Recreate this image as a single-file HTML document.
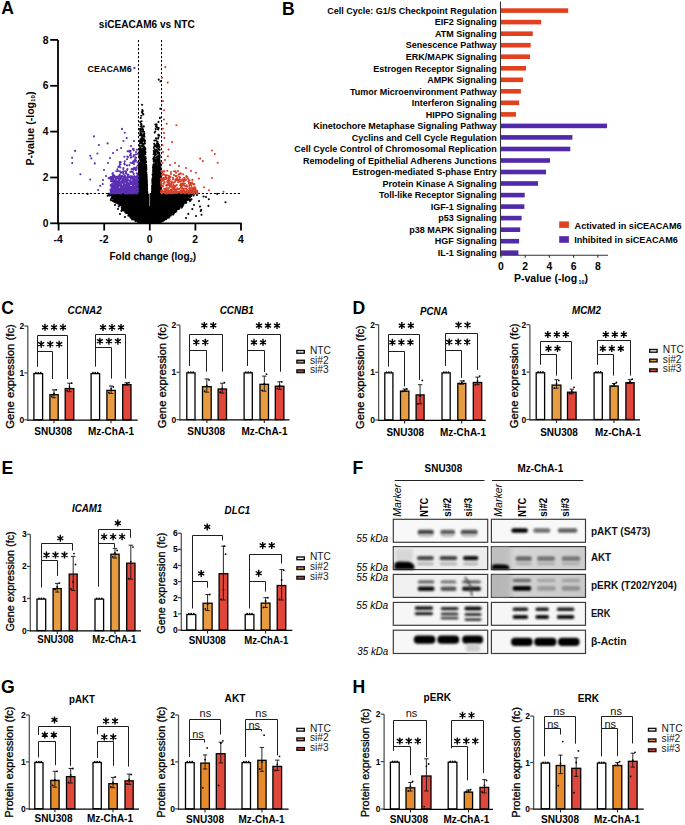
<!DOCTYPE html>
<html><head><meta charset="utf-8"><style>
html,body{margin:0;padding:0;background:#fff;width:685px;height:825px;overflow:hidden;}
svg{display:block;font-family:"Liberation Sans", sans-serif;}
</style></head><body>
<svg width="685" height="825" viewBox="0 0 685 825" font-family='"Liberation Sans", sans-serif'>
<rect width="685" height="825" fill="#fff"/>
<text x="1.3" y="14.2" font-size="17.6" font-weight="bold" text-anchor="start" fill="#000">A</text>
<text x="282" y="14.6" font-size="17.6" font-weight="bold" text-anchor="start" fill="#000">B</text>
<text x="1.3" y="314.2" font-size="17.6" font-weight="bold" text-anchor="start" fill="#000">C</text>
<text x="352.4" y="314.2" font-size="17.6" font-weight="bold" text-anchor="start" fill="#000">D</text>
<text x="1.6" y="474.2" font-size="17.6" font-weight="bold" text-anchor="start" fill="#000">E</text>
<text x="352.6" y="474" font-size="17.6" font-weight="bold" text-anchor="start" fill="#000">F</text>
<text x="1" y="692.7" font-size="17.6" font-weight="bold" text-anchor="start" fill="#000">G</text>
<text x="352.4" y="692.7" font-size="17.6" font-weight="bold" text-anchor="start" fill="#000">H</text>
<path d="M139.4 221.7L137.4 220.2L135.6 218.7L134 217.2L132.5 215.8L131 214.3L129.6 212.8L128.2 211.3L126.9 209.8L125.7 208.3L124.4 206.8L123.2 205.4L122 203.9L120.8 202.4L119.7 200.9L118.6 199.4L117.4 197.9L116.3 196.5L115.3 195L114.2 193.5L187.5 193.5L186.3 195L185.1 196.5L183.9 197.9L182.6 199.4L181.4 200.9L180.1 202.4L178.8 203.9L177.5 205.4L176.1 206.8L174.8 208.3L173.3 209.8L171.9 211.3L170.4 212.8L168.8 214.3L167.2 215.8L165.5 217.2L163.7 218.7L161.7 220.2L159.5 221.7Z" fill="#000"/>
<g stroke="#000" stroke-width="1" stroke-dasharray="2.2 1.8" fill="none">
<path d="M138.5 40V223.3M161.5 40V223.3M57.8 193.5H241"/>
</g>
<path d="M183.2 199.2h0M130.2 214.3h0M125.6 210.7h0M184.7 193.5h0M174.4 209.9h0M119.7 198h0M122.1 202.9h0M168 214.7h0M176.4 202.8h0M185.6 196.5h0M119.7 202h0M127 209.9h0M116.7 199.1h0M118 202.3h0M133.5 215.8h0M171.7 207.8h0M159.7 222.2h0M119.5 198h0M175.8 211h0M168.9 215.6h0M121.6 202.7h0M122.1 203.9h0M119.9 204.1h0M132.9 217h0M174.1 211.5h0M183.3 195.2h0M119.9 199h0M119.3 197.9h0M172.7 208.6h0M128 210.9h0M178.2 204.2h0M170.4 213.1h0M118.2 198.6h0M161.2 220.5h0M164.5 218.5h0M172.2 208.3h0M118.6 197.4h0M138.6 220.9h0M171.3 212.7h0M124.3 208.6h0M115.4 197.6h0M170.9 211h0M174.7 208h0M140.1 222.4h0M131.9 216.4h0M167.3 216.3h0M129.2 212.4h0M184.7 202.8h0M175.9 211.7h0M113.2 198.6h0M175.1 207.9h0M130.9 213.4h0M160 221.4h0M113.8 198.3h0M173.1 208.3h0M175.1 207.3h0M119.7 204.7h0M117.2 203h0M181.4 200.9h0M126.5 209.7h0M138 222.1h0M168.8 217.8h0M166.3 217h0M122.6 206.6h0M176.1 208.4h0M122.4 201.3h0M130.2 213.2h0M128.2 212h0M137.2 220.9h0M178.2 205.1h0M169.3 215.6h0M162.7 219.7h0M117.9 199.8h0M124.9 207.8h0M117.4 198.6h0M113.9 195h0M129 210.4h0M139 220.9h0M161.9 220.8h0M140 221.9h0M136.3 218.7h0M135.2 219.3h0M140.3 222.1h0M122.4 202.7h0M167.7 215.4h0M161.9 220.5h0M174.9 210.8h0M133.8 217.1h0M171.9 211.4h0M130.4 212.8h0M172 211.9h0M181.5 206.4h0M118.3 199.2h0M113 196.8h0M163 218.6h0M175.3 208.8h0M127.4 207.6h0M117.9 198.8h0M158 222.2h0M122 202.8h0M133.1 217.1h0M139 220.6h0M113.3 198.2h0M140.8 222.4h0M186.4 195.5h0M115.1 195.5h0M125.7 205.6h0M169.5 211.9h0M167.1 214.4h0M121.1 205.3h0M119.3 203.2h0M131.2 215h0M160.8 220.6h0M169.8 215.2h0M170.9 215.5h0M189.9 196.5h0M179.9 205.6h0M180.1 202.4h0M122.1 201.1h0M113.4 193.8h0M138 220.5h0M138.8 221.5h0M165.6 218.1h0M116.7 195.9h0M171.3 212.4h0M183 201.3h0M124 208.9h0M119.6 196.9h0M181.5 203.4h0M138.8 222h0M175.3 206.6h0M124.9 207.5h0M179.9 205.6h0M134.5 219h0M122.7 209.4h0M118.8 198.6h0M135 220h0M123.2 210.3h0M115.1 198.2h0M122.6 207.5h0M185.7 197.8h0M114.8 199.7h0M136.7 219.5h0M167.3 217h0M176.7 205.8h0M139.1 222.3h0M136 218.2h0M130.7 211.6h0M175.2 207.1h0M188.5 198h0M181.6 206.8h0M175 206h0M123.7 209h0M141.1 222.4h0M180.9 203.6h0M160.3 221.4h0M137.4 220h0M136.1 220.8h0M181.7 202.7h0M115 198h0M120.6 200.4h0M114.5 197.4h0M175.2 209.4h0M118.9 198.6h0M135.2 218.4h0M131.2 215.6h0M126.3 205.8h0M114.5 202h0M164.4 217.6h0M167.9 214.1h0M132.7 216.8h0M121.3 204.7h0M159.7 221.9h0M126.5 209.5h0M113.1 198.9h0M131.5 212.4h0M162.9 219.6h0M124.2 201.4h0M125.1 202.9h0M125.7 209.2h0M139 222.3h0M131 212.9h0M181.3 203h0M142 222.6h0M183.3 198.9h0M119.1 202.5h0M177.6 206.4h0M190.1 196.3h0M124.3 208.4h0M127 203.9h0M173.8 206.7h0M134.9 219.7h0M139.3 221.7h0M118.1 199h0M138.7 221.5h0M178.9 205.5h0M123.2 198.3h0M122.5 203.3h0M126.9 210.6h0M129.8 215.2h0M174.4 209.3h0M125.7 210.9h0M110.8 195.1h0M122.6 203.5h0M125.6 207.6h0M129 212.8h0M109.8 195.1h0M171.7 212.4h0M186.7 199.9h0M162 218.3h0M118.5 201.2h0M166.5 218.8h0M123.5 206.1h0M181.9 196.4h0M178.5 201.5h0M136.8 219.4h0M173.3 210.8h0M133.8 219.5h0M113.1 198h0M166.9 214.1h0M170.9 212.8h0M128.4 212.3h0M129.8 215.1h0M164 220.2h0M176.6 205.6h0M174.4 212.4h0M125.5 206.9h0M159.9 221.6h0M165.4 218.4h0M183.1 198.3h0M126.4 208.7h0M131.2 214.7h0M175.2 205.8h0M135.1 219.4h0M183.1 202.1h0M132.7 215.8h0M141.1 222.3h0M182.5 205.5h0M170.8 213.7h0M127 208.6h0M135.7 219.5h0M171.3 211.6h0M176 208.2h0M163.2 219.6h0M122.5 207.6h0M185.7 201.4h0M183 199.9h0M126 212.6h0M138.3 221h0M175.5 210.6h0M120.5 202h0M119.2 200.4h0M123.8 204.1h0M185.2 194.3h0M188.6 199.8h0M169.7 212.9h0M116.6 195.9h0M122.2 205.9h0M171.6 212.4h0M181.9 198.4h0M159.4 222.1h0M164.9 218.7h0M161.2 220.2h0M169.9 211.8h0M175.6 208.7h0M163.5 218.8h0M183.2 196.4h0M135.1 219.1h0M188.8 199.7h0M160 221.6h0M188.9 194.6h0M121.5 210.9h0M176.1 210h0M177.8 208.9h0M186.3 195.6h0M118.6 203.8h0M120.3 205h0M127 211.2h0M131.6 214.5h0M178.6 207.3h0M113.9 195.4h0M116.3 200.7h0M127.8 207.2h0M180.1 203.2h0M120.8 203.2h0M126.5 211h0M124.8 209.1h0M164.9 218.7h0M183.3 196h0M136.7 218.3h0M116.2 195.8h0M129.8 211.8h0M172 208.6h0M167 215.6h0M119.6 202.4h0M140.8 222.6h0M176.9 209.2h0M124.3 203.7h0M166.6 217.2h0M185.6 196h0M170.6 214.2h0M128.6 208.9h0M133.2 216.4h0M119.1 197.6h0M187.7 199.8h0M177.5 205.3h0M132.3 214.9h0M186.9 198.2h0M120.8 196.4h0M175 205.3h0M115.9 202.6h0M184.4 200.8h0M162.9 220.6h0M128.6 214h0M186.8 193.7h0M114.2 197.9h0M124.6 207h0M180.3 206.4h0M117 199.2h0M182.6 206.3h0M123.1 206.6h0M172.4 209.9h0M178.9 207.3h0M138.7 222.1h0M188.9 194h0M172.7 211.4h0M167.2 217.8h0M166.7 215.7h0M185.8 197.6h0M166.8 217.2h0M183.9 201.4h0M137.9 221h0M183.5 202.7h0M125.5 207.4h0M138.4 221.2h0M160.9 220.5h0M181.5 202.6h0M130.8 215.5h0M181.6 203.6h0M135.4 218.7h0M165.5 215.1h0M171.4 211.9h0M132.9 216.5h0M130.8 216.9h0M187.3 197.7h0M111.7 195.8h0M174.3 211.6h0M129.2 215.2h0M120.5 202.6h0M114.1 199.3h0M122.1 203.5h0M178.7 204.4h0M165.4 218.6h0M134.5 219.1h0M191.7 193.9h0M115.4 197.9h0M138.3 220.8h0M133.8 217.7h0M137.9 219.7h0M186.4 199.8h0M113.7 195h0M182.7 200.8h0M173.1 214.6h0M160.3 221.3h0M113.9 197.7h0M185.9 196.1h0M164.5 217.6h0M116.8 197.6h0M171.3 211.7h0M133.8 217.7h0M186.2 195.2h0M134.2 216.5h0M133.7 216.4h0M180 203.5h0M173.8 210.4h0M126.9 210h0M163.4 220.1h0M138.1 220.4h0M166.1 219.1h0M174.5 209.2h0M118 199.2h0M163.2 218.9h0M128.4 211.2h0M128.5 212.2h0M164.5 218h0M125.2 209.2h0M128 213.1h0M141.2 222.3h0M158.5 222.4h0M119.2 201.7h0M169 216.6h0M133.7 216.8h0M162.6 218.4h0M190.7 196.1h0M182.8 201.4h0M139.9 222.3h0M174.1 206.7h0M171.6 212.7h0M172.8 210.7h0M118.4 203.5h0M115.2 194.1h0M139.6 222.1h0M182.9 204.7h0M128.2 212.3h0M175.5 209.1h0M181.2 201h0M129.7 212.7h0M183.3 199.3h0M120.9 202.1h0M118.3 195.2h0M125.3 209.4h0M170.3 213.4h0M163.3 219.4h0M128.8 211.9h0M172.4 210.3h0M165.8 218h0M124.2 206.9h0M176.7 204.7h0M162.4 220.4h0M174.5 211.9h0M168.3 214.5h0M114.8 195.8h0M124.9 208.7h0M118.2 198.2h0M119.2 203h0M122.3 206.1h0M173.6 207.4h0M109.3 194.2h0M182.1 198.3h0M113.5 196.6h0M178.5 204h0M183.3 198.5h0M118.8 196h0M187.9 194.4h0M123.7 204.9h0M166.1 218.2h0M128.9 209.8h0M176.4 204.4h0M181.3 205.1h0M181.9 197.5h0M177.1 207.5h0M176.1 207.7h0M115.5 200.5h0M180.4 200.9h0M127.4 212.2h0M135.3 219.4h0M172.4 210.8h0M115 201.7h0M117.6 200.1h0M126.2 210.2h0M137.9 221.3h0M185.4 201h0M131.5 216.5h0M173.2 210.1h0M163.5 219.2h0M119.9 204h0M124.6 204.3h0M131.5 214.6h0M181.8 207.6h0M174.6 212.3h0M177.9 206.3h0M166.2 217.5h0M174 206.2h0M172.1 212.2h0M133 215.8h0M169.5 216.5h0M157.8 222.5h0M119.6 199.5h0M137.7 220.3h0M177.4 206.9h0M181.3 196.4h0M131.6 213h0M185.8 202.8h0M121.8 207.5h0M161.8 221.1h0M118.8 201.3h0M183.5 194.9h0M134.2 217.9h0M174.5 210.8h0M189.4 193.5h0M128.5 208.9h0M171.6 211.1h0M126.5 213h0M179.1 203.1h0M169.2 214.6h0M180.6 195.9h0M131.5 217.8h0M111.5 194.9h0M133.5 216.8h0M165.6 219h0M174.1 205.2h0M113.6 195h0M119.3 199.6h0M160.6 221.4h0M161.1 220h0M116.4 202.5h0M177.1 199.9h0M121.8 199.2h0M126.9 208.4h0M180.1 194.2h0M190.5 193.9h0M118.7 203.6h0M124.6 210h0M120.4 201.4h0M158.1 221.4h0M129.5 213h0M120.3 205.3h0M169.9 214.2h0M179.9 203.1h0M118.3 203.8h0M114.8 197.2h0M127.6 207.1h0M183.1 198h0M133.1 215.7h0M133 218h0M165.6 217.7h0M135.4 221h0M141.8 222.3h0M123.7 205.3h0M161.3 219.4h0M113 196.5h0M129 215.6h0M160.8 220.1h0M175.3 208.9h0M182.9 198.3h0M166.8 214.8h0M185.4 201.2h0M178.5 203.6h0M128.3 208.1h0M182.4 200.4h0M136.9 220h0M179.9 203.4h0M120.5 205.2h0M135.9 219.1h0M186.3 202.8h0M136 219.3h0M169.1 216.1h0M189 194.9h0M123.5 204.4h0M137.6 218.8h0M123.8 208.9h0M162.3 220.3h0M129.7 212h0M121.8 205.1h0M192.5 193.9h0M124 210.6h0M176.8 208.1h0M178.8 206.6h0M162.1 221.2h0M182 200.9h0M178.6 204.7h0M168.7 215.6h0M169.4 214.4h0M133.7 217.7h0M121.1 201.1h0M135.3 219.1h0M192.8 194.2h0M128.3 213.3h0M164.2 219.4h0M160.8 221.3h0M125.3 205.5h0M115.6 193.6h0M179.9 205.2h0M122.4 206.3h0M186.3 196.2h0M171.1 214.4h0M133.1 218.5h0M189.4 195.3h0M176.9 207.3h0M127.8 211.9h0M192.2 193.9h0M136.8 220h0M178.1 207.8h0M120.3 202.3h0M162.1 219.4h0M135.2 219.8h0M121.4 204.9h0M171.6 213.9h0M107.6 195.7h0M168.6 216.4h0M126.2 210.3h0M115.9 194.9h0M118.4 197.8h0M172.7 212.3h0M132.3 213.7h0M134.4 217.4h0M130.7 213.4h0M135.1 217.4h0M122.3 204.1h0M118.9 201.5h0M116.4 200.5h0M185.7 201.3h0M122 203.6h0M138.1 220.4h0M131.4 215.3h0M160 222.3h0M128.9 213.8h0M131.7 214.2h0M125.7 212.8h0M184.9 199.3h0M128.2 207.2h0M123.7 206.8h0M173.9 211.7h0M188.8 193.6h0M174.8 203.4h0M123.5 208.8h0M122.3 209.2h0M113.9 196.8h0M139.1 220.7h0M171.1 214.3h0M169 212.8h0M119.3 200.3h0M123.9 202.6h0M181.1 205.6h0M191.3 196h0M159.8 222.2h0M114.6 195.3h0M157.8 222.4h0M173.7 206.2h0M116.8 202.4h0M181.6 206.4h0M134 218.9h0M128.9 214h0M140.2 221.2h0M124.6 204.9h0M119.8 203.1h0M140.1 221.9h0M167.4 217.3h0M126.8 204.6h0M177.1 198.1h0M188.3 194h0M176.9 207.6h0M115.9 199.5h0M113 194.2h0M119.5 203.3h0M137 220.1h0M190.2 196.9h0M127.6 209h0M186.3 195.8h0M179.2 204.3h0M173.9 208.4h0M168.6 213.6h0M122.1 207.5h0M172.6 211h0M126.3 206h0M125.9 209.6h0M162.8 216.4h0M131.6 212.4h0M139.5 221.4h0M132.1 213.1h0M120.8 198.6h0M167 216.9h0M166.2 214.7h0M176.5 206.6h0M116.1 197.6h0M187.1 198.9h0M161.8 220.4h0M175 209.8h0M132.8 216.7h0M124.7 206.7h0M115.6 201.6h0M170.1 212.5h0M170.4 214.2h0M175.4 205.9h0M133.3 217.8h0M163.5 219.2h0M125.2 208.1h0M137.1 218.7h0M130.5 217.6h0M131 215.1h0M108.6 193.8h0M119.1 200.7h0M187.2 200.3h0M185 202.9h0M114.2 200.7h0M122.6 204.1h0M122.3 205.6h0M131.6 214.8h0M173.7 210.8h0M117.7 200.5h0M179.1 206.6h0M171.8 205.8h0M136.1 217.2h0M132.2 215.5h0M180 203.7h0M172.5 212.3h0M160.2 220.9h0M139.5 221.6h0M185.8 199.1h0M186.1 197h0M133.1 217h0M186 194.9h0M114.2 198.1h0M175.5 208.3h0M174.7 212.3h0M110.8 199.9h0M176.9 209.2h0M166.5 214.2h0M130.4 217.1h0M115.7 200.9h0M191.5 199.3h0M138.1 221.9h0M124.4 208.4h0M175.8 206h0M178.2 207.1h0M159.4 221.8h0M179.5 203.6h0M121.1 203.1h0M117.7 197.2h0M177.6 201.4h0M186.2 200.8h0M133.9 217.2h0M174.8 201.9h0M187.6 195h0M173.7 207.4h0M125.8 209.1h0M122.4 206.6h0M169.9 209.9h0M177.3 204.1h0M173.8 213.5h0M125 205.6h0M164.2 217h0M174.7 204.1h0M123.3 209.3h0M180.5 197.2h0M129.4 213.2h0M163.5 220.6h0M169 215.6h0M165.7 217.6h0M159.2 221.6h0M167.8 216.8h0M169.3 215.1h0M133.8 216.3h0M122.7 209.6h0M128.3 215.6h0M117.4 197.8h0M180.3 206h0M125.1 203.8h0M138.7 221.5h0M125.8 209.3h0M180.7 200h0M176 206.3h0M132.3 218.2h0M126.5 210.3h0M190 201.1h0M184.9 200.6h0M163.6 219.3h0M183.1 202.3h0M117.3 196h0M172.8 207.7h0M139.2 220h0M122.9 205.8h0M119.1 195.7h0M177.2 207.8h0M189.7 199.2h0M169.5 215.7h0M171.8 213.3h0M164.2 219.5h0M174.9 205.9h0M112.7 195.2h0M179.4 195.4h0M130.8 216.3h0M174.1 204.6h0M131.8 215.9h0M158.8 221.8h0M133.8 217.2h0M182 193.9h0M114.6 198.9h0M175.5 210.4h0M189.2 195.7h0M130.2 214.8h0M125 208.3h0M130.2 215h0M111.8 197.8h0M118.9 200.5h0M118.8 198h0M185.3 201.9h0M174.9 208h0M184 195.2h0M177.2 208h0M122.6 205.3h0M174.5 211h0M115.7 201.3h0M117.5 200.4h0M139.8 221.1h0M175.2 209.5h0M138.2 221.1h0M118.7 206.4h0M109.3 195.4h0M174.4 204.2h0M189.5 199.1h0M181.9 205.2h0M171.5 208.9h0M158.6 221.5h0M181.7 200.9h0M160.4 219.8h0M184.8 197.4h0M180.8 200h0M119.4 198.7h0M181.5 199.2h0M125.8 207.5h0M112.8 193.9h0M177.1 205.2h0M139.7 221.8h0M128.9 211.1h0M120.2 201.3h0M161.5 220.7h0M181.5 205.4h0M166.1 217.1h0M167.4 213.4h0M168.9 214.5h0M186.3 193.8h0M125.3 212.3h0M115.3 199.3h0M124 204.5h0M176.4 210.7h0M176.5 208.4h0M112.3 200.7h0M128.2 209.2h0M112.6 195.6h0M136.9 220.2h0M135.7 220.1h0M164.6 219.8h0M121.1 204.6h0M158 221.9h0M122.8 204h0M134.4 218.5h0M115.6 196.4h0M137.1 221h0M183.3 195.9h0M123.7 204.1h0M128 211.1h0M180.3 205.6h0M122.7 205.6h0M180.9 204.6h0M118.9 202.3h0M163.7 217.5h0M170.2 212h0M116.2 193.6h0M183.6 202h0M131.4 212.4h0M134.5 218.4h0M129.9 213.8h0M125 206.2h0M113.5 197.9h0M131.8 215h0M118.1 200.1h0M162.6 219.3h0M123.4 204.5h0M183.4 204.7h0M128.4 212.2h0M170 207.7h0M132.2 219.4h0M112 194.8h0M174.8 210.4h0M122.4 208.5h0M127.5 212.6h0M170.5 213.7h0M175.7 205.4h0M123.9 206.1h0M118 196.2h0M130.3 212.3h0M130.3 213.2h0M121 199.6h0M174 212.2h0M119.7 198.2h0M129.4 213.1h0M165.8 216.7h0M131 215.8h0M123.7 203.8h0M181.6 205.5h0M165.2 217.5h0M125.4 205.3h0M135.9 220.3h0M117.9 196.1h0M163.6 220.1h0M174.9 208.8h0M124.3 206.3h0M116.5 196.2h0M127.5 209.4h0M168 214h0M177.6 204.6h0M183.9 196.4h0M170.5 214.3h0M182.2 206.7h0M187.9 193.8h0M181.4 201.3h0M114.5 194.4h0M120.5 203.7h0M172.1 211h0M177.7 206.6h0M169.2 216.6h0M172.2 210.2h0M188.5 194.2h0M177.5 208.2h0M128.5 212.1h0M181.9 201.2h0M112.7 194.6h0M124.7 208.5h0M157.5 222.2h0M160.6 222h0M183.6 198.7h0M194.9 193.6h0M160.6 219.8h0M124.2 205.2h0M183 202.1h0M115.1 197.9h0M138.8 221h0M114.6 201.6h0M164.5 218.1h0M125.8 209.2h0M120.4 201.7h0M126.9 208.4h0M115.3 198.3h0M118.7 195.8h0M116.7 199.6h0M119.9 203.4h0M188.2 196.2h0M158.9 222.3h0M180.5 201.6h0M159 222.2h0M179 208.9h0M190.4 193.7h0M166.2 217.1h0M174.5 211.3h0M165.2 217.1h0M183.6 202.4h0M111.2 198.6h0M178.7 202.9h0M115.2 198.3h0M176.9 209.1h0M133.8 217.8h0M117.7 195.5h0M180.2 203h0M175.9 205.6h0M127.3 209.4h0M179.4 208.3h0M171.7 211.3h0M131 215.3h0M189.6 193.7h0M180 198.7h0M182.2 202.8h0M187.1 199.2h0M164.6 217.8h0M139.7 221.5h0M176.6 204h0M114.3 198.9h0M139.9 221.9h0M126.7 211.7h0M137.2 220.7h0M135.3 220.1h0M181.4 201.6h0M133.3 217.5h0M188.8 194.2h0M116.6 199.8h0M138.5 221.2h0M193.6 195.5h0M176.3 205.6h0M116.8 194.3h0M183.6 200.3h0M113.2 200.2h0M173.8 209.8h0M130.2 214.7h0M190.2 193.6h0M187.2 195.2h0M130.1 210.9h0M166.9 218.3h0M166.4 215.3h0M137.9 219.5h0M113.6 196.1h0M125.9 204.9h0M137.1 220.4h0M136.4 220.5h0M121.8 209.2h0M175 207.5h0M181.2 200.7h0M181 200.1h0M119.9 198.9h0M115.5 198.9h0M163 219.4h0M132 217h0M125.9 207.2h0M127.4 212h0M179.1 202.5h0M190.3 196h0M171.5 213.2h0M119.3 204h0M161.5 220.1h0M129.7 212.7h0M132.5 212h0M124.7 207.8h0M134.5 218.6h0M116.2 197.2h0M115 197.9h0M170.5 213.8h0M189.8 194h0M160.5 220.6h0M118.4 198.1h0M140.7 221.4h0M121.6 199.8h0M145.7 222.1h0M158.3 220.8h0M141 221.2h0M145.1 221.3h0M151.1 222.3h0M153.5 222h0M150 220.7h0M156.1 221.8h0M149.6 222.4h0M142.3 221.7h0M146.7 221.8h0M139.9 221.1h0M150.5 221.7h0M155.2 220.2h0M159.2 220.8h0M148.2 222.2h0M152.2 221.3h0M142 219.9h0M144.9 220.8h0M154.8 221.2h0M153.4 219.9h0M154.6 222.6h0M140.9 220h0M143.5 222.1h0M146.4 220.5h0M149.8 221.8h0M144.2 222.1h0M150.1 221.9h0M149.5 222h0M157.6 221.9h0M151.5 221.6h0M143.7 221h0M145.9 220h0M158.1 220.1h0M153.8 220.1h0M151.2 222.1h0M143.5 222h0M140.5 221.6h0M150 221.4h0M141.6 220.4h0M158.9 220.7h0M139.9 221.4h0M152.1 222.2h0M154.8 221.6h0M149 222.2h0M148.7 222.1h0M153.3 221.4h0M156.7 222.2h0M153.3 222.6h0M143.9 222.2h0M142.5 220.6h0M142.3 222.5h0M151.9 221.8h0M141.1 221h0M151.8 221.4h0M141.2 221.2h0M140.2 221.5h0M144.9 222.5h0M147.2 221.4h0M141.5 222.5h0M157.7 221.8h0M143.1 221.1h0M153.6 221.5h0M150.2 221.1h0M142.3 220.4h0M156 221.6h0M159.3 221.3h0M150.1 221.1h0M141 222.4h0M156.8 220.5h0M141.6 220.7h0M144.7 222.3h0M158.2 221.7h0M142.2 220.2h0M139.5 222.6h0M148.7 221.2h0M149.1 221.5h0M147.5 220.7h0M141.9 220.4h0M140 222.5h0M140 221h0M150.8 220.7h0M146.6 221.9h0M139.5 221.2h0M144.5 221.6h0M156.2 222.6h0M153.6 222.4h0M145.4 220.3h0M154.9 222.3h0M153.9 222.6h0M149.5 222.1h0M146.6 222.2h0M143.7 220.8h0M150.5 222.4h0M146 221.1h0M152.8 220.1h0M141.4 222.4h0M141.5 221.7h0M155 221h0M153.1 220.7h0M148.8 222.1h0M142.7 221.1h0M156.8 220.3h0M155 221.7h0M150.6 220.1h0M150.3 222.5h0M158.6 221.4h0M153.7 222.3h0M149.3 220.3h0M146 219.9h0M141.5 221.7h0M158.3 221.1h0M143.9 220.5h0M156.2 221.2h0M150.1 221.4h0M146.2 221.8h0M147.7 222.1h0M141.1 220.6h0M141.3 220h0M150.7 220.4h0M141.1 221.6h0M153.3 221.9h0M150.7 220.3h0M155.2 221.1h0M148.5 221.9h0M156.8 221.6h0M154.7 220.2h0M145.7 221.5h0M155.6 222h0M154.3 220.5h0M141 221.1h0M140.8 220.6h0M143.8 220.1h0M146.2 222.4h0M142.3 221.3h0M146.7 220.6h0M157 221.6h0M156.7 220.7h0M154.7 222.3h0M149.6 220.2h0M149.8 220.7h0M150.6 220.8h0M145.1 221.7h0M156.3 220.4h0M158.2 222h0M150.9 222.4h0M150.9 221.6h0M154.9 221.7h0M145.7 222.3h0M143.4 221.8h0M140.1 221.1h0M155.9 220.1h0M142 222.3h0M144.6 222.5h0M156.3 222.4h0M146.6 221.6h0M142 222.4h0M141.4 220.3h0M154.7 221.8h0M143 220.5h0M144.7 221.4h0M157.5 220.2h0M142.5 222.5h0M141.1 221.3h0M152.8 220.4h0M148.9 220.3h0M154.3 222.6h0M150.1 222h0M157.8 221.3h0M144.2 221.1h0M148.1 222.6h0M153.6 222.6h0M148.9 221.5h0M148.1 222.1h0M153.5 220.7h0M142.6 221.9h0M157 221.5h0M153.9 220.8h0M158.1 220.8h0M157 222.6h0M147.2 222.3h0M141.4 220.5h0M146.8 220.1h0M152.5 221.4h0M142 222.1h0M157.8 221h0M146.6 220.8h0M157.1 221.4h0M139.9 222.5h0M142.1 222.1h0M149.1 220.5h0M155.9 220.7h0M141.2 220.9h0M145 220.2h0M158.8 220.8h0M154.1 221.8h0M156.7 219.9h0M147.9 219.9h0M150 221.8h0M149.8 221.7h0M157.7 222.4h0M143.7 221.7h0M156.5 222.3h0M157.7 222.2h0M149.7 220.3h0M147.2 220.7h0M152.9 221.2h0M146.1 221.6h0M152.6 220.7h0M156.5 220.3h0M150.8 220h0M149.8 220h0M152.5 221.5h0M142.1 220.3h0M143.2 221.2h0M159.2 222h0M158.3 220.4h0M144.2 220.6h0M151.6 220.5h0M140.2 222.1h0M148.9 222h0M152.1 222h0M154.9 222.4h0M142.3 222.1h0M155.7 222.2h0M158.1 221.4h0M157 221.1h0M140.8 220.1h0M157 220.3h0M148.8 220.7h0M142.4 221.1h0M152.1 221.3h0M152.2 220.7h0M140.3 220.5h0M159 220.6h0M146.9 222h0M144.9 221.8h0M153.8 220.3h0M154.1 222.3h0M145.8 220.7h0M149.1 221.3h0M151.2 222.4h0M157.2 222.4h0M145 221.1h0M145.4 220.8h0M142.4 220h0M152.9 221.1h0M141.1 221.6h0M147.1 222.3h0M158.9 220.5h0M201.2 209.9h0M201.5 214.7h0M208.4 205.9h0M206 197h0M188.3 213.9h0M192.3 209.1h0M200 206.6h0M208.8 199.3h0M217.2 193.9h0M225.5 202.3h0M200.7 211h0M87.6 193.9h0M196 216h0M194 205h0M112 197h0M113.5 201h0M115 205h0M109.5 195.5h0M125 217h0M203.5 196.5h0M190.5 200.5h0M197 195h0M199 201h0M186 218h0M120 214h0M118 209h0M138.6 180.4h0M139 185.9h0M140.1 175.9h0M146.2 192.9h0M141.7 193.2h0M141.5 186.3h0M140.1 186.3h0M141.9 145.9h0M141.5 188.8h0M138.8 188.8h0M146.6 187.6h0M140.9 158.5h0M139.1 192.3h0M146.3 193.2h0M142.4 128.3h0M144.1 192.7h0M145.2 174.9h0M144.5 184.5h0M143.8 156.7h0M144.6 157.7h0M144.7 191.6h0M145.6 172.4h0M143.5 176.1h0M143.7 189.1h0M141.8 192.8h0M141 181.6h0M146.1 193.5h0M146.1 177.5h0M144.4 187.1h0M143.1 170.1h0M142.7 180.7h0M143 177.5h0M142.6 183.3h0M144.3 136.6h0M143.9 186.1h0M142.6 157.1h0M140.6 190.5h0M145.2 174.8h0M139.5 169.7h0M146.1 174.8h0M145.1 169.4h0M142 184.5h0M145.4 171.4h0M145.7 185.1h0M143.7 184h0M144 189.3h0M139.2 187.7h0M144.9 148h0M144.9 172.8h0M138.9 177.2h0M143.8 177.4h0M143.7 175h0M145.7 175.6h0M143.5 186.3h0M141 187.3h0M141.7 165.9h0M146.3 173.1h0M143.7 179.4h0M140.9 183.6h0M138.1 187.5h0M139.6 192.8h0M146.1 192.3h0M142.3 188.7h0M142.7 192.2h0M140.8 183.1h0M142.5 172.8h0M146 192.4h0M143.7 176.1h0M139.7 146h0M138.5 183.5h0M140 189.2h0M141.3 154.2h0M142.4 170h0M139 184.7h0M145.4 193.2h0M141.9 190.5h0M144 191.2h0M139.4 188h0M145.9 175.3h0M140.4 142.5h0M141.3 188.2h0M144.2 174.8h0M143.9 149h0M138.9 185h0M145.6 176.1h0M138.5 192h0M140 178.3h0M141.8 159.2h0M139 191.4h0M139.2 182h0M143.2 183.5h0M140.4 188.8h0M142.3 181.5h0M138.6 184.3h0M144.7 187.4h0M140.2 173.4h0M143.2 185.6h0M145.4 191.9h0M142.7 187.4h0M147 190.2h0M142.6 181.4h0M141.1 191.9h0M141.2 176.8h0M138.5 191.4h0M139.7 176.8h0M145.3 181.3h0M145 192.5h0M143.2 187.9h0M141 174.5h0M146.4 190.9h0M143.5 191.6h0M143.3 179.8h0M141.4 175h0M139.3 176.8h0M146 166.5h0M142.4 156h0M143.1 131h0M140.7 192.2h0M142.5 191.1h0M139.4 189.9h0M140.8 193h0M146.3 188h0M141.9 178.5h0M140.9 187.6h0M142.8 113.6h0M141 192.7h0M141.2 143.2h0M142.7 180h0M145 179.4h0M145.6 189.8h0M144.8 192.1h0M138.6 189.6h0M144.2 170h0M146.4 184.3h0M145.9 172.1h0M143 139.5h0M144.6 169.4h0M141.7 187h0M142.8 170.4h0M140.3 188.7h0M145.2 183.6h0M144.6 192.3h0M145.2 191.1h0M140.9 193.1h0M142.2 179.2h0M141.2 151.9h0M146.3 188.4h0M145.9 183.4h0M142.4 178.4h0M139 192.7h0M146.1 179.1h0M138.7 193.2h0M143.5 185.7h0M138.6 184.8h0M139.7 168.7h0M143.5 183.8h0M138.4 182.2h0M145.2 185.9h0M144.6 184.7h0M138.9 188.6h0M146.9 188.3h0M145.4 184.5h0M146.2 185.9h0M139.4 191.9h0M142.5 178.8h0M140.8 187.8h0M139.7 158.9h0M140.7 191.3h0M140.2 152h0M141.9 191.8h0M142.6 165.9h0M138.9 170.1h0M142.6 179.2h0M138.3 186.2h0M143.6 153.5h0M140.1 186.1h0M139.7 179.4h0M144.7 180.5h0M144.9 190.5h0M142.1 151.4h0M141.3 170.9h0M139.7 190.3h0M145.1 187.8h0M146.1 189.2h0M144.2 135.8h0M140.2 188.3h0M144.7 185.8h0M138.1 188.9h0M143.7 138.9h0M145.3 187h0M143 176.5h0M138.6 184.4h0M144 154.2h0M144.9 181.7h0M138.6 168.7h0M139.8 165.8h0M146 178.2h0M141.6 190h0M138.8 190.9h0M142.6 193h0M144.5 193h0M139.6 189.6h0M141.7 141.6h0M139.3 187.6h0M146.4 191.9h0M141.4 190.2h0M146.2 188.3h0M144.3 158.9h0M145.9 190.2h0M141 191h0M139.6 185.9h0M141.9 186.1h0M144.4 148.9h0M146.5 191h0M140.5 189.3h0M139.6 188h0M145.2 154h0M146.3 177h0M142.5 169.2h0M139.2 164.6h0M147.1 185h0M142.5 146.1h0M145.3 192.4h0M146 170.5h0M146.7 191.2h0M140.9 188.7h0M142.9 193h0M141.4 191.9h0M141.6 175.9h0M142.6 177.8h0M139 180.8h0M143.2 183.3h0M143 184h0M140.2 192.8h0M141.4 189.8h0M140.4 180.4h0M140.1 162.9h0M145.6 172.1h0M140.3 133h0M141.6 152.9h0M138.7 175.9h0M141 191.5h0M138.7 193.3h0M144.1 172.2h0M144.6 185.9h0M145.4 192.9h0M140.8 187h0M145 172h0M143.7 183.6h0M138.4 182.1h0M142.6 146.1h0M144.1 178.1h0M140.1 185.9h0M144.3 166.5h0M144.3 188h0M138.8 184.1h0M144.9 177.7h0M139.9 157.1h0M146.6 185h0M140.2 192.5h0M145.1 180.1h0M145.3 176.6h0M139.6 182.3h0M139 189.3h0M141.8 164.4h0M143 156.9h0M142.2 186.4h0M144 131.8h0M146.3 175.2h0M140.4 139.4h0M146.4 190.8h0M141.6 185.4h0M145.9 165.6h0M144.3 180h0M142.8 176.9h0M142.4 153.9h0M140.9 192.2h0M143.9 183h0M145.7 183.1h0M143.6 191.4h0M143.5 190.8h0M144.9 191.7h0M146.7 185.9h0M141.8 175.6h0M141.2 168.9h0M144.1 162.7h0M144.2 174.1h0M140.8 165.2h0M144.8 177.5h0M141.3 186.1h0M144.9 190.6h0M144.3 183.1h0M142.3 186.7h0M138.2 185.6h0M144.6 176.1h0M143 193h0M141.4 169.6h0M144.7 193.4h0M140.6 175.7h0M141 181h0M139.6 192.4h0M147.2 192h0M144.7 193h0M143 151.4h0M144.1 178.2h0M142.6 187.9h0M140.1 174.4h0M145.9 179.4h0M142.3 187h0M146.6 192.9h0M143.6 189.4h0M141.5 191.8h0M144.7 171.3h0M139.7 145.7h0M145.7 171.1h0M140 190.7h0M145.8 170.3h0M144.3 181.4h0M138.7 179.1h0M144 186.9h0M147 190.2h0M141.6 121.2h0M142.3 184.8h0M138.5 181.5h0M142.7 176h0M146.5 178.4h0M143.7 189h0M140.8 192.7h0M144.9 164.5h0M140.6 163.8h0M145.7 193.1h0M143 191.3h0M144.5 180.6h0M142.7 188.7h0M140 172.7h0M145 188.9h0M141.2 188.8h0M143.1 185.5h0M143.1 193.1h0M145.6 180.7h0M146 187.4h0M140.4 179.2h0M142.1 191.7h0M139.7 178.7h0M145.6 188.1h0M144.6 182.4h0M140.8 187.7h0M141.1 167.5h0M142.6 184.9h0M142.5 178h0M140.1 176.5h0M144.4 183.4h0M145.3 175.6h0M145.3 191h0M138.1 185.6h0M143.5 178.2h0M144.4 187.5h0M141.4 187.3h0M146.2 189.3h0M145.6 193.4h0M140.5 189.1h0M142.8 182.8h0M142 192.5h0M142.8 180h0M138.7 192.1h0M140.4 190.4h0M146.5 189.8h0M141.6 188.1h0M144.9 174.9h0M143.6 174.5h0M139.5 190.3h0M146.2 176.2h0M141.5 184.7h0M140.5 141.1h0M138.8 183.3h0M143.6 154.1h0M141.2 188.7h0M141.9 184.1h0M145.4 185.1h0M143.8 185.1h0M143.2 169.1h0M141.1 192.6h0M139.8 189.1h0M138.2 191.4h0M145.7 190.9h0M140.3 187.4h0M140.8 183.2h0M141.7 167.8h0M141.3 184h0M143.1 169h0M142.9 186.6h0M141.7 164h0M144.8 182.2h0M146.3 169.2h0M144.4 171.3h0M141.3 176.4h0M140.5 172.1h0M145.5 191.9h0M140.2 184.6h0M139.7 188.5h0M141.8 137.6h0M141.5 177.5h0M141.8 177.6h0M142.8 191.9h0M145.4 188.4h0M147.1 191.3h0M140 164.3h0M143.9 184.9h0M138.2 183.7h0M139.6 179h0M146.1 181.9h0M144 177.3h0M141.4 179.3h0M140.9 183h0M145.4 166.7h0M138.1 191.2h0M142.3 131.7h0M141.6 174.5h0M142.7 165.4h0M145 192.8h0M138.8 179h0M141.3 186.2h0M146.6 192.2h0M138.5 189.5h0M139.5 186.5h0M143.3 191.8h0M144.2 186.2h0M144.6 190.2h0M146.5 190.3h0M146.9 182.7h0M138.7 182h0M142.2 166.5h0M144.7 157.9h0M139.2 152.8h0M142.6 190.8h0M143.6 184.9h0M146.8 190.1h0M143.6 184.2h0M144.3 178.9h0M146.8 192.7h0M143.4 193h0M138.6 175h0M142.6 193.3h0M143.8 183.3h0M139.8 182.7h0M142 186.8h0M139 186h0M146.1 184.2h0M138 188h0M146.4 189h0M138.5 189.4h0M144.7 188.2h0M142.2 175.9h0M142.9 180.7h0M145.4 191.3h0M145.3 193.2h0M141.6 179.9h0M144.9 171.5h0M140 192.6h0M143.8 191.3h0M144 140.8h0M144.7 185.8h0M144.7 177.5h0M141.9 168.8h0M138.8 165.7h0M146 190.8h0M143.9 180h0M142.6 191.8h0M140.6 191.4h0M144 185.8h0M145.7 186.5h0M139.4 186.9h0M138.8 181.2h0M145.5 186h0M146.8 189.5h0M146.5 178.6h0M142.4 177.8h0M143.1 144.1h0M139.4 172.8h0M139.2 176.4h0M145 189.1h0M143.4 185.2h0M141.7 192.6h0M142.7 177.8h0M145.5 179.1h0M146.4 189.4h0M143.9 152.3h0M138.5 191.3h0M138.9 181.3h0M139.4 166.6h0M142.5 165.4h0M145.6 186.8h0M142.2 191.3h0M140.2 190.7h0M142.7 192.6h0M146.6 184.3h0M139.7 189.9h0M138.5 177.4h0M143.2 169.9h0M146 162.5h0M138.9 163.9h0M144.8 193.5h0M146.9 192.8h0M142.1 187.1h0M139.6 177.6h0M140.2 184.3h0M138.7 192.8h0M140.9 180.7h0M143.2 191.6h0M144.5 147.6h0M140.8 130.5h0M140.2 175.8h0M141 133.4h0M144.5 180.6h0M143 178h0M146.2 173.7h0M145.2 188.2h0M145.3 181h0M138.6 183.1h0M141.8 174.3h0M144.1 189.1h0M144.1 164h0M142.5 178.3h0M137.8 191.6h0M144.2 187.8h0M142.6 191.4h0M140.5 158h0M139.4 192.7h0M140 184.5h0M143.3 185.3h0M144.4 188.1h0M140.4 182.5h0M142.3 180.4h0M144.5 184.7h0M141.4 179.6h0M144.4 183.4h0M144 147.3h0M142.4 176.5h0M138.8 186.1h0M142.7 187.4h0M142.2 191.2h0M146 186.3h0M144.1 174.4h0M140.6 186.8h0M146 179.4h0M144.8 158.7h0M145.2 164.9h0M144.9 181h0M141.8 173.3h0M142.7 179.8h0M143 181.8h0M143.5 135.7h0M138.1 190.2h0M140.8 177.2h0M140.9 191.8h0M144.3 152.8h0M138.3 192.8h0M141.7 179.5h0M139.7 173.7h0M144 174.9h0M141.3 165.5h0M146.1 189.9h0M142 187.6h0M144.5 175.7h0M138.6 174.3h0M142.8 185.4h0M142.4 179h0M144.3 170.4h0M143 189h0M146 182h0M145.4 190h0M145.4 179.8h0M139.9 174.5h0M145.4 189.4h0M146.5 182.4h0M141.1 184.8h0M143.1 185.4h0M142.1 177.6h0M145.2 175.7h0M144.1 192.1h0M141.3 174.6h0M143 155.4h0M146.3 170.1h0M139 183.5h0M143.7 176.5h0M144.8 171.2h0M141.2 193.3h0M144.4 183.5h0M144.1 190.6h0M142.3 189.8h0M142.7 177h0M138.9 179.3h0M143 160.5h0M143.8 177.5h0M141.4 167.1h0M138.8 183.6h0M144.4 187.8h0M142.9 180.5h0M143.2 151.6h0M142.8 191.3h0M143.4 170.6h0M145.9 178.8h0M142.9 170.8h0M138.9 164.8h0M139.9 157.3h0M140.5 170.7h0M144.2 191.6h0M140.2 147.3h0M139.6 171.5h0M142 179.4h0M143.7 164.8h0M139.5 178.2h0M144 180.8h0M141.7 187h0M144.8 178.8h0M143.7 160.8h0M145.7 165.9h0M140.8 175.8h0M139.1 177.2h0M142.4 192.4h0M146.9 182.8h0M142.2 174h0M139.7 165.5h0M145.8 188.3h0M146.5 186.2h0M146.6 177h0M146.8 191.7h0M143.1 161.2h0M146.7 178.7h0M140.1 158.1h0M141.6 183.5h0M139.7 179.2h0M143.3 163.8h0M142.8 172.3h0M145.4 156.7h0M141.6 186.9h0M140.2 183.2h0M142.6 180.5h0M145.6 161.4h0M142.6 191.4h0M145.5 176.5h0M139 190.6h0M145.3 183.1h0M145.2 178.3h0M141.5 188.6h0M141.3 135h0M141.9 179.2h0M141.6 179.2h0M143.5 192.5h0M138.8 182.9h0M147 187.5h0M139.2 163.1h0M140.3 165h0M138.9 186.7h0M142.1 161.2h0M143.6 146.4h0M139.8 182.2h0M144.1 170.7h0M138.5 190h0M140.3 148.6h0M145.4 174.8h0M147 185.7h0M144.8 161.2h0M143.4 177.4h0M138.8 186.1h0M146.4 172.4h0M139.8 135.3h0M140.9 168h0M146.8 185.1h0M147.2 189.3h0M145.2 186.3h0M142 143.6h0M145.3 178.5h0M141.1 169.9h0M141.6 148.7h0M141.3 168.7h0M141.3 171.2h0M144.3 189.2h0M141.2 167.1h0M139.5 185.4h0M140.6 192.8h0M140 143.4h0M140.9 185.5h0M141.7 179.2h0M141.2 188.9h0M143.9 161.1h0M139.6 186.3h0M144.6 184h0M141 177.3h0M138.1 186h0M142.7 186.3h0M144.1 187.2h0M143.9 184.9h0M142.7 192.4h0M140.6 141.4h0M144.6 191.5h0M144.4 136.7h0M140.2 181.8h0M143.8 181.8h0M139.5 186.9h0M146.5 186.5h0M144.9 181.7h0M140 190.9h0M139.3 183.7h0M141.7 192.5h0M139.2 172.3h0M142.2 142.1h0M139.5 180.6h0M143.3 191.2h0M138.8 190.9h0M139.1 181.1h0M145.7 190.7h0M142.5 157.7h0M146.6 174.8h0M141.9 169.6h0M143.5 178.6h0M140.9 191.2h0M141.2 186.3h0M138.5 183.3h0M138.6 181.2h0M140.9 174.5h0M141.6 191.4h0M142.7 187.2h0M146.8 186.1h0M146.3 184.5h0M141.2 184.9h0M140.1 184.8h0M139.4 180.9h0M139.2 190.5h0M144.1 164.8h0M143.3 187.1h0M142.6 188.7h0M146.6 190.8h0M139.3 193h0M144.6 150.3h0M140.5 140.5h0M140.6 185.8h0M145.3 188.4h0M139.9 188.5h0M147.1 190.5h0M139.4 154.2h0M142.4 189.3h0M139.7 166.9h0M138.6 177.2h0M143.1 160.7h0M143.4 166.8h0M147.1 185.9h0M145.5 170.1h0M144.2 189.9h0M142.4 190.8h0M142.6 157.2h0M142.2 184.9h0M139.4 168.7h0M141.6 192.4h0M140.8 167.1h0M141.6 192.5h0M139.9 163.3h0M138.3 191.1h0M143.2 188.2h0M146.1 176.4h0M140.9 180.8h0M145.5 171.9h0M140.9 179.2h0M146.7 188.7h0M139.2 180.4h0M145.9 176.5h0M141.5 158.7h0M142.8 186.7h0M145.6 183h0M145.3 154.3h0M141.2 150.7h0M146.9 191.9h0M144.9 188h0M143 176.1h0M145.1 190.5h0M142 182.3h0M138.3 185.4h0M142 169.5h0M144.5 182.7h0M140.2 122h0M138.4 174.1h0M140.3 187.3h0M146.2 185.4h0M143.3 114.2h0M140.7 167.6h0M141.8 112.1h0M143.4 186h0M141.2 193.2h0M145 187h0M140.6 181.8h0M138.5 186.6h0M139.1 193.3h0M142.7 175.6h0M145.7 192.8h0M145.2 170.1h0M144.2 182h0M142.6 180.9h0M141.9 153.2h0M144.4 189h0M140.3 171.8h0M144.3 192.1h0M139.4 189.6h0M140 188.5h0M143.8 177h0M139.3 193h0M145.5 181.6h0M144.5 151.2h0M139.2 192.4h0M146.1 190.6h0M140.6 183.4h0M138.8 190h0M140 176.4h0M146.7 189.3h0M139.4 174.4h0M142.6 189.2h0M138.5 185.1h0M139.6 186.8h0M144.3 187.2h0M145.8 181.7h0M142.9 190.7h0M141 178.1h0M144.7 175.9h0M145.7 177.9h0M145.8 190.5h0M139.8 189.4h0M141.7 190.5h0M140.9 193.3h0M143.9 143.9h0M145.9 188.9h0M141.6 191.6h0M144.3 176.6h0M144.7 192.3h0M142.8 178.5h0M144.4 175.1h0M142.6 191.5h0M141.9 180.9h0M140.5 188.5h0M142.6 181.1h0M141.6 124.9h0M140.2 164.8h0M140.4 174.5h0M141.2 174.7h0M139.8 191.9h0M143.9 190.3h0M139.8 173h0M146.5 174.7h0M144 181.5h0M140.1 193.3h0M141.5 192.2h0M145.7 172.9h0M141 179.2h0M139.9 191.5h0M143.1 192.2h0M141.8 177.9h0M141.6 150.1h0M143.5 171.1h0M146.7 192.1h0M145.7 158.4h0M138.4 186.7h0M139.7 186h0M144.1 184.7h0M147.1 193h0M145.5 182.5h0M141.4 181.7h0M146.1 164.7h0M143.7 192.1h0M143.9 190.9h0M138.9 172.2h0M146.5 180.8h0M139.1 156.7h0M143.3 192.2h0M140.5 171.9h0M140.6 185h0M144.2 147.2h0M142.1 177.4h0M141 168.9h0M144.7 187.5h0M144.5 184.4h0M142.5 187.6h0M141.3 189.4h0M144.3 133.6h0M146.1 187.7h0M143.2 159.2h0M141.9 192.4h0M144.3 182.9h0M145.9 179.1h0M141.3 181.2h0M140.9 163.4h0M142.3 166.5h0M141.2 123.8h0M142.9 179h0M142.7 183.9h0M141.5 188.8h0M144.4 190.9h0M145 177.8h0M144.9 187.3h0M144.8 182.3h0M145.2 167.6h0M138.3 181.9h0M144.9 149.1h0M141.4 160.7h0M142.6 185h0M139.1 193.3h0M141.2 182.4h0M142.1 191.3h0M140.8 187.8h0M140.6 189.7h0M139.2 191.5h0M143.9 166.5h0M142.8 177.1h0M141 150.6h0M144.6 140.1h0M144.4 187.5h0M146.6 185.6h0M142.9 172.7h0M140.4 181.5h0M145.3 159h0M141.5 154.4h0M140.5 160.1h0M146.7 184.2h0M138.5 182.4h0M143.5 185.6h0M144.7 183.6h0M141.7 181.8h0M145.6 177.4h0M139.3 181.6h0M147.1 191.4h0M145.3 176.6h0M142 143.6h0M142.2 191h0M141.7 190h0M142 191.2h0M141.8 192.9h0M147.2 192.5h0M139.8 192.4h0M139.5 165.6h0M143.3 172h0M138 190.5h0M142 160h0M140.2 182.5h0M144.5 174.1h0M138.5 183.7h0M145.5 159.9h0M145.2 184.6h0M140.7 189.5h0M141.7 192.2h0M138.1 186.3h0M139 181.3h0M139.8 177.9h0M146.6 188.2h0M142.2 175.3h0M140.9 126.4h0M139.6 187.7h0M144.7 191.3h0M141.3 172.9h0M142.5 187.6h0M141.9 188.4h0M137.9 191.4h0M146.9 181.4h0M142.4 189.7h0M145.3 183.7h0M143.5 160.2h0M138 192.8h0M142.3 188.6h0M145.3 177.6h0M140 159.2h0M140.3 193h0M144.3 183.6h0M144 189h0M141 189.1h0M146.5 186.7h0M145.4 179.6h0M139.8 185.5h0M141 190.7h0M146.6 176.3h0M144.7 150.8h0M143.9 172.8h0M144.8 190.6h0M141.5 180.9h0M139.8 183.7h0M140 184.3h0M143 150.2h0M145.2 184.4h0M143.6 156.3h0M141.2 175.3h0M146.9 180.6h0M140.2 176.4h0M147 184.2h0M146.2 186.4h0M143.3 114.5h0M146.2 178.1h0M141.9 189.9h0M143.4 136.3h0M144.1 186.6h0M146.9 182.3h0M145.1 174.4h0M138.2 191.2h0M146.9 192.9h0M143.7 154.1h0M143.1 190h0M143.7 171.4h0M142.2 152.6h0M143 191.7h0M144 187.4h0M142.3 170.3h0M147 188.8h0M144.6 187.2h0M141.3 138.9h0M138.9 189h0M146.4 168.1h0M145.7 178.8h0M140.6 181.6h0M140 176.6h0M138.9 182.6h0M144.1 191.3h0M143.9 163.8h0M141.1 177.1h0M140.4 189.4h0M144.7 189.6h0M144.7 171h0M146.3 185.4h0M144.7 187.2h0M142.5 192.1h0M140.4 178.3h0M141.2 138.8h0M143.1 191.3h0M139.5 156.1h0M140.1 187.3h0M146 184.7h0M139.3 189.2h0M139.6 170.3h0M139.2 180.8h0M138.4 190.8h0M140.4 186h0M140.2 191h0M139.6 169.7h0M142.9 160.7h0M140 182.3h0M141.3 115.7h0M138.2 186.5h0M139.9 178.9h0M145.2 176.3h0M144.8 164.7h0M146.7 185.5h0M138.4 185.4h0M141 179.3h0M143.7 174.6h0M143.6 176.4h0M144.9 143.5h0M142.9 183.6h0M138 193.4h0M142.9 182.7h0M143 187.7h0M145.9 180.3h0M140.5 167.2h0M138.1 193.5h0M139.5 169.3h0M140.6 193.5h0M140.5 129.1h0M141.5 187.2h0M141 159.7h0M145.4 179.2h0M140 167.9h0M146.4 189h0M139.8 145.8h0M144.2 185.7h0M146.1 190.9h0M139.1 175.8h0M140.3 154.4h0M139 182.4h0M143.2 193h0M143.3 177.5h0M140 175.6h0M139.5 184.5h0M143.4 175.3h0M141.3 186.7h0M138.9 167.2h0M144.9 193.2h0M138.1 192.3h0M143.6 167.9h0M138.1 185.2h0M144.7 164.7h0M140.6 189.7h0M143.1 185.7h0M141.4 190.4h0M139.9 191.5h0M141.5 177.9h0M139.7 189.8h0M142.3 134.6h0M145.2 188h0M146.5 180.3h0M140.8 180.1h0M143.3 186.4h0M138.9 190.2h0M140.8 159.6h0M141.5 171.8h0M145.4 179.7h0M144.4 191h0M140.8 177.4h0M138.9 182.3h0M147.1 191.3h0M138.8 185.7h0M140.3 177.6h0M142.7 191.3h0M140 141.8h0M141.3 160.7h0M144.5 182.2h0M140.9 181.6h0M146 161.9h0M142.1 182.4h0M139.3 157.3h0M142.5 144.1h0M138.8 192h0M138.5 174.8h0M139.7 183h0M144.8 191.1h0M141.2 188.7h0M143.3 182.6h0M146.4 176.2h0M144.5 164.7h0M142.1 163.1h0M139.1 174.5h0M139.4 189.4h0M144.3 151.5h0M142.6 189.1h0M139.1 187.8h0M144.2 186.8h0M144.1 172.7h0M141.1 189.3h0M142.3 181.9h0M140.1 185.4h0M142.5 167h0M140.1 163.6h0M143.5 180.5h0M139.5 171h0M141.8 165.1h0M146.1 191.5h0M144 134.7h0M145.3 159h0M141.3 154.2h0M144.2 166.3h0M139.8 171.5h0M143.9 165.3h0M143.7 187.2h0M143.7 189.1h0M141.1 124.2h0M143.2 164.7h0M141.5 191.2h0M145.9 190.8h0M144.4 176.1h0M139 185.9h0M145.8 192.7h0M147.2 192.6h0M146 190.7h0M142.3 160.7h0M145.6 174.8h0M140.1 189.6h0M142.2 191.2h0M142.1 155.2h0M141.7 175.2h0M146.9 188.7h0M139.7 179.9h0M146 183.9h0M139.8 172.7h0M139.3 191.4h0M140.9 177.1h0M142.3 190.4h0M141.1 135.4h0M141.7 187.6h0M138.7 165.5h0M144.1 178.8h0M146.5 189.7h0M138.5 174.4h0M139.4 176.9h0M139.9 156.7h0M144.9 140.9h0M140.4 179.4h0M142.7 166.9h0M144.2 136.8h0M143.5 164.3h0M141.7 192.1h0M139.8 171.3h0M142.5 186h0M143.5 156.3h0M143.6 191.8h0M143.8 188.1h0M142.7 178.3h0M140.3 130.9h0M146 186.8h0M146.7 183h0M146.4 191.4h0M147 184.7h0M142.3 189.8h0M142.9 169h0M140.6 192.6h0M146.7 178.4h0M144.4 170.5h0M140.6 184.8h0M145.4 149.1h0M144.2 185.6h0M146.1 192.6h0M146.7 191.3h0M145.6 160.8h0M144.6 192.9h0M141.4 163.6h0M138.6 180.5h0M143.3 181.4h0M144.1 157.5h0M143.2 185.2h0M138.7 182.6h0M142.4 159h0M146.3 183.2h0M143 148.2h0M141.2 188.6h0M138 191.7h0M138.2 193.4h0M146.7 181.8h0M143.4 159.7h0M139.5 178.8h0M138.9 189.2h0M140.9 183.2h0M140.1 157h0M140.5 174.4h0M145.1 190.7h0M143.1 164.7h0M142.5 176.7h0M139.8 180.9h0M144 160.4h0M144.8 191h0M139.1 193.2h0M140.1 187.7h0M141.8 188.7h0M145.4 181.4h0M141.1 150.8h0M138.6 189.2h0M138.9 166.4h0M145.8 192.4h0M141 190h0M142.4 180.3h0M142.7 144.4h0M141.3 158.4h0M143.8 156.1h0M141.8 178.8h0M141.3 177.8h0M143.6 188.1h0M144.4 180.5h0M141.4 183.1h0M143.2 139.8h0M142.6 188.9h0M144.1 191.7h0M144.1 161.6h0M142.6 160.1h0M140.4 190h0M143 193.1h0M140.7 163.7h0M141.9 179.5h0M144.8 186h0M141.6 185.1h0M141.7 173.4h0M138.3 187.8h0M144.9 178.7h0M143 178.1h0M142 181.9h0M146.3 176.6h0M142.6 193h0M139.9 173.6h0M144.2 189h0M140.7 191.6h0M139 178.2h0M146 175.8h0M143.2 188.7h0M142.8 186h0M138.6 189.6h0M139.6 187.8h0M144.5 189.2h0M139.1 183.3h0M141 189.1h0M138.6 168.1h0M146 192h0M140.1 148.7h0M142.4 161.4h0M141.2 192.6h0M146.1 174.8h0M142.9 193.5h0M138 187.4h0M146.7 176.2h0M146.6 182.1h0M138.9 164.1h0M145.7 184h0M139 181.5h0M140.8 192.8h0M145.6 167.3h0M146 192.2h0M144.7 169h0M141.2 192.2h0M143.4 140.5h0M146.4 191.1h0M143.8 181.9h0M140 181.4h0M143 180.5h0M145.5 170.2h0M144.7 141.8h0M145.9 181.6h0M145.6 179.7h0M144.9 187.1h0M144.3 188.2h0M143.2 172.5h0M145.8 188.2h0M141 156.1h0M145.3 183.7h0M143.5 161.8h0M140 169.8h0M142.1 168.8h0M140.9 184.7h0M140.9 177.5h0M140 129.1h0M146.8 190.1h0M141.2 182h0M138.2 192h0M143.3 174.4h0M144 169.4h0M140.7 126.4h0M143 129.6h0M140.8 183.3h0M143.7 174.2h0M145.3 183h0M140.5 163.6h0M141.4 177.4h0M143.9 189.9h0M139.3 166.8h0M141.5 189.5h0M141.3 189.2h0M141.4 190.9h0M145.7 182.7h0M144.3 172.4h0M141.1 178.2h0M144.6 173.6h0M138.5 191.1h0M140.8 174.4h0M144.3 187h0M140 189.8h0M144.2 188.4h0M141.6 126.6h0M145.6 162.5h0M146.6 181.2h0M140.5 173.5h0M145.3 189h0M140 164.1h0M138.4 177.1h0M143.7 174.2h0M145.9 180.4h0M143.6 163.8h0M144.7 188.2h0M144.3 167.9h0M145.5 182.9h0M146.3 169.8h0M139.7 193.3h0M139.9 189.6h0M143.4 191.2h0M146.3 166h0M140.2 168.3h0M143.8 126.4h0M144.1 141.1h0M146.1 189.5h0M144.5 182.5h0M141.1 164.4h0M144 178.8h0M141.3 175.3h0M139 171.7h0M139.6 187.2h0M145.4 183.3h0M146.5 186.3h0M141.2 189.6h0M146.3 178.8h0M144.8 184.5h0M139.1 176.1h0M140.8 118h0M143.9 191.4h0M139.3 189.6h0M139.3 188h0M145.9 181.8h0M145.4 189.4h0M141.4 143.3h0M140.3 161.7h0M140.1 191.1h0M144.7 176.7h0M138.7 180.4h0M144.4 163.6h0M143 190.6h0M143.9 174.9h0M142.1 182.4h0M138.5 186.2h0M141.1 164.1h0M140.6 159.4h0M144.4 172.9h0M146 190.1h0M145.7 190.5h0M145.8 177.4h0M147.1 188h0M146.4 184.3h0M140.9 182.4h0M144.1 169.5h0M146.1 190.6h0M139.1 170.8h0M140.5 165h0M140.3 189.7h0M145 177.9h0M141.8 140.1h0M146.6 181.6h0M140.9 186.7h0M145.9 185.8h0M139.3 155.3h0M139.4 151.6h0M143.5 168.8h0M141.8 190.4h0M140.8 176.8h0M140.4 158h0M143.1 192.9h0M145.8 162.2h0M144.6 189h0M142 191.7h0M140.2 160.2h0M143.7 183.8h0M140.5 188.4h0M142.1 182h0M138.1 183.6h0M142.4 189.9h0M141 187.8h0M144 160.1h0M142.6 182.6h0M140.1 187.8h0M141.5 177.7h0M144.2 185.2h0M145.3 184h0M143.1 186.4h0M140.5 187.1h0M142.4 186.3h0M145.1 184.6h0M143.5 162.8h0M141.9 180.4h0M143.1 190.3h0M139.5 192.8h0M142.2 163.6h0M143.7 154.4h0M138.1 193.1h0M146.7 179.9h0M146 184.1h0M143.1 172.1h0M143.5 192.3h0M142 129.2h0M142 189.4h0M141.1 163.8h0M139.8 191.5h0M143.5 179h0M143.6 156.5h0M138.5 189.7h0M146.6 187.9h0M139.2 177.8h0M143.3 159.8h0M146.1 174.8h0M143.4 170.5h0M141.4 190.3h0M140.9 190.1h0M145.1 192.8h0M146.1 178.4h0M140 141.1h0M139.3 183.2h0M142.1 173.4h0M142.1 192.8h0M142.8 177.9h0M146.2 192.8h0M139.4 176.5h0M145.9 183.3h0M147 187.9h0M142.6 136.1h0M140.5 189h0M146.5 174.7h0M141.8 184h0M141.6 188.1h0M144.6 181.7h0M140.9 191.8h0M139.9 174.4h0M140.6 189.4h0M141.6 171.3h0M145.6 176.4h0M142.8 171h0M143.6 153.5h0M141.7 163h0M145.9 181.8h0M140 156.4h0M138.5 192.7h0M138.6 187.4h0M139.5 178.4h0M144.3 163.7h0M146.3 184.5h0M138.1 191.7h0M139.7 164h0M142.1 138.4h0M141.2 183.5h0M140.6 170.3h0M138.2 185.6h0M145 170.9h0M145.5 189.9h0M142.9 169.9h0M146 187.8h0M143.8 150.7h0M146.4 188.6h0M138.1 191.1h0M143.7 178.9h0M145.5 175.3h0M139.7 187.9h0M144.2 192.1h0M142.2 156h0M143.4 188.9h0M142.4 179.9h0M144.3 187.4h0M142.6 161h0M139.5 192.2h0M141.5 170.6h0M140 169.2h0M143.7 183.9h0M144.1 146.6h0M146.4 189.3h0M140.6 152h0M144.6 179.7h0M144 181.7h0M140.5 133.8h0M144.8 172.3h0M145 179.5h0M141.6 172.3h0M141 190.6h0M140.1 151.6h0M139.9 150.1h0M146 179.7h0M146.4 179.4h0M138.3 178.7h0M138.3 189.4h0M140.5 142.8h0M141.8 168.5h0M139.6 192.6h0M141 176.6h0M142.7 178.5h0M140.9 193.1h0M145.6 152.2h0M141.2 179.8h0M141.1 192.1h0M146.1 182.4h0M141.4 179.6h0M141.7 176.2h0M145 171.9h0M142.9 139.8h0M139.7 181.3h0M140.6 192.4h0M142.2 186.6h0M138.9 193.3h0M140.2 184.3h0M140 179.6h0M146 180.9h0M144.9 188h0M138.9 167h0M141.4 183.1h0M144.2 192.8h0M141.8 159.5h0M139.2 175h0M143.6 134.6h0M141.5 134.4h0M139.2 183.7h0M141.2 172.5h0M139.1 156.4h0M141.3 179.2h0M143.4 170.6h0M142.3 191.8h0M145.9 191.7h0M146.9 181.7h0M139.3 191.3h0M142.1 179h0M140.5 183.5h0M140 190.9h0M144.9 182.6h0M142.3 110.1h0M146.6 186.1h0M139.5 173.3h0M137.9 191.9h0M139.2 190.3h0M139.2 191.3h0M144.5 168h0M142.1 187.6h0M146.2 192.5h0M138.7 184.6h0M143 168.6h0M145 151.4h0M143.8 185.6h0M143.1 185.9h0M141.9 193.1h0M152.5 189.9h0M152.8 182.4h0M157.8 180.9h0M159.9 178.5h0M157.5 191.9h0M156.4 179h0M159.6 181h0M159.7 186.9h0M153.4 183.9h0M155.5 192.7h0M154.7 182.9h0M161 182.8h0M160.3 191.3h0M158.8 189.2h0M159.9 179h0M156.9 143.4h0M158.2 188.6h0M161.2 192.7h0M159.3 154.4h0M158.5 161.1h0M152.1 188.3h0M159.4 193.1h0M154.8 149.5h0M154 180.6h0M154.9 187h0M161 187.6h0M154.1 192.3h0M153.5 186h0M157.4 175.5h0M152.9 183.7h0M157.7 191.2h0M159.2 182.6h0M155.5 193.5h0M158.1 192.5h0M158.4 189.2h0M161.4 191.8h0M156.5 172.5h0M158.8 186.2h0M158.3 193h0M159.1 152.8h0M154.7 193h0M161 184h0M157.7 152.1h0M156.9 171.3h0M160.7 192.7h0M157.8 186.5h0M161 188.3h0M157.5 176.8h0M155 191.3h0M158.3 158.4h0M161.2 190.9h0M152.3 193.5h0M159.2 169.5h0M152.3 190.2h0M160.8 189h0M156.2 174.9h0M153.4 172h0M154.8 190h0M159.7 185h0M155.2 193h0M157.8 179h0M161.2 193h0M159.1 186.9h0M158 181.4h0M159.1 180.1h0M157.3 162.7h0M159.6 149.9h0M154.1 185.5h0M155.2 174h0M154.4 177.5h0M152.2 192.1h0M156.8 188h0M159.4 186.4h0M154.2 183.9h0M155.6 181.5h0M155.9 182.9h0M155.8 177.5h0M157.9 188.5h0M154.5 186.5h0M153.1 170.7h0M156.3 157.5h0M159.6 160.3h0M157.6 166.8h0M156.6 124.9h0M155.7 182.9h0M158.3 192.7h0M156.8 190.6h0M159.8 171.4h0M158.7 172.4h0M154.3 178.6h0M152.6 190.5h0M154.5 183.3h0M156 169.7h0M158.4 189.8h0M152.2 191.2h0M159.9 192h0M156.4 171.1h0M160.2 183.5h0M158.7 189.5h0M156.9 192.8h0M160.8 190.4h0M152.6 188.8h0M159.3 181.6h0M157 176.1h0M152.2 189.6h0M161 193.2h0M156.7 154.3h0M154.6 153.8h0M156.5 166.4h0M155.7 186.4h0M156.9 187.6h0M158.5 191.6h0M160.9 192.2h0M155.8 189.1h0M153.9 187.6h0M155.3 176.6h0M153.7 190.4h0M155.7 163h0M157.5 188.1h0M152.6 193.5h0M155.8 175.5h0M161.1 193.5h0M159.8 191.8h0M158.5 184h0M158.4 187.8h0M153.4 185.9h0M157.9 189.5h0M159.3 183h0M156.8 174.6h0M154.8 192.6h0M153.4 188.7h0M158.6 187.3h0M152.5 189.1h0M161.3 192.8h0M153.8 181.8h0M159.9 193.1h0M156.2 168.7h0M152.8 191h0M152.6 192.4h0M153.8 183.3h0M153.3 192.5h0M157.1 192.6h0M160.2 165.1h0M156.8 179.1h0M160 183.1h0M159.7 183.4h0M154.1 188.6h0M160.8 183.8h0M154.7 186.8h0M159 177h0M156.3 189.2h0M154.6 171.9h0M154.8 180.9h0M158.7 189.6h0M158.8 177.2h0M154 189.8h0M159.3 191h0M157.7 187.4h0M158.4 193.1h0M157.4 186.1h0M153.2 166.8h0M155.7 169.3h0M156.4 190.8h0M155.3 131.5h0M154.8 182.7h0M158 180.3h0M155.2 186h0M156 181.9h0M158.5 158.2h0M154.4 189.9h0M158.7 181.7h0M159.8 181.3h0M154.9 179.1h0M158.1 186.4h0M158.3 172.8h0M153.2 186.5h0M158 186.1h0M154.4 156.7h0M159.5 160.1h0M159 191h0M152.8 193.2h0M160.4 164.7h0M160.6 172.6h0M160.3 186.6h0M159.7 191.8h0M152.4 193.2h0M159.7 167.9h0M157.9 183.9h0M156.2 162.4h0M160 178.8h0M157.2 173.1h0M154.5 193.1h0M153.5 181.7h0M159.8 190.6h0M160 185.8h0M154.4 188.2h0M153.7 157.3h0M160 185.5h0M157.5 168.6h0M157.2 183.9h0M158.6 173.2h0M155.3 184.5h0M158.3 134.9h0M153.2 192h0M157.4 181.5h0M152.9 180.4h0M160.5 191.7h0M155.3 151.6h0M160.1 178.8h0M158.8 184.8h0M154.2 173.6h0M156 160h0M159.3 183.4h0M154.2 188.8h0M152.4 178.9h0M155.4 186.9h0M153.3 192.4h0M158 178.6h0M159.9 173.4h0M153.8 180.4h0M158 187.5h0M158.4 187.4h0M155.5 190.9h0M160.7 173.9h0M159.4 185.5h0M158.9 187.5h0M152.9 176.1h0M158.2 190.6h0M160.2 192.5h0M160.3 179.5h0M156.2 182.5h0M156.8 189.6h0M157.7 190.8h0M158.2 188.6h0M154.1 178.3h0M155.4 192.2h0M158.5 155.7h0M154 190.7h0M158.5 189.4h0M153.5 169.4h0M155.2 157.7h0M160.7 187.2h0M153.4 177.2h0M156.2 188.3h0M155 192.8h0M158.6 185.4h0M152.8 186h0M160.9 188.6h0M159.3 192.8h0M156.2 180h0M156.3 191.7h0M159.1 184.8h0M155.6 185.1h0M160.8 188.7h0M155.5 186.4h0M157.8 191.4h0M156.1 185h0M154.2 175.8h0M154.9 180.5h0M160.7 192.2h0M156.9 190.4h0M161.2 190.5h0M157.5 186.6h0M159.8 164.5h0M158.4 137.2h0M154 191.7h0M158.5 186.6h0M156 185.5h0M157.2 177.7h0M152.4 182.8h0M159.7 183.8h0M154.4 165h0M160.7 181.6h0M160 179.8h0M154.3 181.7h0M158.6 184.3h0M161 189.7h0M160.6 175.9h0M159.5 192.2h0M155.6 187.9h0M160.8 188.6h0M155.3 179.8h0M155.5 187.3h0M155.2 176.2h0M157.3 187.6h0M154.2 184h0M159.6 191.3h0M152.9 192.4h0M154.1 185.6h0M157.8 168.1h0M158.6 181.5h0M155.1 176.1h0M153.8 180.2h0M157.8 186h0M158.3 183.5h0M156 151.9h0M158.2 171.7h0M158 189.7h0M160.5 182.9h0M161.3 192.1h0M155.4 180.1h0M154.5 176.1h0M155.5 184.7h0M159.6 181.4h0M155.2 191.7h0M159.1 193.2h0M156.8 181h0M157.3 159.3h0M157.1 127.2h0M156.8 183.4h0M154.3 188.7h0M155.2 190.8h0M157.9 192.1h0M158.2 129.5h0M158.3 190.1h0M156.6 165.6h0M156.7 175h0M156.9 191.4h0M156.6 183.2h0M152.7 184.7h0M153.2 192.7h0M157.9 188.5h0M155.9 186.4h0M159.9 192.4h0M158.2 190.9h0M158.6 186.1h0M157.3 183.5h0M160.3 192.5h0M156.8 188.4h0M154.8 192.2h0M156 176.6h0M157.7 181.4h0M159.6 186.1h0M157.2 172.5h0M158.5 161.2h0M154.6 153.1h0M159.5 182.1h0M159.5 189.7h0M153.2 177.1h0M158.4 180.6h0M157.5 185.3h0M158.4 183.4h0M152.4 181.1h0M158.2 189.6h0M154.6 191.6h0M156.5 187.1h0M154 152.2h0M159.5 192.8h0M156.5 188.1h0M158.9 180.3h0M160.3 190.4h0M154.9 193.3h0M153.7 190.1h0M157.9 192.9h0M157.1 187.4h0M154.3 146.3h0M154.7 180.9h0M152.4 182.5h0M156.4 186.4h0M156.1 161.5h0M155 155.2h0M153.1 175.7h0M159.7 189.2h0M155 182.2h0M159 191.8h0M157.7 190.9h0M159.2 181.3h0M157.4 177.3h0M154.9 188.5h0M160.9 183.8h0M153.5 178.2h0M152.8 183.6h0M158.3 178.7h0M158 175.1h0M155.2 185.8h0M156.7 169.3h0M159.9 189.4h0M153.7 183.5h0M160.2 185.7h0M158.2 161.9h0M161.1 186.2h0M153.4 174.7h0M159 176.3h0M154.9 188.5h0M156.7 189.3h0M154.2 192.6h0M155.9 183.4h0M154.4 181.2h0M160.3 191.5h0M156.6 185.2h0M156.1 140.4h0M158.1 152.9h0M155.2 182.6h0M158.1 182.6h0M157.5 193.2h0M155.7 187.4h0M153.1 192h0M160.2 189.2h0M156.2 180.7h0M157.4 179.8h0M153.9 192.6h0M156.4 168.3h0M153.7 160.1h0M157.3 167.8h0M158.2 171.7h0M157.6 157.3h0M154.5 188.9h0M154.6 189.1h0M153.1 171.9h0M155.8 177.2h0M160.4 193.3h0M160.1 190.6h0M155.3 184.2h0M155.7 167.5h0M157.8 185.2h0M157.3 189.8h0M155.6 187.9h0M156 189.5h0M155.8 175.1h0M160.4 176.7h0M158.5 192.6h0M160 187.8h0M157.8 169.6h0M154.3 181h0M159.2 135.4h0M154.2 190.8h0M159.5 147.1h0M152.7 174.7h0M154.1 191.1h0M154.4 191.8h0M156.5 179.3h0M158.3 182.3h0M159.3 184.5h0M155.6 161.9h0M157.6 192h0M154.1 192.4h0M160.5 191.7h0M157.7 180.5h0M155.7 188.6h0M156 149.5h0M153.9 164.1h0M159.7 190.9h0M157.6 176.7h0M156.4 183.7h0M160.4 192.8h0M157.9 160.8h0M157.1 147.1h0M152.2 192.3h0M153.2 165.1h0M157.1 188.4h0M158.1 143.6h0M155.7 185.1h0M158.3 182.7h0M153 188.3h0M152.2 193h0M157.1 183.3h0M153.7 172.2h0M160.2 183.8h0M156.4 190.9h0M155.5 189.8h0M153.7 186.6h0M158.7 179.8h0M154.6 190.4h0M158.5 160.1h0M157.7 184.6h0M161.2 191.7h0M159 191.8h0M158.7 184.7h0M160.3 173.5h0M153.5 191.2h0M154.2 193h0M158.6 180.2h0M159.3 190.2h0M153.7 161.6h0M157.6 181.4h0M153.9 178h0M160.5 180h0M154.4 192.4h0M153.5 191.7h0M159.4 181.4h0M158.4 174h0M160.9 188.2h0M156.4 164.6h0M155.9 192.8h0M156.5 192.7h0M159.3 175.9h0M160.8 174.8h0M159.4 165.9h0M158.2 191.8h0M154.7 174.5h0M157.1 156.6h0M159.4 186.4h0M156.1 188.9h0M156.8 177h0M152.8 191.9h0M154.9 190.9h0M155.5 189.7h0M161 192.7h0M160.6 172.5h0M154.2 185.5h0M159.3 160.3h0M155.8 172.2h0M157.6 188.9h0M152.1 193.1h0M154 170.9h0M156.1 185.2h0M160.9 189.9h0M158.3 183.6h0M157.6 180h0M155.3 174.7h0M161.1 191.4h0M154.6 173.3h0M154.1 176.6h0M160.1 164.9h0M157.1 173.3h0M157.5 141.8h0M156.7 147.2h0M155.3 191.6h0M154.6 176.5h0M159.8 191.6h0M154.6 193.2h0M157.9 177.6h0M153.2 176.3h0M152.3 180.4h0M159.7 192.7h0M153.6 185.5h0M161.2 193.1h0M155.2 184.1h0M158.6 192.7h0M159.8 170.6h0M160.7 173.7h0M158.3 177.8h0M155 153.9h0M160.3 190.5h0M154.8 180.5h0M157.1 181.3h0M156.6 178.3h0M159.3 166.2h0M158.1 183h0M157.3 179.9h0M154 193h0M152.8 189.2h0M157.3 159.2h0M154 189.7h0M160.3 174.8h0M157.2 181.1h0M153.9 166.6h0M156 168.9h0M159.7 155.5h0M152.8 190.6h0M157.4 160.6h0M160.5 190.1h0M155.1 187.2h0M152.3 189.7h0M158 193.3h0M160.1 193h0M159.5 188.4h0M157.7 191.9h0M156.9 193.3h0M160 183h0M159.8 193.1h0M156.6 188.4h0M157.3 181.8h0M157.3 187.1h0M160.3 177.1h0M153.5 178.1h0M159.3 187.5h0M160.3 173h0M155.1 192.3h0M155.6 191.6h0M153.1 189.2h0M160.8 189.7h0M153.1 170.1h0M157.9 190h0M157.8 181h0M153.8 176.5h0M159.8 167.5h0M159.6 161h0M156.7 166.8h0M154.5 166.9h0M157.9 170.1h0M154.2 192.8h0M155.1 188.2h0M157.5 160.7h0M153.5 192.7h0M152.9 191h0M154.2 166.7h0M156 180.8h0M153.7 185.1h0M160.5 190.8h0M160.6 173.7h0M153.3 158.9h0M159.3 190.5h0M153.7 181.7h0M155.4 177.8h0M156.2 185.5h0M161 190.8h0M160 187.4h0M153.9 190.4h0M156.6 167.5h0M159.7 188.4h0M154.3 187.8h0M155.3 171.5h0M154.8 144.7h0M153.6 184.3h0M158.6 164.1h0M152.5 178.5h0M159.4 192.1h0M156 182.6h0M160.6 190h0M156.9 193.1h0M159.7 168.9h0M158.5 191h0M155.1 175.9h0M160.4 183.6h0M158.8 191.5h0M160.6 182.2h0M159 184.8h0M152.2 192h0M160.8 191.8h0M160.3 189.7h0M161 191.2h0M155.6 193.4h0M154.5 158.9h0M156 183.7h0M155.7 185.1h0M154.5 177.4h0M157.8 177.7h0M153.4 186.5h0M155 189.5h0M159 174.4h0M158.9 178.5h0M161.1 192.5h0M153.3 191.4h0M159 191.3h0M159.8 175h0M153.4 174.6h0M154.3 168.4h0M153.6 184.2h0M159.7 157.3h0M156.5 186.7h0M157.7 193.3h0M156 189.6h0M152.7 174h0M156.1 172.7h0M155.4 179.8h0M160.8 191.5h0M156.1 182.7h0M155.6 171.3h0M156.7 169.7h0M152.8 181.2h0M153.4 189.8h0M155.6 186.6h0M153.9 186.7h0M160.9 193.2h0M154.3 181.6h0M155.7 185h0M156.5 191.5h0M158.2 189.5h0M158.5 152.3h0M157.4 189.3h0M156.9 177.6h0M159.7 162.1h0M153.4 185.5h0M157.5 170.6h0M155.7 188.1h0M154 190.5h0M154 172.5h0M154.5 171.5h0M156 138.2h0M154.1 188.2h0M155.5 192.2h0M154.1 182.4h0M155.7 145.8h0M158.4 185.6h0M156.7 189.7h0M158 183.5h0M154 184.9h0M152.1 193.3h0M152.6 181.3h0M155.3 188.9h0M160.7 192.9h0M154.2 177.2h0M154.8 183.3h0M157.9 179.2h0M153.3 174.4h0M155.1 192.6h0M155.1 193h0M154.3 177.9h0M154.4 182.6h0M152.9 186.6h0M158.2 188.6h0M156.5 193.2h0M160.2 190.3h0M154.4 190.9h0M155.7 129.1h0M156.3 189.6h0M154.5 170.7h0M157.8 183.7h0M159.4 166.4h0M153.4 170.2h0M157.3 189.2h0M156 180.1h0M153.6 184.7h0M159.2 171h0M155.8 192h0M161.1 190.4h0M156.2 192.7h0M157.3 158.5h0M154 184.8h0M152.7 191.2h0M157.3 178.7h0M159.1 153.8h0M157.9 156.9h0M155.9 189.9h0M160.6 186.8h0M161 190.2h0M154.1 168.1h0M160.2 177.5h0M160.1 191h0M160.4 187.8h0M157.7 187.6h0M157.2 189.9h0M154.3 170.2h0M153.1 192.7h0M154.2 166.4h0M158.3 191.5h0M160.7 175.8h0M158.4 182.4h0M158.6 180.4h0M157.5 167.8h0M152.4 192.8h0M153.6 178.5h0M153.8 174.5h0M154.7 132.6h0M159.1 182.9h0M160.4 193.1h0M152.1 193.2h0M157.3 186.8h0M160.2 170.5h0M157.7 191.1h0M155.8 189h0M153.6 187.5h0M158.1 192.6h0M156.7 180.4h0M156.4 191.5h0M156.3 170h0M160.3 193.3h0M158 180.1h0M153.3 190.1h0M157.6 193.4h0M156.9 189.4h0M158.9 171.2h0M154.9 169.2h0M158.9 165.4h0M153 191.2h0M160.8 183.4h0M159.5 188.5h0M158.9 191.3h0M157.1 183.2h0M161 183.4h0M152.6 183.5h0M157.4 193.2h0M152.1 186h0M153.3 190.5h0M159.6 174.4h0M155.8 191.2h0M153.6 187.9h0M158.5 171.5h0M155.4 191.7h0M159.1 192.1h0M156 192.3h0M157.4 150.9h0M152.4 182.7h0M159.2 158.5h0M152.1 192.8h0M156.3 186.7h0M157.5 170.3h0M157.4 159.9h0M160.7 191h0M156.8 145.2h0M153.6 190.6h0M159.4 190h0M152.9 188.8h0M157.9 182.4h0M155.2 192.1h0M158.5 188h0M152.1 186.8h0M159.6 192.6h0M156.7 171.2h0M153.9 193.3h0M158.7 148.8h0M156.1 183.5h0M154.1 192.1h0M157.9 192.6h0M158.6 180.3h0M152.9 167.8h0M157.4 146.4h0M158.7 184.1h0M158.7 192.1h0M153.7 181.5h0M156.1 188.4h0M159.2 192.5h0M154.4 175.4h0M154.4 140.5h0M160.4 175.9h0M152.9 192.8h0M154.2 143.7h0M154.4 186h0M161.3 191.1h0M155.1 176.8h0M158.6 172.7h0M159 180.2h0M157.7 192.3h0M154.1 192.9h0M157 187.4h0M158.4 166.8h0M160.6 185.2h0M154.6 172.3h0M154.2 176.4h0M155.9 149.9h0M154.2 189.3h0M160.6 173.3h0M158 183.5h0M152.3 183h0M158.2 179.7h0M156.2 191.4h0M153.7 179.3h0M153.5 187.9h0M155.4 188.3h0M154.5 181.2h0M156.5 175.9h0M161 188.6h0M155.3 182.4h0M156.3 189.6h0M153.7 192.5h0M159.3 160.4h0M160.5 167.5h0M160.5 192.3h0M154.1 182.8h0M159 179.4h0M159 183.8h0M158.2 159.9h0M158.7 146.7h0M157.8 129.3h0M159.2 190.3h0M152.4 190.5h0M160 183.5h0M159.6 191.9h0M156.4 188.9h0M159.9 192.5h0M157.4 167.7h0M158.5 121.9h0M159.1 187.9h0M154.8 181.1h0M154.4 190.5h0M152.4 193.3h0M160.1 181.6h0M161 192.8h0M159.8 177.9h0M159.2 177.2h0M153.3 185.9h0M154.2 176.4h0M155.2 175.1h0M157.4 183.7h0M153.2 191h0M153.3 185.7h0M154.2 169.3h0M154.5 175.3h0M158 190.8h0M159.5 181.8h0M152.3 190.9h0M154.8 182.6h0M159.9 183.7h0M160.5 188.1h0M158.1 173.6h0M155.9 190.9h0M158.1 168.2h0M157.9 144.7h0M160 192.8h0M154.9 192.8h0M153.1 180.7h0M157.2 184.7h0M158.1 168.9h0M155.4 124.5h0M158.9 191.9h0M159.1 189.6h0M155.9 176.9h0M152.9 188.4h0M152.3 185.2h0M152.2 191.1h0M159.1 183.9h0M159 185.9h0M155.7 185h0M157.2 181.8h0M153.2 186.6h0M153.7 188.3h0M153 176.2h0M160.3 193.2h0M155 191.6h0M157.6 193.2h0M159.1 190.5h0M158.6 181.5h0M158.3 181.4h0M156.6 171.5h0M158.3 189.7h0M155.7 174.2h0M154.6 187.9h0M158.6 162.8h0M158.7 187.3h0M159 175.2h0M158 190.1h0M159.2 162.2h0M155.6 192.6h0M160.4 167.2h0M157.3 187.6h0M158.5 174.6h0M159.6 192.9h0M159.5 192.3h0M157.9 184.5h0M155.4 181h0M157.7 177.2h0M156.2 174.6h0M156.1 178.1h0M155.8 190.1h0M158.9 192.6h0M160.1 163.5h0M153.9 178.4h0M155.2 175.7h0M154.6 181.4h0M158.5 191h0M158.8 179.9h0M158.9 174.8h0M157.5 157.8h0M158.5 190.9h0M153 167.3h0M155 174.2h0M160.6 188.4h0M159 193h0M158.6 174.8h0M155.7 172.9h0M158 167h0M154.1 189.9h0M154.9 190.3h0M156.6 191.4h0M158.4 189.5h0M155.5 171.7h0M159.2 183.7h0M155.4 181.7h0M159.2 182.9h0M153.7 170.3h0M152 191.3h0M159.2 180.9h0M153.8 192.3h0M153.9 147.7h0M160 168h0M153.5 186.4h0M160.5 191.2h0M160.2 181.9h0M156.5 185.4h0M160.5 174.2h0M161 186h0M156.5 189.9h0M157.6 182.7h0M160.8 187.1h0M153.3 192.3h0M155.8 173.3h0M156.7 174.7h0M158.4 191.8h0M153.4 184.9h0M158.5 177h0M156.1 177.7h0M158.6 189.9h0M152.5 182.9h0M156 183.4h0M160.6 176.4h0M156.8 181.5h0M159.9 169.2h0M152.4 181.6h0M152.2 187.7h0M160 169.4h0M153.8 181.9h0M156.2 188.2h0M160.2 181.5h0M158.9 188.9h0M152.2 185.4h0M154.6 171.5h0M158.2 184.9h0M153 183.4h0M158.8 161.8h0M160.9 193.2h0M155.8 172.3h0M155.3 160.2h0M158.3 182.9h0M160.5 169.9h0M153.6 184.4h0M158.4 192.7h0M154.2 191.5h0M157.5 190.2h0M157.1 192.2h0M153.8 192.6h0M157.7 184h0M152.5 186.7h0M154.9 178.5h0M155.9 190.7h0M154.3 182.9h0M160.5 185.8h0M157.6 183.9h0M157.7 175.5h0M157.1 151.6h0M158 182.2h0M160.9 188.8h0M159.8 190.6h0M154 180.5h0M159.5 183.5h0M160.7 191.6h0M158.6 182.3h0M156.5 187h0M152.3 189.1h0M155.1 181.1h0M152.9 179.7h0M155.5 146h0M158.7 128.1h0M153 177.1h0M154.6 193.3h0M156.4 170.3h0M153.2 173.4h0M154.5 160.1h0M158.7 189h0M159.1 178.1h0M158.1 182h0M154.5 191.8h0M159.8 177.7h0M153.5 172.4h0M156.6 171.6h0M158.4 189.9h0M159.8 173.7h0M152.9 184.2h0M152.1 190.1h0M157 184.9h0M156.7 173.9h0M159.3 158.1h0M158.5 186.9h0M156.5 192h0M155.7 166.3h0M159.5 188.6h0M153 176h0M157.6 190.5h0M155.4 185.2h0M157.5 193.1h0M155.6 189.1h0M156.9 156.9h0M158.7 192.6h0M155 164.5h0M159.9 180.2h0M155.1 166.5h0M157.2 182.7h0M155.9 188.9h0M152.7 191.3h0M160 175.5h0M157.1 183h0M157.9 189.6h0M159 190.5h0M157 182.4h0M156.7 151.8h0M158.1 138.6h0M157.4 165.8h0M159.7 192.9h0M160.3 168.7h0M155.4 190.6h0M157.5 178h0M155.9 191.8h0M156.9 181.1h0M152.6 183.3h0M158.8 184.4h0M158.1 181.5h0M153.7 150.7h0M156.3 175.8h0M155 172.2h0M154.7 190.6h0M159 145.1h0M156.8 150.9h0M155 190.6h0M158 173.7h0M159.8 183.4h0M151.9 192h0M159.5 189h0M157.8 178.7h0M160.7 182.9h0M156.2 192.5h0M159.7 179.5h0M156.5 168.2h0M153 189.3h0M156 179.4h0M155.7 184h0M152.1 188.7h0M161.4 193.4h0M158.7 180.9h0M160.5 186h0M155.7 175.4h0M158.4 184h0M157.7 189.6h0M160.6 173h0M154.3 186.3h0M160.2 173.6h0M152.9 182.8h0M153.2 188h0M154.3 187.3h0M153.5 188.9h0M154.5 188.4h0M155.2 189.1h0M157.7 173.5h0M154.5 186.7h0M154.7 161.6h0M153.4 172.1h0M153.6 188.2h0M152.3 185.2h0M158.7 189.2h0M154 179.2h0M153.6 175.3h0M157 179.4h0M152.8 175.8h0M157.4 157.3h0M152.6 174.4h0M158.8 185h0M154.2 191.6h0M159.3 191.4h0M156.6 187h0M155.3 190.8h0M152.5 182.2h0M155.7 184.1h0M153.8 190.7h0M159.1 191.3h0M160.7 191.6h0M154.3 176.5h0M159.1 155.6h0M153.4 187.7h0M154.7 191.1h0M155.7 165.7h0M156.8 173.1h0M161.1 187h0M154.9 189.5h0M154.7 189.2h0M158.7 183.9h0M153.7 159.3h0M158.3 167.5h0M160.4 176.6h0M157 191.5h0M159.4 175.5h0M153.6 154.2h0M157.7 181.7h0M152.7 187.2h0M156.8 186.1h0M158.7 182.5h0M160.4 184.3h0M158.2 183h0M158 149h0M154.3 171.2h0M154.4 176.2h0M153 192.7h0M156.8 161.2h0M159 170.1h0M155.5 171.9h0M153.7 193.2h0M158.5 174.6h0M159.8 187.8h0M160.6 187.2h0M160.1 190.2h0M158.1 190.5h0M159.2 188.6h0M152.8 187.7h0M159.2 180h0M160.7 183.1h0M160.1 192.5h0M156.8 176.2h0M154.2 185.4h0M160.1 189.5h0M157.7 183.8h0M156.5 124.2h0M153.5 181.3h0M155.2 183.2h0M157.1 167.9h0M157.2 185.5h0M157.3 188.1h0M159.7 188.1h0M153.4 168.8h0M158.2 185.6h0M156.3 182.5h0M156.9 185.5h0M155.9 126.6h0M158.4 176h0M154.9 192.3h0M160 190.8h0M159.2 179.8h0M154.8 193.1h0M155.4 186h0M159.4 187.7h0M159.3 168.6h0M142.1 104.8h0M158.7 79.6h0M160.3 108.7h0M159.9 117.9h0M142.8 111h0M160.5 81.2h0" stroke="#000" stroke-width="2.1" stroke-linecap="round" fill="none"/>
<path d="M149.6 150L149.6 206" stroke="#fff" stroke-width="0.8" opacity="0.7"/>
<path d="M115.2 183.7h0M132.7 177.1h0M126.7 191.8h0M127.4 191.4h0M110.6 179h0M135.6 177.1h0M125.8 191.3h0M135.7 186.4h0M131.4 177.7h0M134.5 192.2h0M116.6 185.5h0M124.3 180.4h0M125.9 180.3h0M126.9 182h0M111.1 179.9h0M131.9 191.5h0M137.5 191h0M127.3 181.6h0M131.2 190.3h0M129 187.8h0M121.6 192.1h0M114 181.6h0M125.7 193.1h0M110.8 177.3h0M114.2 190.8h0M131.8 184.1h0M127 186.9h0M136.4 189.2h0M117.3 186.8h0M117.3 184.6h0M123.7 189.1h0M119.4 180.1h0M113.2 180.3h0M110.6 185.6h0M132.4 192.9h0M130.1 187h0M124.5 176.8h0M115.4 176.9h0M117.3 185.2h0M136.3 181.2h0M119 185.6h0M115.3 188.3h0M112.9 181.7h0M132.3 181.7h0M127.9 177.2h0M128.6 180.2h0M123 178.5h0M134.6 176.6h0M126.3 191.4h0M124.2 192.4h0M114.9 190.8h0M114.9 184.1h0M137.3 178.7h0M131.5 190.3h0M120.6 186.5h0M132.7 184.4h0M128.9 188.4h0M126.2 192.7h0M135.6 189.9h0M128.4 193.2h0M111 181.4h0M136.8 177.2h0M120.9 185.3h0M119.1 191.8h0M128.7 184h0M112.6 185.6h0M134.4 178.2h0M118.3 176.5h0M134.5 179.6h0M125.1 184.5h0M117.3 176.5h0M133.4 186.7h0M116.4 184.8h0M121.8 186.7h0M131 193.2h0M132.1 187.4h0M121.6 192.3h0M121.4 189.7h0M121.7 190.5h0M116.1 187.2h0M129.2 176.9h0M118 178.5h0M126.6 190.8h0M119 192.1h0M131.7 193.1h0M128.1 186.2h0M112.9 190.6h0M136.6 184.4h0M111.7 191.8h0M123.8 183.3h0M111.9 178.7h0M118.1 181.4h0M120.1 176.9h0M127.1 192.3h0M120.9 190.3h0M131.1 191.4h0M126.8 193.4h0M112.4 193.4h0M120 179.7h0M115.8 179.2h0M135 189.4h0M110.6 189.6h0M133.2 179.8h0M128.6 183.4h0M135.8 190.1h0M123 189.3h0M134.4 176.1h0M120.3 189.6h0M125.7 186.7h0M128 176.1h0M131.3 181.7h0M116.3 191h0M121.4 178.1h0M131.7 178.4h0M131 190.2h0M115.2 181h0M136 190.4h0M119.3 189h0M138 185.5h0M133.7 186.3h0M120.7 192.6h0M131.7 189h0M138.1 180.2h0M136.8 183.3h0M116.4 187h0M112 184h0M134.3 187.8h0M132.6 177.4h0M124.5 191.9h0M116.1 182.7h0M124.2 180.3h0M123.5 177.7h0M115.2 177.5h0M110.7 185.4h0M117.4 183.5h0M110.9 176.8h0M125.3 186h0M120.5 186.9h0M111.6 193h0M129.1 185.7h0M132.1 181.7h0M129.6 185.9h0M125.8 185.3h0M114.6 187.9h0M124.5 191.2h0M119.2 190.3h0M120.6 183.8h0M119.2 179.5h0M133.2 193.4h0M117.4 191.7h0M116.7 193.2h0M123.9 190.3h0M117.7 187h0M127.6 192.5h0M129.3 186.9h0M121 178.8h0M125.6 193.5h0M131 177.3h0M130.7 188.1h0M120.7 186.5h0M135.5 188.8h0M114.3 190.4h0M131.1 181.7h0M112.7 178.6h0M118.2 181.9h0M131.4 192.6h0M129.6 191.3h0M132.1 178.7h0M133.3 184.4h0M122.6 191.4h0M115 184.2h0M123.6 191.4h0M137.5 176.3h0M136.5 176.9h0M124.2 181.6h0M134.7 179.7h0M118.5 188.3h0M115.6 189.9h0M127.5 188.3h0M124.8 181.7h0M111.4 188.8h0M127.3 178h0M111.5 180.8h0M115.2 193h0M116.7 180.9h0M116.2 186.3h0M136.4 192.5h0M125.9 184.7h0M113.7 191h0M133.2 191.1h0M118 186.8h0M121.7 191.3h0M112.8 184.8h0M135.2 193.1h0M126.8 192.8h0M131.8 176.3h0M115.4 191.8h0M121.6 191.2h0M118.8 183.4h0M128.3 176.4h0M117 186.8h0M137.4 189.7h0M127.7 177.6h0M129.4 191.5h0M134.9 186.2h0M137.8 176.1h0M110.5 190.2h0M127.6 186.2h0M135.1 187.7h0M115.8 189.5h0M128.4 184.1h0M112.3 188h0M121.3 186.3h0M130.1 189.5h0M111.2 193.1h0M126.6 188.2h0M117 189h0M128.3 190.1h0M123.2 185.5h0M113.5 190.1h0M137.2 188.4h0M120.7 187.9h0M125.9 181h0M128.9 176.6h0M132.9 178.5h0M127.8 193.4h0M123.3 187.1h0M136.3 193.2h0M130.1 193.4h0M127.8 186.3h0M133.2 180.4h0M116.8 186h0M123.5 183.4h0M128.9 186.4h0M112.9 176.2h0M135 184.1h0M136.1 182.1h0M123.5 176.5h0M124.1 185.6h0M130.5 180.3h0M136.2 179.2h0M111.7 187.6h0M123.4 188.9h0M134.5 191.7h0M115.2 192.3h0M113.3 188.3h0M110.5 193.2h0M128.7 191.9h0M127.8 179h0M121.7 187.6h0M128.2 180.2h0M135.6 185.3h0M117.7 190.3h0M119.3 184.5h0M130.2 176.7h0M135.1 187.4h0M128 186.1h0M130.2 191.1h0M129.9 192.1h0M113.7 183.1h0M127.3 180h0M131.9 186.7h0M118.7 178.4h0M117.5 184.6h0M113 179.1h0M118.9 180.9h0M135 183.6h0M131.7 190.7h0M112.7 191.5h0M126.8 179.7h0M114 177.7h0M133.8 189h0M111.7 186.9h0M136 186.1h0M110.7 193.4h0M113 175.9h0M131.9 183.2h0M137.4 187.7h0M124.2 190.4h0M123.8 191.9h0M131.4 189.1h0M123.3 185.4h0M126.9 188.9h0M113.4 190.4h0M126.2 182.1h0M114.4 193.4h0M119.5 190.2h0M135.1 181.5h0M130.6 180.5h0M136.2 190.5h0M123.7 192.3h0M119 176.3h0M115 192.8h0M119 180.2h0M111.7 186.2h0M114 186.2h0M122.8 179.4h0M135.5 188.9h0M114.5 185.9h0M133.2 186.8h0M117.3 187.1h0M133.5 181.4h0M122.1 180.9h0M116.7 184.8h0M117.3 191.2h0M132.7 188.8h0M125.8 177.1h0M137 192.3h0M135.1 190.3h0M112.8 179.3h0M134.4 189.3h0M121.7 189.4h0M111.8 178.1h0M133.6 187h0M135.2 180.3h0M138 188.2h0M120.1 182.3h0M124.9 187.9h0M131.8 187.1h0M124.1 191.8h0M136 191.2h0M129.5 185h0M129.9 189.9h0M130 190.2h0M118.3 182.9h0M116.1 192h0M120.6 176.9h0M120.8 193.4h0M137.8 189.1h0M130.7 188.9h0M125.3 184.6h0M113.5 191.6h0M122.3 181.1h0M137.3 190.8h0M133.1 187.2h0M118.9 181.3h0M132.8 187h0M134.4 180.2h0M113 179.9h0M125.6 178.1h0M137.2 193.5h0M123.9 181.5h0M115.7 188.2h0M136.8 180.9h0M122 188.6h0M133 188h0M133.2 184.9h0M132.6 190.4h0M127.7 179.1h0M115.1 192.2h0M131.2 182.9h0M130.3 191.1h0M130.6 178.3h0M125.5 181.4h0M122.4 187.5h0M115.1 192.3h0M111.6 185.5h0M124.9 181.2h0M120.9 182h0M126.1 192.3h0M119.7 193.2h0M127.1 187.3h0M118.5 176.3h0M130.2 183.7h0M121.2 191.7h0M126.1 177.8h0M115.2 185.6h0M112.9 190h0M112.9 187.6h0M122.6 182.2h0M112.6 188.8h0M121.6 181.6h0M131.8 177.1h0M125.6 179.5h0M123.3 187.5h0M117.9 186.2h0M130.1 181.2h0M126.8 192.8h0M128 184.5h0M115.5 182.4h0M117.6 188.5h0M126.9 183h0M122.7 179.1h0M117.1 176.8h0M137.8 189.9h0M111.1 178.5h0M136.4 193h0M118.9 188.9h0M119 179h0M115.7 193.1h0M115.8 188.3h0M138 176.2h0M122.8 178.3h0M122 182.8h0M129.3 184h0M123.8 182.2h0M132.4 193.2h0M119.7 185.1h0M124.6 177.7h0M121.4 193.5h0M113.3 186.7h0M111.8 189.7h0M116.5 182.1h0M129.1 189.4h0M122.4 181.2h0M126.3 187.1h0M115.7 186.8h0M131.6 188.2h0M129.3 189h0M114.1 180.3h0M111.2 190.5h0M132.9 191.7h0M132.6 186.9h0M116.2 184.7h0M121.2 176.5h0M117.3 190.5h0M132.4 177.9h0M135.5 183.9h0M127.7 188.6h0M117.4 183h0M119.9 191.8h0M111.1 184.7h0M129.4 183h0M113.7 180.3h0M121.3 190.9h0M134.3 192.8h0M125.8 187.8h0M117.3 190.4h0M111.3 189.5h0M138.1 191.8h0M128.6 186.1h0M137.8 183.7h0M120.7 192.6h0M120.5 191.7h0M137 176h0M110.6 190.1h0M133 193.5h0M128 180.5h0M132.9 176.8h0M134 182.9h0M126.5 184.4h0M124.3 191.7h0M116.8 181.5h0M116.5 182.4h0M129.8 184.5h0M136.7 182h0M116.1 177.9h0M118.6 193.1h0M116.7 192.7h0M125.9 189.8h0M129 180.5h0M133.6 180.7h0M111.1 192.3h0M110.7 192.1h0M130 186.5h0M122.8 191.6h0M121.1 184.8h0M123.9 189.5h0M132.8 186.2h0M116.9 188.1h0M121 193.1h0M118.3 184h0M111.2 189.6h0M137.8 178.6h0M115.2 177.4h0M115 190.4h0M126.8 183.6h0M113.6 184.9h0M112.6 177.4h0M137.2 192.1h0M136.3 184.4h0M120 188.9h0M117 182.6h0M125.8 193.1h0M118.9 193.1h0M130.5 183.1h0M123.4 185.8h0M136.5 187.4h0M125.3 189.2h0M133.9 180.3h0M117.4 169.3h0M133.6 169.7h0M137 149.7h0M129.5 151.8h0M124.9 175.8h0M123.4 168h0M108.7 178.1h0M137.5 174.2h0M123.1 173.3h0M119.8 162.1h0M128.4 174.8h0M133.6 149h0M125.1 171.2h0M130.9 153.6h0M112.4 173.7h0M134.8 161.8h0M130.4 176.4h0M126 173.4h0M132.2 163h0M124.3 163.6h0M137.4 162.2h0M126.1 172.1h0M113.4 176.2h0M134.1 155h0M133 172.3h0M119.9 163.9h0M127.3 156.5h0M117.7 178.4h0M132.1 168.8h0M127 159.2h0M135.1 177h0M135.3 159.9h0M133.2 161.3h0M133.1 162.9h0M123.6 178.2h0M136 170.3h0M130.3 151.4h0M128.7 151.2h0M136.4 168.8h0M127 165.4h0M117.3 177.6h0M130.8 157.8h0M135.5 157.4h0M123.8 178.6h0M137.6 153.7h0M118.3 167h0M130.1 177.6h0M127.6 151.3h0M130.8 155.2h0M124.8 164.5h0M118.1 171h0M130.5 150.7h0M120.3 167.5h0M133.7 173.9h0M134.7 160h0M120.4 164.3h0M131.3 157.2h0M123.8 174h0M121.6 172.3h0M112.9 175.7h0M127.5 169.1h0M131.8 171.5h0M120.7 162h0M119.4 166h0M111.7 178.5h0M122.2 175.9h0M123.3 171.5h0M113.8 175.1h0M130.5 171.9h0M136.2 157.8h0M128 157.3h0M119.9 171.3h0M124 178.1h0M116.3 171.2h0M135.9 169.6h0M117.8 178h0M127.7 177.5h0M136.7 173.2h0M112.9 173h0M130.5 162.8h0M135.8 154.5h0M136.4 167.2h0M129.9 155.4h0M135.1 168.6h0M135 159.4h0M127.4 174.5h0M123.3 169.2h0M137.6 165.5h0M132.9 148.9h0M127.2 170h0M109.2 177.9h0M124.4 156.7h0M129.4 165.1h0M134 164.1h0M121.1 176.7h0M131.6 169.2h0M116.2 177.2h0M126.2 172.1h0M114.9 176.2h0M134.1 167.9h0M136 160.6h0M124.8 161.4h0M133.8 150.2h0M120.9 172.7h0M126.4 177.6h0M119.7 174.6h0M134.1 168.9h0M119.8 175.2h0M133.4 156.4h0M120.2 178.5h0M122 128.9h0M124.8 132.7h0M93.9 136.4h0M126.7 138.1h0M123.5 141h0M107.6 143.4h0M98.9 145h0M75.1 150.9h0M121.1 148h0M129.4 150.9h0M72.1 157.8h0M72.2 163.1h0M90.2 155.7h0M91.3 158.4h0M97.4 153.5h0M94.8 163.4h0M80.4 174.3h0M90.2 179.5h0M100.1 185.7h0M98.1 190h0M102.7 184.1h0M104 170h0M108 163h0M110 158h0M113 153h0M117 150h0M134 141h0M131 146h0M136 152h0M106 176h0M103 180h0" stroke="#5b2fb3" stroke-width="2.1" stroke-linecap="round" fill="none"/>
<path d="M168 181.5h0M169.8 190.8h0M194.1 184.5h0M166.6 191.7h0M183.2 185.1h0M173.2 192.5h0M186.7 185.4h0M180.5 173.3h0M161.1 181.5h0M166.7 175.3h0M172.4 187.4h0M184.7 192.5h0M183.8 189.3h0M166.3 193.4h0M167.2 182.1h0M175.5 179.7h0M184.1 177.8h0M181.8 190.4h0M195.1 188.6h0M175.3 181.6h0M194 184.7h0M183.6 181.3h0M189 190.7h0M180.1 185.3h0M163.2 191.5h0M173 179.4h0M173.8 188.1h0M174.4 191.9h0M182.3 190.9h0M181.6 193.2h0M170.5 177h0M172.7 186.9h0M167.9 189.2h0M172 192.4h0M188.4 192.1h0M163.8 180h0M176.7 179.1h0M189.9 192h0M163.4 183.8h0M171.8 190.1h0M161.2 184.1h0M169.6 183.9h0M164.6 182h0M166.6 187.7h0M167.9 181.5h0M184 192h0M189.7 184h0M176.1 172.7h0M164.1 192.1h0M171.5 183.5h0M169.2 187.7h0M189.2 192.3h0M183.1 188.8h0M166.6 184.7h0M175.2 186h0M178 171.1h0M171.7 193.4h0M168.4 179.7h0M189 193.4h0M169.8 184.3h0M189.5 180.2h0M166.8 192.9h0M197.5 193.4h0M183.5 180h0M175.4 190.6h0M169.8 177.8h0M176.8 192.4h0M162.4 178.2h0M185.8 186.2h0M180.3 181.4h0M163 171.4h0M195.1 189.3h0M184.6 191h0M180.9 192.2h0M189.9 188.7h0M186.9 189.6h0M179.1 191.6h0M179.5 181.4h0M184.3 188.7h0M178.1 192h0M162.4 180.8h0M168.8 177.8h0M176.7 189.9h0M192.1 182.6h0M192.5 183.8h0M177.2 188.2h0M181.5 184.8h0M171.2 184.5h0M176.2 193h0M184.7 185.7h0M193.1 192.7h0M179.2 192.5h0M180.8 187.3h0M192.4 179.9h0M183 191.8h0M186 191.6h0M181.8 180.8h0M184.2 193.3h0M194.9 192.1h0M171.3 181.5h0M171.7 189.4h0M166.3 175.4h0M183.7 179.8h0M173 177.8h0M182.4 183.2h0M173.9 182.6h0M178.3 179.7h0M161.7 180.8h0M168 193.3h0M167.2 185.5h0M161.1 178.6h0M167.3 193.4h0M184.4 179.4h0M168.4 175.8h0M185.9 192.2h0M162.1 174.8h0M186.1 188.7h0M166.7 192.6h0M173.5 192.2h0M195.2 187.5h0M181.5 192.5h0M169.7 186.2h0M161.9 193.5h0M178 182.1h0M176.3 185.4h0M195.1 188.1h0M195.1 192.3h0M179.9 177.2h0M193.4 188.4h0M184.3 191.4h0M169.3 176.4h0M175.6 176.1h0M197.5 192.9h0M171.4 191h0M184.8 180.6h0M176.2 191.6h0M167.4 181.8h0M164.9 189.1h0M175.1 186.4h0M179.2 176.7h0M165.9 176.1h0M166.2 191.8h0M161 192.5h0M184.9 183.5h0M192.4 190.8h0M171 172h0M168.8 178.4h0M194.6 190.1h0M161.4 171.2h0M190.1 182.8h0M191.6 192.9h0M176.8 185h0M172.9 191.6h0M192.8 191.1h0M192.9 192.1h0M180 179.5h0M161 182.8h0M168.5 183.8h0M173.5 184.7h0M194.2 189.3h0M186.4 191.8h0M173 188.4h0M173.9 189.3h0M164.4 192.1h0M162.4 190.6h0M175.5 191.1h0M194.4 193.1h0M186.4 176h0M176.8 191.6h0M197.1 191.8h0M169.2 182.4h0M191.6 189.4h0M166.7 191.7h0M175 189.3h0M178.8 189.2h0M183.4 191.5h0M197 193h0M164.4 171.4h0M187.1 191.3h0M193.1 189.5h0M177 192.3h0M190.7 183.3h0M179.7 173.9h0M197.2 192.5h0M187.5 192h0M180.9 173.8h0M175.5 171.2h0M164.6 192.8h0M174 171.3h0M174.6 186.5h0M189 183.6h0M188.3 192.1h0M189.1 180.7h0M162.2 190.4h0M166.8 192.5h0M183.6 180.4h0M176.7 176h0M162.2 172.2h0M189.6 187.2h0M167.7 190h0M162.9 178.9h0M183.1 174.2h0M179 181.6h0M171.3 184.9h0M192.7 190.3h0M174.5 188h0M183.4 183.3h0M181 183.8h0M197.1 190.8h0M180.9 190.7h0M175.5 179.3h0M171.3 193.1h0M174.8 191.3h0M172.6 187.8h0M184 193h0M188.4 181.6h0M193.2 188.6h0M169.7 179.7h0M185.7 179.4h0M194.3 184.1h0M189 183.1h0M189.1 188.9h0M163.4 174h0M174.2 189.7h0M181.8 186.4h0M168 181.6h0M185.9 179.9h0M187.7 192.7h0M193.6 188.8h0M181.5 191.1h0M187.4 177.4h0M173.6 185.3h0M180.3 191.9h0M182.2 184.4h0M178.6 174.6h0M186.2 176.8h0M179.6 188.9h0M168 184.8h0M194.2 191h0M171.3 193.2h0M181 185.4h0M177.8 188.7h0M161.1 190.8h0M182.2 179.4h0M162.9 185.8h0M180.8 193h0M184.3 191.2h0M191.8 187.3h0M196.6 191.6h0M189 192.4h0M189.4 185.2h0M194.2 187.4h0M167.3 170.7h0M161.3 186h0M164.5 178.9h0M190.8 191.1h0M182.4 183.2h0M162.3 175.3h0M173.5 187.8h0M197.1 192.7h0M174.2 193h0M163.8 183.8h0M167.5 181.1h0M177.1 180h0M194.7 191.1h0M170.7 189.7h0M174 175.1h0M181.9 188h0M161.5 180.4h0M177.4 178.9h0M167.9 180.7h0M162.9 186.5h0M185.8 193.2h0M187.4 186.6h0M195.9 190.4h0M171 184.4h0M186.7 185.5h0M189.9 192.9h0M165.5 177h0M191.3 189.9h0M191.2 185.3h0M193.3 193h0M166.8 192.7h0M169.8 193h0M164.1 182.4h0M193.1 193.3h0M161.5 179.8h0M197.2 191.8h0M173.1 193h0M188.2 179.1h0M164.9 190.5h0M177.1 178.1h0M164.1 188.7h0M169.7 192.1h0M192.7 190.7h0M181.8 188h0M172.7 182.5h0M192.1 191.5h0M161.3 190.5h0M163.8 178h0M175.4 180.6h0M195.5 188.7h0M171 174.1h0M190.3 190.8h0M165.3 175.4h0M190.9 191.7h0M168 184.3h0M166.1 185.5h0M165.9 179.1h0M187.1 177.2h0M168.6 190.9h0M166.2 191.1h0M178.5 181.2h0M184.1 185.6h0M166.8 178.1h0M169 184.6h0M189.3 193.5h0M169.2 181.5h0M179.8 179h0M169.8 184.8h0M168.1 192.7h0M179.6 181.4h0M164.7 174.7h0M161.5 192.8h0M195.5 192.2h0M170.8 186.4h0M173.9 187.7h0M184.1 188.9h0M165.9 189h0M197.3 193.3h0M165.3 67.1h0M162 77.8h0M167.7 82.6h0M164 110.2h0M164 119.5h0M166.7 123.7h0M176.4 125.3h0M162.8 128.8h0M164 133h0M164.4 137.9h0M172.1 142.1h0M168.6 149.5h0M167.9 156.3h0M211.9 150.5h0M214.8 154h0M200.2 158.6h0M202.8 161.1h0M217.7 162.7h0M211.9 178h0M195.8 172.8h0M198.9 178.6h0M204.1 187.3h0M209 190.2h0M223.5 191.7h0M162.5 145h0M163 152h0M165 160h0M162.5 163h0M170 165h0M175 163h0M163 101h0M179 166h0M186 168h0M191 171h0" stroke="#d5402a" stroke-width="2.1" stroke-linecap="round" fill="none"/>
<path d="M134.4 67.9h0" stroke="#5b2fb3" stroke-width="2" stroke-linecap="square"/>
<g stroke="#000" stroke-width="1.8" fill="none">
<path d="M58 40V223.3H241.5"/>
<line x1="50.2" y1="223.3" x2="58" y2="223.3" stroke="#000" stroke-width="1.8"/>
<line x1="50.2" y1="177.5" x2="58" y2="177.5" stroke="#000" stroke-width="1.8"/>
<line x1="50.2" y1="131.6" x2="58" y2="131.6" stroke="#000" stroke-width="1.8"/>
<line x1="50.2" y1="85.8" x2="58" y2="85.8" stroke="#000" stroke-width="1.8"/>
<line x1="50.2" y1="39.9" x2="58" y2="39.9" stroke="#000" stroke-width="1.8"/>
<line x1="58.6" y1="223.3" x2="58.6" y2="230.5" stroke="#000" stroke-width="1.8"/>
<line x1="104.2" y1="223.3" x2="104.2" y2="230.5" stroke="#000" stroke-width="1.8"/>
<line x1="149.8" y1="223.3" x2="149.8" y2="230.5" stroke="#000" stroke-width="1.8"/>
<line x1="195.4" y1="223.3" x2="195.4" y2="230.5" stroke="#000" stroke-width="1.8"/>
<line x1="241" y1="223.3" x2="241" y2="230.5" stroke="#000" stroke-width="1.8"/>
</g>
<text x="48.4" y="226.9" font-size="10.3" font-weight="bold" text-anchor="end" fill="#000">0</text>
<text x="48.4" y="181.1" font-size="10.3" font-weight="bold" text-anchor="end" fill="#000">2</text>
<text x="48.4" y="135.2" font-size="10.3" font-weight="bold" text-anchor="end" fill="#000">4</text>
<text x="48.4" y="89.4" font-size="10.3" font-weight="bold" text-anchor="end" fill="#000">6</text>
<text x="48.4" y="43.5" font-size="10.3" font-weight="bold" text-anchor="end" fill="#000">8</text>
<text x="58.2" y="242.7" font-size="10.4" font-weight="bold" text-anchor="middle" fill="#000">-4</text>
<text x="103.8" y="242.7" font-size="10.4" font-weight="bold" text-anchor="middle" fill="#000">-2</text>
<text x="149.6" y="242.7" font-size="10.4" font-weight="bold" text-anchor="middle" fill="#000">0</text>
<text x="195.2" y="242.7" font-size="10.4" font-weight="bold" text-anchor="middle" fill="#000">2</text>
<text x="240.8" y="242.7" font-size="10.4" font-weight="bold" text-anchor="middle" fill="#000">4</text>
<text x="98.8" y="27.7" font-size="10" font-weight="bold" text-anchor="start" fill="#000" textLength="96" lengthAdjust="spacingAndGlyphs">siCEACAM6 vs NTC</text>
<text x="87.6" y="72.3" font-size="9.9" font-weight="bold" text-anchor="start" fill="#000" textLength="44" lengthAdjust="spacingAndGlyphs">CEACAM6</text>
<text x="109.5" y="260" font-size="10" font-weight="bold">Fold change (log<tspan font-size="6" dy="1.5">2</tspan><tspan dy="-1.5">)</tspan></text>
<text transform="translate(33.6 165.5) rotate(-90)" font-size="10.6" font-weight="bold">P-value (-log<tspan font-size="6.2" dy="1.6">10</tspan><tspan dy="-1.6">)</tspan></text>
<rect x="501" y="8.3" width="67.2" height="4.6" fill="#e2401f"/>
<text x="496.8" y="13.8" font-size="9" font-weight="bold" text-anchor="end" fill="#000">Cell Cycle: G1/S Checkpoint Regulation</text>
<rect x="501" y="19.8" width="40.2" height="4.6" fill="#e2401f"/>
<text x="496.8" y="25.3" font-size="9" font-weight="bold" text-anchor="end" fill="#000">EIF2 Signaling</text>
<rect x="501" y="31.4" width="31.8" height="4.6" fill="#e2401f"/>
<text x="496.8" y="36.9" font-size="9" font-weight="bold" text-anchor="end" fill="#000">ATM Signaling</text>
<rect x="501" y="42.9" width="29.7" height="4.6" fill="#e2401f"/>
<text x="496.8" y="48.4" font-size="9" font-weight="bold" text-anchor="end" fill="#000">Senescence Pathway</text>
<rect x="501" y="54.4" width="29" height="4.6" fill="#e2401f"/>
<text x="496.8" y="59.9" font-size="9" font-weight="bold" text-anchor="end" fill="#000">ERK/MAPK Signaling</text>
<rect x="501" y="66" width="25" height="4.6" fill="#e2401f"/>
<text x="496.8" y="71.5" font-size="9" font-weight="bold" text-anchor="end" fill="#000">Estrogen Receptor Signaling</text>
<rect x="501" y="77.5" width="22" height="4.6" fill="#e2401f"/>
<text x="496.8" y="83" font-size="9" font-weight="bold" text-anchor="end" fill="#000">AMPK Signaling</text>
<rect x="501" y="89" width="19.9" height="4.6" fill="#e2401f"/>
<text x="496.8" y="94.5" font-size="9" font-weight="bold" text-anchor="end" fill="#000">Tumor Microenvironment Pathway</text>
<rect x="501" y="100.5" width="18.1" height="4.6" fill="#e2401f"/>
<text x="496.8" y="106" font-size="9" font-weight="bold" text-anchor="end" fill="#000">Interferon Signaling</text>
<rect x="501" y="112.1" width="15" height="4.6" fill="#e2401f"/>
<text x="496.8" y="117.6" font-size="9" font-weight="bold" text-anchor="end" fill="#000">HIPPO Signaling</text>
<rect x="501" y="123.6" width="106" height="4.6" fill="#5229ab"/>
<text x="496.8" y="129.1" font-size="9" font-weight="bold" text-anchor="end" fill="#000">Kinetochore Metaphase Signaling Pathway</text>
<rect x="501" y="135.1" width="71.4" height="4.6" fill="#5229ab"/>
<text x="496.8" y="140.6" font-size="9" font-weight="bold" text-anchor="end" fill="#000">Cyclins and Cell Cycle Regulation</text>
<rect x="501" y="146.7" width="69.3" height="4.6" fill="#5229ab"/>
<text x="496.8" y="152.2" font-size="9" font-weight="bold" text-anchor="end" fill="#000">Cell Cycle Control of Chromosomal Replication</text>
<rect x="501" y="158.2" width="49" height="4.6" fill="#5229ab"/>
<text x="496.8" y="163.7" font-size="9" font-weight="bold" text-anchor="end" fill="#000">Remodeling of Epithelial Adherens Junctions</text>
<rect x="501" y="169.7" width="45" height="4.6" fill="#5229ab"/>
<text x="496.8" y="175.2" font-size="9" font-weight="bold" text-anchor="end" fill="#000">Estrogen-mediated S-phase Entry</text>
<rect x="501" y="181.2" width="37" height="4.6" fill="#5229ab"/>
<text x="496.8" y="186.7" font-size="9" font-weight="bold" text-anchor="end" fill="#000">Protein Kinase A Signaling</text>
<rect x="501" y="192.8" width="23.7" height="4.6" fill="#5229ab"/>
<text x="496.8" y="198.3" font-size="9" font-weight="bold" text-anchor="end" fill="#000">Toll-like Receptor Signaling</text>
<rect x="501" y="204.3" width="23.4" height="4.6" fill="#5229ab"/>
<text x="496.8" y="209.8" font-size="9" font-weight="bold" text-anchor="end" fill="#000">IGF-1 Signaling</text>
<rect x="501" y="215.8" width="20.6" height="4.6" fill="#5229ab"/>
<text x="496.8" y="221.3" font-size="9" font-weight="bold" text-anchor="end" fill="#000">p53 Signaling</text>
<rect x="501" y="227.4" width="19.2" height="4.6" fill="#5229ab"/>
<text x="496.8" y="232.9" font-size="9" font-weight="bold" text-anchor="end" fill="#000">p38 MAPK Signaling</text>
<rect x="501" y="238.9" width="18.1" height="4.6" fill="#5229ab"/>
<text x="496.8" y="244.4" font-size="9" font-weight="bold" text-anchor="end" fill="#000">HGF Signaling</text>
<rect x="501" y="250.4" width="17.4" height="4.6" fill="#5229ab"/>
<text x="496.8" y="255.9" font-size="9" font-weight="bold" text-anchor="end" fill="#000">IL-1 Signaling</text>
<path d="M500.5 1.4V255.2H608" stroke="#333" stroke-width="1.1" fill="none"/>
<line x1="501" y1="255" x2="501" y2="257.8" stroke="#333" stroke-width="1.1"/>
<text x="501" y="269.9" font-size="10.4" font-weight="bold" text-anchor="middle" fill="#000">0</text>
<line x1="525.2" y1="255" x2="525.2" y2="257.8" stroke="#333" stroke-width="1.1"/>
<text x="525.2" y="269.9" font-size="10.4" font-weight="bold" text-anchor="middle" fill="#000">2</text>
<line x1="549.4" y1="255" x2="549.4" y2="257.8" stroke="#333" stroke-width="1.1"/>
<text x="549.4" y="269.9" font-size="10.4" font-weight="bold" text-anchor="middle" fill="#000">4</text>
<line x1="573.6" y1="255" x2="573.6" y2="257.8" stroke="#333" stroke-width="1.1"/>
<text x="573.6" y="269.9" font-size="10.4" font-weight="bold" text-anchor="middle" fill="#000">6</text>
<line x1="597.8" y1="255" x2="597.8" y2="257.8" stroke="#333" stroke-width="1.1"/>
<text x="597.8" y="269.9" font-size="10.4" font-weight="bold" text-anchor="middle" fill="#000">8</text>
<text x="513.9" y="282.4" font-size="10.5" font-weight="bold" textLength="63.4" lengthAdjust="spacingAndGlyphs">P-value (-log</text>
<text x="578.5" y="283.6" font-size="6.2" font-weight="bold" textLength="5.8" lengthAdjust="spacingAndGlyphs">10</text>
<text x="584.4" y="282.4" font-size="10.5" font-weight="bold">)</text>
<rect x="559.2" y="221.4" width="9.7" height="6.5" fill="#e2401f"/>
<rect x="559.2" y="236.2" width="9.7" height="6.6" fill="#5229ab"/>
<text x="574.6" y="228.9" font-size="9.3" font-weight="bold" text-anchor="start" fill="#000" textLength="107" lengthAdjust="spacingAndGlyphs">Activated in siCEACAM6</text>
<text x="574.2" y="243.3" font-size="9.3" font-weight="bold" text-anchor="start" fill="#000" textLength="103.6" lengthAdjust="spacingAndGlyphs">Inhibited in siCEACAM6</text>
<rect x="33.9" y="373.6" width="8.7" height="46.2" fill="#fff" stroke="#000" stroke-width="1.3"/>
<path d="M35.9 372.7h0M38.3 372.7h0M40.7 372.7h0" stroke="#000" stroke-width="1.7" stroke-linecap="round"/>
<rect x="49.9" y="394.7" width="8.3" height="25.1" fill="#e89c42" stroke="#000" stroke-width="1.3"/>
<path d="M54 389.8V397.8M51.8 389.8h4.4M51.8 397.8h4.4" stroke="#111" stroke-width="0.9" fill="none"/>
<path d="M51.8 396.4h0M54 393.5h0M56.2 389.8h0" stroke="#000" stroke-width="1.8" stroke-linecap="round"/>
<rect x="65.2" y="388.6" width="8.6" height="31.2" fill="#e0463a" stroke="#000" stroke-width="1.3"/>
<path d="M69.5 383.2V391.7M67.2 383.2h4.4M67.2 391.7h4.4" stroke="#111" stroke-width="0.9" fill="none"/>
<path d="M67.2 390.7h0M69.5 387h0M71.7 383.2h0" stroke="#000" stroke-width="1.8" stroke-linecap="round"/>
<rect x="91.1" y="373.6" width="8.5" height="46.2" fill="#fff" stroke="#000" stroke-width="1.3"/>
<path d="M92.9 372.7h0M95.3 372.7h0M97.7 372.7h0" stroke="#000" stroke-width="1.7" stroke-linecap="round"/>
<rect x="106.9" y="390.4" width="8.4" height="29.4" fill="#e89c42" stroke="#000" stroke-width="1.3"/>
<path d="M111.1 386V393.5M108.9 386h4.4M108.9 393.5h4.4" stroke="#111" stroke-width="0.9" fill="none"/>
<path d="M108.9 392.6h0M111.1 388.8h0M113.3 387h0" stroke="#000" stroke-width="1.8" stroke-linecap="round"/>
<rect x="122.7" y="384.6" width="8.3" height="35.2" fill="#e0463a" stroke="#000" stroke-width="1.3"/>
<path d="M126.8 382.7V385.1M124.6 382.7h4.4M124.6 385.1h4.4" stroke="#111" stroke-width="0.9" fill="none"/>
<path d="M124.6 384.6h0M126.8 383.7h0M129 382.7h0" stroke="#000" stroke-width="1.8" stroke-linecap="round"/>
<path d="M27.8 326V420.4" stroke="#555" stroke-width="1.3" fill="none"/>
<path d="M27.2 420.1H137.7" stroke="#000" stroke-width="1.3" fill="none"/>
<line x1="54" y1="419.8" x2="54" y2="423.3" stroke="#222" stroke-width="1.1"/>
<line x1="111" y1="419.8" x2="111" y2="423.3" stroke="#222" stroke-width="1.1"/>
<line x1="24.4" y1="419.8" x2="27.8" y2="419.8" stroke="#444" stroke-width="1.2"/>
<text x="24.2" y="422.8" font-size="8.5" font-weight="bold" text-anchor="end" fill="#000">0</text>
<line x1="24.4" y1="372.9" x2="27.8" y2="372.9" stroke="#444" stroke-width="1.2"/>
<text x="24.2" y="375.9" font-size="8.5" font-weight="bold" text-anchor="end" fill="#000">1</text>
<line x1="24.4" y1="326" x2="27.8" y2="326" stroke="#444" stroke-width="1.2"/>
<text x="24.2" y="329" font-size="8.5" font-weight="bold" text-anchor="end" fill="#000">2</text>
<path d="M37.5 366.6V335.5H67.5V379" stroke="#1e1e1e" stroke-width="1" fill="none"/>
<path d="M45 323.8L45 330.8M42 325.6L48 329.1M48 325.6L42 329.1M54 323.8L54 330.8M51 325.6L57 329.1M57 325.6L51 329.1M63 323.8L63 330.8M60 325.6L66 329.1M66 325.6L60 329.1" stroke="#000" stroke-width="1.4" fill="none"/>
<path d="M45 327.3h0M54 327.3h0M63 327.3h0" stroke="#000" stroke-width="2.6" stroke-linecap="round"/>
<path d="M37.5 366.6V351.5H52.5V379" stroke="#1e1e1e" stroke-width="1" fill="none"/>
<path d="M41.2 340.7L41.2 347.7M38.2 342.4L44.2 345.9M44.2 342.4L38.2 345.9M50.2 340.7L50.2 347.7M47.2 342.4L53.2 345.9M53.2 342.4L47.2 345.9M59.2 340.7L59.2 347.7M56.2 342.4L62.2 345.9M62.2 342.4L56.2 345.9" stroke="#000" stroke-width="1.4" fill="none"/>
<path d="M41.2 344.2h0M50.2 344.2h0M59.2 344.2h0" stroke="#000" stroke-width="2.6" stroke-linecap="round"/>
<path d="M95.5 366.4V334.5H125.5V378.6" stroke="#1e1e1e" stroke-width="1" fill="none"/>
<path d="M103 323.9L103 330.9M100 325.6L106 329.1M106 325.6L100 329.1M112 323.9L112 330.9M109 325.6L115 329.1M115 325.6L109 329.1M121 323.9L121 330.9M118 325.6L124 329.1M124 325.6L118 329.1" stroke="#000" stroke-width="1.4" fill="none"/>
<path d="M103 327.4h0M112 327.4h0M121 327.4h0" stroke="#000" stroke-width="2.6" stroke-linecap="round"/>
<path d="M95.5 366.4V347.5H111.5V378.6" stroke="#1e1e1e" stroke-width="1" fill="none"/>
<path d="M99.9 337.7L99.9 344.7M96.9 339.4L102.9 342.9M102.9 339.4L96.9 342.9M108.9 337.7L108.9 344.7M105.9 339.4L111.9 342.9M111.9 339.4L105.9 342.9M117.9 337.7L117.9 344.7M114.9 339.4L120.9 342.9M120.9 339.4L114.9 342.9" stroke="#000" stroke-width="1.4" fill="none"/>
<path d="M99.9 341.2h0M108.9 341.2h0M117.9 341.2h0" stroke="#000" stroke-width="2.6" stroke-linecap="round"/>
<text x="67.5" y="314" font-size="10" font-weight="bold" text-anchor="start" fill="#000" font-style="italic" textLength="34.3" lengthAdjust="spacingAndGlyphs">CCNA2</text>
<text transform="translate(13.6 428.8) rotate(-90)" font-size="11" font-weight="normal" text-anchor="start" fill="#000" textLength="104.6" lengthAdjust="spacingAndGlyphs" stroke="#000" stroke-width="0.3">Gene expression (fc)</text>
<text x="34.3" y="435" font-size="10" font-weight="bold" text-anchor="start" fill="#000" textLength="37.7" lengthAdjust="spacingAndGlyphs">SNU308</text>
<text x="88" y="435" font-size="10" font-weight="bold" text-anchor="start" fill="#000" textLength="46" lengthAdjust="spacingAndGlyphs">Mz-ChA-1</text>
<rect x="186.8" y="372.9" width="8.2" height="46.7" fill="#fff" stroke="#000" stroke-width="1.3"/>
<path d="M188.4 372.1h0M190.8 372.1h0M193.2 372.1h0" stroke="#000" stroke-width="1.7" stroke-linecap="round"/>
<rect x="202.5" y="386.7" width="8.7" height="32.9" fill="#e89c42" stroke="#000" stroke-width="1.3"/>
<path d="M206.8 378.9V392.2M204.6 378.9h4.4M204.6 392.2h4.4" stroke="#111" stroke-width="0.9" fill="none"/>
<path d="M204.6 391.2h0M206.8 385.5h0M209 379.9h0" stroke="#000" stroke-width="1.8" stroke-linecap="round"/>
<rect x="218.1" y="389" width="8.4" height="30.6" fill="#e0463a" stroke="#000" stroke-width="1.3"/>
<path d="M222.2 383.2V393.1M220.1 383.2h4.4M220.1 393.1h4.4" stroke="#111" stroke-width="0.9" fill="none"/>
<path d="M220.1 392.2h0M222.2 388.4h0M224.4 382.7h0" stroke="#000" stroke-width="1.8" stroke-linecap="round"/>
<rect x="244.1" y="372.9" width="8.2" height="46.7" fill="#fff" stroke="#000" stroke-width="1.3"/>
<path d="M245.8 372.1h0M248.2 372.1h0M250.6 372.1h0" stroke="#000" stroke-width="1.7" stroke-linecap="round"/>
<rect x="260" y="384.3" width="8.5" height="35.3" fill="#e89c42" stroke="#000" stroke-width="1.3"/>
<path d="M264.3 376.1V391.2M262.1 376.1h4.4M262.1 391.2h4.4" stroke="#111" stroke-width="0.9" fill="none"/>
<path d="M262.1 390.3h0M264.3 383.7h0M266.5 374.2h0" stroke="#000" stroke-width="1.8" stroke-linecap="round"/>
<rect x="275.3" y="386.2" width="8.6" height="33.4" fill="#e0463a" stroke="#000" stroke-width="1.3"/>
<path d="M279.6 381.8V389.3M277.4 381.8h4.4M277.4 389.3h4.4" stroke="#111" stroke-width="0.9" fill="none"/>
<path d="M277.4 388.4h0M279.6 385.5h0M281.8 381.8h0" stroke="#000" stroke-width="1.8" stroke-linecap="round"/>
<path d="M179.9 325V420.2" stroke="#555" stroke-width="1.3" fill="none"/>
<path d="M179.3 419.9H289.5" stroke="#000" stroke-width="1.3" fill="none"/>
<line x1="206.9" y1="419.6" x2="206.9" y2="423.1" stroke="#222" stroke-width="1.1"/>
<line x1="264.3" y1="419.6" x2="264.3" y2="423.1" stroke="#222" stroke-width="1.1"/>
<line x1="176.5" y1="419.6" x2="179.9" y2="419.6" stroke="#444" stroke-width="1.2"/>
<text x="176.3" y="422.6" font-size="8.5" font-weight="bold" text-anchor="end" fill="#000">0</text>
<line x1="176.5" y1="372.3" x2="179.9" y2="372.3" stroke="#444" stroke-width="1.2"/>
<text x="176.3" y="375.3" font-size="8.5" font-weight="bold" text-anchor="end" fill="#000">1</text>
<line x1="176.5" y1="325" x2="179.9" y2="325" stroke="#444" stroke-width="1.2"/>
<text x="176.3" y="328" font-size="8.5" font-weight="bold" text-anchor="end" fill="#000">2</text>
<path d="M189.5 365.8V334.5H222.5V371.7" stroke="#1e1e1e" stroke-width="1" fill="none"/>
<path d="M204.3 321.9L204.3 328.9M201.3 323.6L207.3 327.1M207.3 323.6L201.3 327.1M213.3 321.9L213.3 328.9M210.3 323.6L216.3 327.1M216.3 323.6L210.3 327.1" stroke="#000" stroke-width="1.4" fill="none"/>
<path d="M204.3 325.4h0M213.3 325.4h0" stroke="#000" stroke-width="2.6" stroke-linecap="round"/>
<path d="M189.5 365.8V350.5H206.5V371.7" stroke="#1e1e1e" stroke-width="1" fill="none"/>
<path d="M196.3 338.7L196.3 345.7M193.3 340.4L199.3 343.9M199.3 340.4L193.3 343.9M205.3 338.7L205.3 345.7M202.3 340.4L208.3 343.9M208.3 340.4L202.3 343.9" stroke="#000" stroke-width="1.4" fill="none"/>
<path d="M196.3 342.2h0M205.3 342.2h0" stroke="#000" stroke-width="2.6" stroke-linecap="round"/>
<path d="M247.5 365.8V334.5H280.5V371.7" stroke="#1e1e1e" stroke-width="1" fill="none"/>
<path d="M259 322.1L259 329.1M256 323.9L262 327.4M262 323.9L256 327.4M268 322.1L268 329.1M265 323.9L271 327.4M271 323.9L265 327.4M277 322.1L277 329.1M274 323.9L280 327.4M280 323.9L274 327.4" stroke="#000" stroke-width="1.4" fill="none"/>
<path d="M259 325.6h0M268 325.6h0M277 325.6h0" stroke="#000" stroke-width="2.6" stroke-linecap="round"/>
<path d="M247.5 365.8V350.5H264.5V372" stroke="#1e1e1e" stroke-width="1" fill="none"/>
<path d="M254 338.8L254 345.8M251 340.6L257 344.1M257 340.6L251 344.1M263 338.8L263 345.8M260 340.6L266 344.1M266 340.6L260 344.1" stroke="#000" stroke-width="1.4" fill="none"/>
<path d="M254 342.3h0M263 342.3h0" stroke="#000" stroke-width="2.6" stroke-linecap="round"/>
<text x="219.7" y="314" font-size="10" font-weight="bold" text-anchor="start" fill="#000" font-style="italic" textLength="34.2" lengthAdjust="spacingAndGlyphs">CCNB1</text>
<text transform="translate(166.4 428.2) rotate(-90)" font-size="11" font-weight="normal" text-anchor="start" fill="#000" textLength="104.8" lengthAdjust="spacingAndGlyphs" stroke="#000" stroke-width="0.3">Gene expression (fc)</text>
<text x="187.3" y="435" font-size="10" font-weight="bold" text-anchor="start" fill="#000" textLength="37.7" lengthAdjust="spacingAndGlyphs">SNU308</text>
<text x="241.5" y="435" font-size="10" font-weight="bold" text-anchor="start" fill="#000" textLength="46" lengthAdjust="spacingAndGlyphs">Mz-ChA-1</text>
<rect x="296.9" y="350.5" width="7.4" height="2.7" fill="#fff" stroke="#111" stroke-width="1.4"/>
<text x="310" y="353.9" font-size="10.2" font-weight="normal" text-anchor="start" fill="#1a1a1a">NTC</text>
<rect x="296.9" y="360.3" width="7.4" height="2.7" fill="#e89c42" stroke="#111" stroke-width="1.4"/>
<text x="310" y="363.7" font-size="10.2" font-weight="normal" text-anchor="start" fill="#1a1a1a">si#2</text>
<rect x="296.9" y="369.9" width="7.4" height="2.7" fill="#e0463a" stroke="#111" stroke-width="1.4"/>
<text x="310" y="373.3" font-size="10.2" font-weight="normal" text-anchor="start" fill="#1a1a1a">si#3</text>
<rect x="384.8" y="372.9" width="8.1" height="47" fill="#fff" stroke="#000" stroke-width="1.3"/>
<path d="M386.5 372.1h0M388.9 372.1h0M391.3 372.1h0" stroke="#000" stroke-width="1.7" stroke-linecap="round"/>
<rect x="400.5" y="391.1" width="8.4" height="28.9" fill="#e89c42" stroke="#000" stroke-width="1.3"/>
<path d="M404.8 389V391.4M402.6 389h4.4M402.6 391.4h4.4" stroke="#111" stroke-width="0.9" fill="none"/>
<path d="M402.6 391.4h0M404.8 389.9h0M406.9 389h0" stroke="#000" stroke-width="1.8" stroke-linecap="round"/>
<rect x="416.1" y="394.9" width="8" height="25.1" fill="#e0463a" stroke="#000" stroke-width="1.3"/>
<path d="M420.1 384.7V403.8M417.9 384.7h4.4M417.9 403.8h4.4" stroke="#111" stroke-width="0.9" fill="none"/>
<path d="M417.9 403.8h0M420.1 396.1h0M422.3 380.4h0" stroke="#000" stroke-width="1.8" stroke-linecap="round"/>
<rect x="442" y="372.9" width="8.2" height="47" fill="#fff" stroke="#000" stroke-width="1.3"/>
<path d="M443.8 372.1h0M446.1 372.1h0M448.5 372.1h0" stroke="#000" stroke-width="1.7" stroke-linecap="round"/>
<rect x="457.8" y="383.4" width="8" height="36.6" fill="#e89c42" stroke="#000" stroke-width="1.3"/>
<path d="M461.8 380.9V384.2M459.6 380.9h4.4M459.6 384.2h4.4" stroke="#111" stroke-width="0.9" fill="none"/>
<path d="M459.6 383.7h0M461.8 382.3h0M463.9 380.9h0" stroke="#000" stroke-width="1.8" stroke-linecap="round"/>
<rect x="473.3" y="382.5" width="8.4" height="37.5" fill="#e0463a" stroke="#000" stroke-width="1.3"/>
<path d="M477.5 377.1V384.7M475.3 377.1h4.4M475.3 384.7h4.4" stroke="#111" stroke-width="0.9" fill="none"/>
<path d="M475.3 384.7h0M477.5 380.9h0M479.7 376.1h0" stroke="#000" stroke-width="1.8" stroke-linecap="round"/>
<path d="M378.6 324.6V420.6" stroke="#555" stroke-width="1.3" fill="none"/>
<path d="M378 420.3H485.8" stroke="#000" stroke-width="1.3" fill="none"/>
<line x1="404.6" y1="420" x2="404.6" y2="423.5" stroke="#222" stroke-width="1.1"/>
<line x1="461.7" y1="420" x2="461.7" y2="423.5" stroke="#222" stroke-width="1.1"/>
<line x1="375.2" y1="420" x2="378.6" y2="420" stroke="#444" stroke-width="1.2"/>
<text x="375" y="423" font-size="8.5" font-weight="bold" text-anchor="end" fill="#000">0</text>
<line x1="375.2" y1="372.3" x2="378.6" y2="372.3" stroke="#444" stroke-width="1.2"/>
<text x="375" y="375.3" font-size="8.5" font-weight="bold" text-anchor="end" fill="#000">1</text>
<line x1="375.2" y1="324.6" x2="378.6" y2="324.6" stroke="#444" stroke-width="1.2"/>
<text x="375" y="327.6" font-size="8.5" font-weight="bold" text-anchor="end" fill="#000">2</text>
<path d="M388.5 366.4V334.5H419.5V379.9" stroke="#1e1e1e" stroke-width="1" fill="none"/>
<path d="M401.8 322.1L401.8 329.1M398.8 323.9L404.8 327.4M404.8 323.9L398.8 327.4M410.8 322.1L410.8 329.1M407.8 323.9L413.8 327.4M413.8 323.9L407.8 327.4" stroke="#000" stroke-width="1.4" fill="none"/>
<path d="M401.8 325.6h0M410.8 325.6h0" stroke="#000" stroke-width="2.6" stroke-linecap="round"/>
<path d="M388.5 366.4V351.5H404.5V386.4" stroke="#1e1e1e" stroke-width="1" fill="none"/>
<path d="M392.4 338.8L392.4 345.8M389.4 340.6L395.4 344.1M395.4 340.6L389.4 344.1M401.4 338.8L401.4 345.8M398.4 340.6L404.4 344.1M404.4 340.6L398.4 344.1M410.4 338.8L410.4 345.8M407.4 340.6L413.4 344.1M413.4 340.6L407.4 344.1" stroke="#000" stroke-width="1.4" fill="none"/>
<path d="M392.4 342.3h0M401.4 342.3h0M410.4 342.3h0" stroke="#000" stroke-width="2.6" stroke-linecap="round"/>
<path d="M445.5 365.8V333.5H477.5V369.8" stroke="#1e1e1e" stroke-width="1" fill="none"/>
<path d="M458.5 321.5L458.5 328.5M455.5 323.2L461.5 326.8M461.5 323.2L455.5 326.8M467.5 321.5L467.5 328.5M464.5 323.2L470.5 326.8M470.5 323.2L464.5 326.8" stroke="#000" stroke-width="1.4" fill="none"/>
<path d="M458.5 325h0M467.5 325h0" stroke="#000" stroke-width="2.6" stroke-linecap="round"/>
<path d="M445.5 365.8V350.5H461.5V377.8" stroke="#1e1e1e" stroke-width="1" fill="none"/>
<path d="M449.2 338.5L449.2 345.5M446.2 340.2L452.2 343.8M452.2 340.2L446.2 343.8M458.2 338.5L458.2 345.5M455.2 340.2L461.2 343.8M461.2 340.2L455.2 343.8M467.2 338.5L467.2 345.5M464.2 340.2L470.2 343.8M470.2 340.2L464.2 343.8" stroke="#000" stroke-width="1.4" fill="none"/>
<path d="M449.2 342h0M458.2 342h0M467.2 342h0" stroke="#000" stroke-width="2.6" stroke-linecap="round"/>
<text x="420.1" y="314.5" font-size="10" font-weight="bold" text-anchor="start" fill="#000" font-style="italic" textLength="27.6" lengthAdjust="spacingAndGlyphs">PCNA</text>
<text transform="translate(364.2 428.9) rotate(-90)" font-size="11" font-weight="normal" text-anchor="start" fill="#000" textLength="103.7" lengthAdjust="spacingAndGlyphs" stroke="#000" stroke-width="0.3">Gene expression (fc)</text>
<text x="386.5" y="435.5" font-size="10" font-weight="bold" text-anchor="start" fill="#000" textLength="37.5" lengthAdjust="spacingAndGlyphs">SNU308</text>
<text x="440" y="435.5" font-size="10" font-weight="bold" text-anchor="start" fill="#000" textLength="46" lengthAdjust="spacingAndGlyphs">Mz-ChA-1</text>
<rect x="536.2" y="372.8" width="8.4" height="46.7" fill="#fff" stroke="#000" stroke-width="1.3"/>
<path d="M538.1 371.9h0M540.5 371.9h0M542.9 371.9h0" stroke="#000" stroke-width="1.7" stroke-linecap="round"/>
<rect x="552.1" y="385.1" width="8.8" height="34.4" fill="#e89c42" stroke="#000" stroke-width="1.3"/>
<path d="M556.5 379.7V388.2M554.3 379.7h4.4M554.3 388.2h4.4" stroke="#111" stroke-width="0.9" fill="none"/>
<path d="M554.3 388.2h0M556.5 383.5h0M558.8 380.6h0" stroke="#000" stroke-width="1.8" stroke-linecap="round"/>
<rect x="567.5" y="392.2" width="8.6" height="27.3" fill="#e0463a" stroke="#000" stroke-width="1.3"/>
<path d="M571.8 389.2V393.9M569.6 389.2h4.4M569.6 393.9h4.4" stroke="#111" stroke-width="0.9" fill="none"/>
<path d="M569.6 393.4h0M571.8 391.1h0M574 387.3h0" stroke="#000" stroke-width="1.8" stroke-linecap="round"/>
<rect x="594.1" y="372.8" width="8.2" height="46.7" fill="#fff" stroke="#000" stroke-width="1.3"/>
<path d="M595.9 371.9h0M598.2 371.9h0M600.6 371.9h0" stroke="#000" stroke-width="1.7" stroke-linecap="round"/>
<rect x="610" y="386" width="8.2" height="33.5" fill="#e89c42" stroke="#000" stroke-width="1.3"/>
<path d="M614.1 383.5V386.3M611.9 383.5h4.4M611.9 386.3h4.4" stroke="#111" stroke-width="0.9" fill="none"/>
<path d="M611.9 386.3h0M614.1 384.4h0M616.4 382.5h0" stroke="#000" stroke-width="1.8" stroke-linecap="round"/>
<rect x="625.9" y="382.7" width="8.2" height="36.8" fill="#e0463a" stroke="#000" stroke-width="1.3"/>
<path d="M630 379.7V383.5M627.8 379.7h4.4M627.8 383.5h4.4" stroke="#111" stroke-width="0.9" fill="none"/>
<path d="M627.8 383h0M630 381.6h0M632.2 379.2h0" stroke="#000" stroke-width="1.8" stroke-linecap="round"/>
<path d="M529.9 324.7V420.1" stroke="#555" stroke-width="1.3" fill="none"/>
<path d="M529.3 419.8H640" stroke="#000" stroke-width="1.3" fill="none"/>
<line x1="556.5" y1="419.5" x2="556.5" y2="423" stroke="#222" stroke-width="1.1"/>
<line x1="614" y1="419.5" x2="614" y2="423" stroke="#222" stroke-width="1.1"/>
<line x1="526.5" y1="419.5" x2="529.9" y2="419.5" stroke="#444" stroke-width="1.2"/>
<text x="526.3" y="422.5" font-size="8.5" font-weight="bold" text-anchor="end" fill="#000">0</text>
<line x1="526.5" y1="372.1" x2="529.9" y2="372.1" stroke="#444" stroke-width="1.2"/>
<text x="526.3" y="375.1" font-size="8.5" font-weight="bold" text-anchor="end" fill="#000">1</text>
<line x1="526.5" y1="324.7" x2="529.9" y2="324.7" stroke="#444" stroke-width="1.2"/>
<text x="526.3" y="327.7" font-size="8.5" font-weight="bold" text-anchor="end" fill="#000">2</text>
<path d="M540.5 364.5V341.5H571.5V379.5" stroke="#1e1e1e" stroke-width="1" fill="none"/>
<path d="M547.8 331L547.8 338M544.8 332.8L550.8 336.2M550.8 332.8L544.8 336.2M556.8 331L556.8 338M553.8 332.8L559.8 336.2M559.8 332.8L553.8 336.2M565.8 331L565.8 338M562.8 332.8L568.8 336.2M568.8 332.8L562.8 336.2" stroke="#000" stroke-width="1.4" fill="none"/>
<path d="M547.8 334.5h0M556.8 334.5h0M565.8 334.5h0" stroke="#000" stroke-width="2.6" stroke-linecap="round"/>
<path d="M540.5 364.5V354.5H556.5V375.6" stroke="#1e1e1e" stroke-width="1" fill="none"/>
<path d="M548.5 345.1L548.5 352.1M545.5 346.9L551.5 350.4M551.5 346.9L545.5 350.4M557.5 345.1L557.5 352.1M554.5 346.9L560.5 350.4M560.5 346.9L554.5 350.4" stroke="#000" stroke-width="1.4" fill="none"/>
<path d="M548.5 348.6h0M557.5 348.6h0" stroke="#000" stroke-width="2.6" stroke-linecap="round"/>
<path d="M597.5 364.5V340.5H630.5V375.6" stroke="#1e1e1e" stroke-width="1" fill="none"/>
<path d="M605.8 331L605.8 338M602.8 332.8L608.8 336.2M608.8 332.8L602.8 336.2M614.8 331L614.8 338M611.8 332.8L617.8 336.2M617.8 332.8L611.8 336.2M623.8 331L623.8 338M620.8 332.8L626.8 336.2M626.8 332.8L620.8 336.2" stroke="#000" stroke-width="1.4" fill="none"/>
<path d="M605.8 334.5h0M614.8 334.5h0M623.8 334.5h0" stroke="#000" stroke-width="2.6" stroke-linecap="round"/>
<path d="M597.5 364.5V354.5H613.5V375.6" stroke="#1e1e1e" stroke-width="1" fill="none"/>
<path d="M602.8 345.1L602.8 352.1M599.8 346.9L605.8 350.4M605.8 346.9L599.8 350.4M611.8 345.1L611.8 352.1M608.8 346.9L614.8 350.4M614.8 346.9L608.8 350.4M620.8 345.1L620.8 352.1M617.8 346.9L623.8 350.4M623.8 346.9L617.8 350.4" stroke="#000" stroke-width="1.4" fill="none"/>
<path d="M602.8 348.6h0M611.8 348.6h0M620.8 348.6h0" stroke="#000" stroke-width="2.6" stroke-linecap="round"/>
<text x="572" y="314" font-size="10" font-weight="bold" text-anchor="start" fill="#000" font-style="italic" textLength="29" lengthAdjust="spacingAndGlyphs">MCM2</text>
<text transform="translate(517.8 428.2) rotate(-90)" font-size="11" font-weight="normal" text-anchor="start" fill="#000" textLength="104.8" lengthAdjust="spacingAndGlyphs" stroke="#000" stroke-width="0.3">Gene expression (fc)</text>
<text x="540.2" y="435.5" font-size="10" font-weight="bold" text-anchor="start" fill="#000" textLength="37.7" lengthAdjust="spacingAndGlyphs">SNU308</text>
<text x="595" y="435.5" font-size="10" font-weight="bold" text-anchor="start" fill="#000" textLength="46" lengthAdjust="spacingAndGlyphs">Mz-ChA-1</text>
<rect x="649.7" y="349.5" width="7.4" height="2.7" fill="#fff" stroke="#111" stroke-width="1.4"/>
<text x="662.8" y="352.9" font-size="10.2" font-weight="normal" text-anchor="start" fill="#1a1a1a">NTC</text>
<rect x="649.7" y="359.2" width="7.4" height="2.7" fill="#e89c42" stroke="#111" stroke-width="1.4"/>
<text x="662.8" y="362.6" font-size="10.2" font-weight="normal" text-anchor="start" fill="#1a1a1a">si#2</text>
<rect x="649.7" y="368.9" width="7.4" height="2.7" fill="#e0463a" stroke="#111" stroke-width="1.4"/>
<text x="662.8" y="372.3" font-size="10.2" font-weight="normal" text-anchor="start" fill="#1a1a1a">si#3</text>
<rect x="37" y="599.1" width="8.7" height="31.5" fill="#fff" stroke="#000" stroke-width="1.3"/>
<path d="M39 598.3h0M41.4 598.3h0M43.8 598.3h0" stroke="#000" stroke-width="1.7" stroke-linecap="round"/>
<rect x="53.1" y="588.6" width="8.1" height="42" fill="#e89c42" stroke="#000" stroke-width="1.3"/>
<path d="M57.2 583.4V592.1M55 583.4h4.4M55 592.1h4.4" stroke="#111" stroke-width="0.9" fill="none"/>
<path d="M55 589.5h0M57.2 586.9h0M59.4 583.1h0" stroke="#000" stroke-width="1.8" stroke-linecap="round"/>
<rect x="69.2" y="574.1" width="8" height="56.5" fill="#e0463a" stroke="#000" stroke-width="1.3"/>
<path d="M73.2 556.4V590.5M71 556.4h4.4M71 590.5h4.4" stroke="#111" stroke-width="0.9" fill="none"/>
<path d="M71 588.9h0M73.2 581.8h0M75.5 564.5h0M74 553.6h0" stroke="#000" stroke-width="1.8" stroke-linecap="round"/>
<rect x="95" y="599.1" width="8.6" height="31.5" fill="#fff" stroke="#000" stroke-width="1.3"/>
<path d="M96.8 598.3h0M99.2 598.3h0M101.7 598.3h0" stroke="#000" stroke-width="1.7" stroke-linecap="round"/>
<rect x="110.9" y="554.2" width="8.2" height="76.4" fill="#e89c42" stroke="#000" stroke-width="1.3"/>
<path d="M115 548.4V558.1M112.8 548.4h4.4M112.8 558.1h4.4" stroke="#111" stroke-width="0.9" fill="none"/>
<path d="M112.8 556.8h0M115 552.9h0M117.2 550.4h0" stroke="#000" stroke-width="1.8" stroke-linecap="round"/>
<rect x="126.7" y="563.2" width="8.3" height="67.4" fill="#e0463a" stroke="#000" stroke-width="1.3"/>
<path d="M130.8 545.2V579.2M128.6 545.2h4.4M128.6 579.2h4.4" stroke="#111" stroke-width="0.9" fill="none"/>
<path d="M128.6 578.6h0M130.8 561.6h0M133 547.1h0" stroke="#000" stroke-width="1.8" stroke-linecap="round"/>
<path d="M30.3 534.3V631.2" stroke="#555" stroke-width="1.3" fill="none"/>
<path d="M29.7 630.9H141" stroke="#000" stroke-width="1.3" fill="none"/>
<line x1="57.3" y1="630.6" x2="57.3" y2="634.1" stroke="#222" stroke-width="1.1"/>
<line x1="115" y1="630.6" x2="115" y2="634.1" stroke="#222" stroke-width="1.1"/>
<line x1="26.9" y1="630.6" x2="30.3" y2="630.6" stroke="#444" stroke-width="1.2"/>
<text x="26.7" y="633.6" font-size="8.5" font-weight="bold" text-anchor="end" fill="#000">0</text>
<line x1="26.9" y1="598.5" x2="30.3" y2="598.5" stroke="#444" stroke-width="1.2"/>
<text x="26.7" y="601.5" font-size="8.5" font-weight="bold" text-anchor="end" fill="#000">1</text>
<line x1="26.9" y1="566.4" x2="30.3" y2="566.4" stroke="#444" stroke-width="1.2"/>
<text x="26.7" y="569.4" font-size="8.5" font-weight="bold" text-anchor="end" fill="#000">2</text>
<line x1="26.9" y1="534.3" x2="30.3" y2="534.3" stroke="#444" stroke-width="1.2"/>
<text x="26.7" y="537.3" font-size="8.5" font-weight="bold" text-anchor="end" fill="#000">3</text>
<path d="M41.5 587.3V543.5H72.5V550.5" stroke="#1e1e1e" stroke-width="1" fill="none"/>
<path d="M60.3 534.7L60.3 541.7M57.3 536.5L63.3 540M63.3 536.5L57.3 540" stroke="#000" stroke-width="1.4" fill="none"/>
<path d="M60.3 538.2h0" stroke="#000" stroke-width="2.6" stroke-linecap="round"/>
<path d="M41.5 587.3V560.5H57.5V575.9" stroke="#1e1e1e" stroke-width="1" fill="none"/>
<path d="M46.5 551.5L46.5 558.5M43.5 553.2L49.5 556.8M49.5 553.2L43.5 556.8M55.5 551.5L55.5 558.5M52.5 553.2L58.5 556.8M58.5 553.2L52.5 556.8M64.5 551.5L64.5 558.5M61.5 553.2L67.5 556.8M67.5 553.2L61.5 556.8" stroke="#000" stroke-width="1.4" fill="none"/>
<path d="M46.5 555h0M55.5 555h0M64.5 555h0" stroke="#000" stroke-width="2.6" stroke-linecap="round"/>
<path d="M98.5 586.4V529.5H130.5V537.8" stroke="#1e1e1e" stroke-width="1" fill="none"/>
<path d="M117.8 519.6L117.8 526.6M114.8 521.4L120.8 524.9M120.8 521.4L114.8 524.9" stroke="#000" stroke-width="1.4" fill="none"/>
<path d="M117.8 523.1h0" stroke="#000" stroke-width="2.6" stroke-linecap="round"/>
<path d="M98.5 586.4V543.5H114.5V547.6" stroke="#1e1e1e" stroke-width="1" fill="none"/>
<path d="M104.1 533.2L104.1 540.2M101.1 535L107.1 538.5M107.1 535L101.1 538.5M113.1 533.2L113.1 540.2M110.1 535L116.1 538.5M116.1 535L110.1 538.5M122.1 533.2L122.1 540.2M119.1 535L125.1 538.5M125.1 535L119.1 538.5" stroke="#000" stroke-width="1.4" fill="none"/>
<path d="M104.1 536.7h0M113.1 536.7h0M122.1 536.7h0" stroke="#000" stroke-width="2.6" stroke-linecap="round"/>
<text x="72" y="512" font-size="10" font-weight="bold" text-anchor="start" fill="#000" font-style="italic" textLength="30.3" lengthAdjust="spacingAndGlyphs">ICAM1</text>
<text transform="translate(13.6 631.6) rotate(-90)" font-size="11" font-weight="normal" text-anchor="start" fill="#000" textLength="100.3" lengthAdjust="spacingAndGlyphs" stroke="#000" stroke-width="0.3">Gene expression (fc)</text>
<text x="37.2" y="642.8" font-size="10" font-weight="bold" text-anchor="start" fill="#000" textLength="36.5" lengthAdjust="spacingAndGlyphs">SNU308</text>
<text x="92.3" y="642.8" font-size="10" font-weight="bold" text-anchor="start" fill="#000" textLength="44" lengthAdjust="spacingAndGlyphs">Mz-ChA-1</text>
<rect x="186.8" y="614.5" width="9" height="15.5" fill="#fff" stroke="#000" stroke-width="1.3"/>
<path d="M188.8 613.7h0M191.2 613.7h0M193.7 613.7h0" stroke="#000" stroke-width="1.7" stroke-linecap="round"/>
<rect x="203.1" y="603.2" width="9" height="26.8" fill="#e89c42" stroke="#000" stroke-width="1.3"/>
<path d="M207.6 594.5V610.6M205.4 594.5h4.4M205.4 610.6h4.4" stroke="#111" stroke-width="0.9" fill="none"/>
<path d="M205.4 609h0M207.6 604.2h0M209.8 594.5h0" stroke="#000" stroke-width="1.8" stroke-linecap="round"/>
<rect x="219.1" y="573.7" width="8.7" height="56.3" fill="#e0463a" stroke="#000" stroke-width="1.3"/>
<path d="M223.4 546.1V600M221.2 546.1h4.4M221.2 600h4.4" stroke="#111" stroke-width="0.9" fill="none"/>
<path d="M221.2 599.4h0M223.4 589.7h0M225.6 554.2h0M224.2 546.1h0" stroke="#000" stroke-width="1.8" stroke-linecap="round"/>
<rect x="245.2" y="614.5" width="8.7" height="15.5" fill="#fff" stroke="#000" stroke-width="1.3"/>
<path d="M247.2 613.7h0M249.6 613.7h0M252 613.7h0" stroke="#000" stroke-width="1.7" stroke-linecap="round"/>
<rect x="261.2" y="603.1" width="8.8" height="26.9" fill="#e89c42" stroke="#000" stroke-width="1.3"/>
<path d="M265.6 597.7V607.4M263.4 597.7h4.4M263.4 607.4h4.4" stroke="#111" stroke-width="0.9" fill="none"/>
<path d="M263.4 607.4h0M265.6 601h0M267.8 597.7h0" stroke="#000" stroke-width="1.8" stroke-linecap="round"/>
<rect x="277.2" y="585.5" width="8.6" height="44.5" fill="#e0463a" stroke="#000" stroke-width="1.3"/>
<path d="M281.6 569.5V600M279.4 569.5h4.4M279.4 600h4.4" stroke="#111" stroke-width="0.9" fill="none"/>
<path d="M279.4 599.4h0M281.6 580h0M283.8 570.3h0" stroke="#000" stroke-width="1.8" stroke-linecap="round"/>
<path d="M181.3 533.2V630.6" stroke="#555" stroke-width="1.3" fill="none"/>
<path d="M180.7 630.3H292.3" stroke="#000" stroke-width="1.3" fill="none"/>
<line x1="207.5" y1="630" x2="207.5" y2="633.5" stroke="#222" stroke-width="1.1"/>
<line x1="265.6" y1="630" x2="265.6" y2="633.5" stroke="#222" stroke-width="1.1"/>
<line x1="177.9" y1="630" x2="181.3" y2="630" stroke="#444" stroke-width="1.2"/>
<text x="177.7" y="633" font-size="8.5" font-weight="bold" text-anchor="end" fill="#000">0</text>
<line x1="177.9" y1="613.9" x2="181.3" y2="613.9" stroke="#444" stroke-width="1.2"/>
<text x="177.7" y="616.9" font-size="8.5" font-weight="bold" text-anchor="end" fill="#000">1</text>
<line x1="177.9" y1="597.7" x2="181.3" y2="597.7" stroke="#444" stroke-width="1.2"/>
<text x="177.7" y="600.7" font-size="8.5" font-weight="bold" text-anchor="end" fill="#000">2</text>
<line x1="177.9" y1="581.6" x2="181.3" y2="581.6" stroke="#444" stroke-width="1.2"/>
<text x="177.7" y="584.6" font-size="8.5" font-weight="bold" text-anchor="end" fill="#000">3</text>
<line x1="177.9" y1="565.5" x2="181.3" y2="565.5" stroke="#444" stroke-width="1.2"/>
<text x="177.7" y="568.5" font-size="8.5" font-weight="bold" text-anchor="end" fill="#000">4</text>
<line x1="177.9" y1="549.4" x2="181.3" y2="549.4" stroke="#444" stroke-width="1.2"/>
<text x="177.7" y="552.4" font-size="8.5" font-weight="bold" text-anchor="end" fill="#000">5</text>
<line x1="177.9" y1="533.2" x2="181.3" y2="533.2" stroke="#444" stroke-width="1.2"/>
<text x="177.7" y="536.2" font-size="8.5" font-weight="bold" text-anchor="end" fill="#000">6</text>
<path d="M192.5 608.3V535.5H222.5V540.4" stroke="#1e1e1e" stroke-width="1" fill="none"/>
<path d="M207.2 523.4L207.2 530.4M204.2 525.1L210.2 528.6M210.2 525.1L204.2 528.6" stroke="#000" stroke-width="1.4" fill="none"/>
<path d="M207.2 526.9h0" stroke="#000" stroke-width="2.6" stroke-linecap="round"/>
<path d="M192.5 608.3V581.5H207.5V587.7" stroke="#1e1e1e" stroke-width="1" fill="none"/>
<path d="M201.2 570L201.2 577M198.2 571.8L204.2 575.2M204.2 571.8L198.2 575.2" stroke="#000" stroke-width="1.4" fill="none"/>
<path d="M201.2 573.5h0" stroke="#000" stroke-width="2.6" stroke-linecap="round"/>
<path d="M249.5 608.3V554.5H281.5V563.5" stroke="#1e1e1e" stroke-width="1" fill="none"/>
<path d="M262.7 541.9L262.7 548.9M259.7 543.6L265.7 547.1M265.7 543.6L259.7 547.1M271.7 541.9L271.7 548.9M268.7 543.6L274.7 547.1M274.7 543.6L268.7 547.1" stroke="#000" stroke-width="1.4" fill="none"/>
<path d="M262.7 545.4h0M271.7 545.4h0" stroke="#000" stroke-width="2.6" stroke-linecap="round"/>
<path d="M249.5 608.3V581.5H265.5V591.6" stroke="#1e1e1e" stroke-width="1" fill="none"/>
<path d="M258.7 569.8L258.7 576.8M255.7 571.5L261.7 575M261.7 571.5L255.7 575" stroke="#000" stroke-width="1.4" fill="none"/>
<path d="M258.7 573.3h0" stroke="#000" stroke-width="2.6" stroke-linecap="round"/>
<text x="224.6" y="514" font-size="10" font-weight="bold" text-anchor="start" fill="#000" font-style="italic" textLength="25.6" lengthAdjust="spacingAndGlyphs">DLC1</text>
<text transform="translate(164.5 633.8) rotate(-90)" font-size="11" font-weight="normal" text-anchor="start" fill="#000" textLength="101.1" lengthAdjust="spacingAndGlyphs" stroke="#000" stroke-width="0.3">Gene expression (fc)</text>
<text x="188.8" y="644.3" font-size="10" font-weight="bold" text-anchor="start" fill="#000" textLength="37" lengthAdjust="spacingAndGlyphs">SNU308</text>
<text x="244.2" y="644.3" font-size="10" font-weight="bold" text-anchor="start" fill="#000" textLength="44.2" lengthAdjust="spacingAndGlyphs">Mz-ChA-1</text>
<rect x="296.9" y="557" width="7.4" height="2.7" fill="#fff" stroke="#111" stroke-width="1.4"/>
<text x="310" y="560.4" font-size="10.2" font-weight="normal" text-anchor="start" fill="#1a1a1a">NTC</text>
<rect x="296.9" y="566.8" width="7.4" height="2.7" fill="#e89c42" stroke="#111" stroke-width="1.4"/>
<text x="310" y="570.1" font-size="10.2" font-weight="normal" text-anchor="start" fill="#1a1a1a">si#2</text>
<rect x="296.9" y="576.4" width="7.4" height="2.7" fill="#e0463a" stroke="#111" stroke-width="1.4"/>
<text x="310" y="579.7" font-size="10.2" font-weight="normal" text-anchor="start" fill="#1a1a1a">si#3</text>
<rect x="34.8" y="762.5" width="8.2" height="46.2" fill="#fff" stroke="#000" stroke-width="1.3"/>
<path d="M36.5 761.7h0M38.9 761.7h0M41.2 761.7h0" stroke="#000" stroke-width="1.7" stroke-linecap="round"/>
<rect x="50.8" y="780.4" width="8.3" height="28.4" fill="#e88b2c" stroke="#000" stroke-width="1.3"/>
<path d="M54.9 771.3V787.2M52.7 771.3h4.4M52.7 787.2h4.4" stroke="#111" stroke-width="0.9" fill="none"/>
<path d="M52.7 785.3h0M54.9 779.7h0M57.1 771.3h0" stroke="#000" stroke-width="1.8" stroke-linecap="round"/>
<rect x="66.5" y="776.6" width="8.4" height="32.2" fill="#e0483c" stroke="#000" stroke-width="1.3"/>
<path d="M70.7 768.5V783M68.5 768.5h4.4M68.5 783h4.4" stroke="#111" stroke-width="0.9" fill="none"/>
<path d="M68.5 782.5h0M70.7 775h0M72.9 768.5h0" stroke="#000" stroke-width="1.8" stroke-linecap="round"/>
<rect x="93" y="762.5" width="8.3" height="46.2" fill="#fff" stroke="#000" stroke-width="1.3"/>
<path d="M94.7 761.7h0M97.1 761.7h0M99.5 761.7h0" stroke="#000" stroke-width="1.7" stroke-linecap="round"/>
<rect x="108.8" y="783.7" width="8.5" height="25.1" fill="#e88b2c" stroke="#000" stroke-width="1.3"/>
<path d="M113 777.4V787.7M110.8 777.4h4.4M110.8 787.7h4.4" stroke="#111" stroke-width="0.9" fill="none"/>
<path d="M110.8 786.8h0M113 782.5h0M115.2 776.9h0" stroke="#000" stroke-width="1.8" stroke-linecap="round"/>
<rect x="125" y="780.8" width="8.2" height="28" fill="#e0483c" stroke="#000" stroke-width="1.3"/>
<path d="M129.1 774.1V784.4M126.9 774.1h4.4M126.9 784.4h4.4" stroke="#111" stroke-width="0.9" fill="none"/>
<path d="M126.9 783.9h0M129.1 779.3h0M131.2 774.6h0" stroke="#000" stroke-width="1.8" stroke-linecap="round"/>
<path d="M29.3 715V809.4" stroke="#555" stroke-width="1.3" fill="none"/>
<path d="M28.7 809.1H139" stroke="#000" stroke-width="1.3" fill="none"/>
<line x1="54.9" y1="808.8" x2="54.9" y2="812.3" stroke="#222" stroke-width="1.1"/>
<line x1="113" y1="808.8" x2="113" y2="812.3" stroke="#222" stroke-width="1.1"/>
<line x1="25.9" y1="808.8" x2="29.3" y2="808.8" stroke="#444" stroke-width="1.2"/>
<text x="25.7" y="811.8" font-size="8.5" font-weight="bold" text-anchor="end" fill="#000">0</text>
<line x1="25.9" y1="761.9" x2="29.3" y2="761.9" stroke="#444" stroke-width="1.2"/>
<text x="25.7" y="764.9" font-size="8.5" font-weight="bold" text-anchor="end" fill="#000">1</text>
<line x1="25.9" y1="715" x2="29.3" y2="715" stroke="#444" stroke-width="1.2"/>
<text x="25.7" y="718" font-size="8.5" font-weight="bold" text-anchor="end" fill="#000">2</text>
<path d="M38.5 734.9V726.5H70.5V765.8" stroke="#1e1e1e" stroke-width="1" fill="none"/>
<path d="M54.5 716.4L54.5 723.4M51.5 718.1L57.5 721.6M57.5 718.1L51.5 721.6" stroke="#000" stroke-width="1.4" fill="none"/>
<path d="M54.5 719.9h0" stroke="#000" stroke-width="2.6" stroke-linecap="round"/>
<path d="M38.5 757.5V741.5H55.5V765.2" stroke="#1e1e1e" stroke-width="1" fill="none"/>
<path d="M44.8 731.4L44.8 738.4M41.8 733.1L47.8 736.6M47.8 733.1L41.8 736.6M53.8 731.4L53.8 738.4M50.8 733.1L56.8 736.6M56.8 733.1L50.8 736.6" stroke="#000" stroke-width="1.4" fill="none"/>
<path d="M44.8 734.9h0M53.8 734.9h0" stroke="#000" stroke-width="2.6" stroke-linecap="round"/>
<path d="M97.5 734.4V726.5H128.5V766.6" stroke="#1e1e1e" stroke-width="1" fill="none"/>
<path d="M106 717.5L106 724.5M103 719.2L109 722.8M109 719.2L103 722.8M115 717.5L115 724.5M112 719.2L118 722.8M118 719.2L112 722.8" stroke="#000" stroke-width="1.4" fill="none"/>
<path d="M106 721h0M115 721h0" stroke="#000" stroke-width="2.6" stroke-linecap="round"/>
<path d="M97.5 758V741.5H113.5V765.8" stroke="#1e1e1e" stroke-width="1" fill="none"/>
<path d="M104.3 733.6L104.3 740.6M101.3 735.4L107.3 738.9M107.3 735.4L101.3 738.9M113.3 733.6L113.3 740.6M110.3 735.4L116.3 738.9M116.3 735.4L110.3 738.9" stroke="#000" stroke-width="1.4" fill="none"/>
<path d="M104.3 737.1h0M113.3 737.1h0" stroke="#000" stroke-width="2.6" stroke-linecap="round"/>
<text x="69" y="702.6" font-size="10" font-weight="bold" text-anchor="start" fill="#000" textLength="25.8" lengthAdjust="spacingAndGlyphs">pAKT</text>
<text transform="translate(13.4 817.7) rotate(-90)" font-size="11" font-weight="normal" text-anchor="start" fill="#000" textLength="111.2" lengthAdjust="spacingAndGlyphs" stroke="#000" stroke-width="0.3">Protein expression (fc)</text>
<text x="34.5" y="822" font-size="10" font-weight="bold" text-anchor="start" fill="#000" textLength="38" lengthAdjust="spacingAndGlyphs">SNU308</text>
<text x="87" y="822" font-size="10" font-weight="bold" text-anchor="start" fill="#000" textLength="46" lengthAdjust="spacingAndGlyphs">Mz-ChA-1</text>
<rect x="185.5" y="762.6" width="8.7" height="46.3" fill="#fff" stroke="#000" stroke-width="1.3"/>
<path d="M187.4 761.7h0M189.8 761.7h0M192.2 761.7h0" stroke="#000" stroke-width="1.7" stroke-linecap="round"/>
<rect x="200.8" y="763.1" width="8.6" height="45.8" fill="#e88b2c" stroke="#000" stroke-width="1.3"/>
<path d="M205.1 754.9V769M202.9 754.9h4.4M202.9 769h4.4" stroke="#111" stroke-width="0.9" fill="none"/>
<path d="M202.9 787.8h0M205.1 759.6h0M207.2 747.9h0" stroke="#000" stroke-width="1.8" stroke-linecap="round"/>
<rect x="216.3" y="753.7" width="8.8" height="55.2" fill="#e0483c" stroke="#000" stroke-width="1.3"/>
<path d="M220.8 742.2V762.9M218.6 742.2h4.4M218.6 762.9h4.4" stroke="#111" stroke-width="0.9" fill="none"/>
<path d="M218.6 785.4h0M220.8 743.2h0M222.9 740.8h0" stroke="#000" stroke-width="1.8" stroke-linecap="round"/>
<rect x="242" y="762.6" width="8.5" height="46.3" fill="#fff" stroke="#000" stroke-width="1.3"/>
<path d="M243.8 761.7h0M246.2 761.7h0M248.6 761.7h0" stroke="#000" stroke-width="1.7" stroke-linecap="round"/>
<rect x="257.8" y="760.3" width="8.3" height="48.6" fill="#e88b2c" stroke="#000" stroke-width="1.3"/>
<path d="M261.9 747.4V771.3M259.7 747.4h4.4M259.7 771.3h4.4" stroke="#111" stroke-width="0.9" fill="none"/>
<path d="M259.7 769h0M261.9 761.9h0M264.1 735.2h0" stroke="#000" stroke-width="1.8" stroke-linecap="round"/>
<rect x="272.9" y="766.4" width="8.7" height="42.5" fill="#e0483c" stroke="#000" stroke-width="1.3"/>
<path d="M277.3 760.1V770.4M275.1 760.1h4.4M275.1 770.4h4.4" stroke="#111" stroke-width="0.9" fill="none"/>
<path d="M275.1 770.4h0M277.3 764.3h0M279.5 756.3h0" stroke="#000" stroke-width="1.8" stroke-linecap="round"/>
<path d="M178.5 715V809.5" stroke="#555" stroke-width="1.3" fill="none"/>
<path d="M177.9 809.2H288.6" stroke="#000" stroke-width="1.3" fill="none"/>
<line x1="205" y1="808.9" x2="205" y2="812.4" stroke="#222" stroke-width="1.1"/>
<line x1="262" y1="808.9" x2="262" y2="812.4" stroke="#222" stroke-width="1.1"/>
<line x1="175.1" y1="808.9" x2="178.5" y2="808.9" stroke="#444" stroke-width="1.2"/>
<text x="174.9" y="811.9" font-size="8.5" font-weight="bold" text-anchor="end" fill="#000">0</text>
<line x1="175.1" y1="761.9" x2="178.5" y2="761.9" stroke="#444" stroke-width="1.2"/>
<text x="174.9" y="764.9" font-size="8.5" font-weight="bold" text-anchor="end" fill="#000">1</text>
<line x1="175.1" y1="715" x2="178.5" y2="715" stroke="#444" stroke-width="1.2"/>
<text x="174.9" y="718" font-size="8.5" font-weight="bold" text-anchor="end" fill="#000">2</text>
<path d="M189.5 757V719.5H220.5V734.5" stroke="#1e1e1e" stroke-width="1" fill="none"/>
<text x="205.4" y="716.5" font-size="11" font-weight="normal" text-anchor="middle" fill="#111">ns</text>
<path d="M189.5 757V739.5H204.5V742.6" stroke="#1e1e1e" stroke-width="1" fill="none"/>
<text x="198" y="737.7" font-size="11" font-weight="normal" text-anchor="middle" fill="#111">ns</text>
<path d="M245.5 757V719.5H277.5V755.4" stroke="#1e1e1e" stroke-width="1" fill="none"/>
<text x="261.1" y="716.5" font-size="11" font-weight="normal" text-anchor="middle" fill="#111">ns</text>
<path d="M245.5 757V729.5H261.5V731.3" stroke="#1e1e1e" stroke-width="1" fill="none"/>
<text x="254.2" y="728.6" font-size="11" font-weight="normal" text-anchor="middle" fill="#111">ns</text>
<text x="224.6" y="702.2" font-size="10" font-weight="bold" text-anchor="start" fill="#000" textLength="20.8" lengthAdjust="spacingAndGlyphs">AKT</text>
<text transform="translate(164.9 817.7) rotate(-90)" font-size="11" font-weight="normal" text-anchor="start" fill="#000" textLength="111.2" lengthAdjust="spacingAndGlyphs" stroke="#000" stroke-width="0.3">Protein expression (fc)</text>
<text x="186" y="822.6" font-size="10" font-weight="bold" text-anchor="start" fill="#000" textLength="38" lengthAdjust="spacingAndGlyphs">SNU308</text>
<text x="238.5" y="822.6" font-size="10" font-weight="bold" text-anchor="start" fill="#000" textLength="46" lengthAdjust="spacingAndGlyphs">Mz-ChA-1</text>
<rect x="296.9" y="728.4" width="7.4" height="2.7" fill="#fff" stroke="#111" stroke-width="1.4"/>
<text x="310" y="731.8" font-size="10.2" font-weight="normal" text-anchor="start" fill="#1a1a1a">NTC</text>
<rect x="296.9" y="738" width="7.4" height="2.7" fill="#e88b2c" stroke="#111" stroke-width="1.4"/>
<text x="310" y="741.4" font-size="10.2" font-weight="normal" text-anchor="start" fill="#1a1a1a">si#2</text>
<rect x="296.9" y="747.6" width="7.4" height="2.7" fill="#e0483c" stroke="#111" stroke-width="1.4"/>
<text x="310" y="751" font-size="10.2" font-weight="normal" text-anchor="start" fill="#1a1a1a">si#3</text>
<rect x="390.4" y="762.2" width="8.8" height="46.7" fill="#fff" stroke="#000" stroke-width="1.3"/>
<path d="M392.5 761.4h0M394.9 761.4h0M397.2 761.4h0" stroke="#000" stroke-width="1.7" stroke-linecap="round"/>
<rect x="406" y="787.8" width="8.8" height="21.2" fill="#e88b2c" stroke="#000" stroke-width="1.3"/>
<path d="M410.4 782.5V791M408.2 782.5h4.4M408.2 791h4.4" stroke="#111" stroke-width="0.9" fill="none"/>
<path d="M408.2 791h0M410.4 786.2h0M412.6 781.5h0" stroke="#000" stroke-width="1.8" stroke-linecap="round"/>
<rect x="421.8" y="776" width="9.2" height="33" fill="#e0483c" stroke="#000" stroke-width="1.3"/>
<path d="M426.4 758.8V791M424.2 758.8h4.4M424.2 791h4.4" stroke="#111" stroke-width="0.9" fill="none"/>
<path d="M424.2 806.6h0M426.4 766.3h0M428.6 764h0" stroke="#000" stroke-width="1.8" stroke-linecap="round"/>
<rect x="448.2" y="762.2" width="8.7" height="46.7" fill="#fff" stroke="#000" stroke-width="1.3"/>
<path d="M450.2 761.4h0M452.6 761.4h0M455 761.4h0" stroke="#000" stroke-width="1.7" stroke-linecap="round"/>
<rect x="464.3" y="792.1" width="8.3" height="16.9" fill="#e88b2c" stroke="#000" stroke-width="1.3"/>
<path d="M468.5 790V791.9M466.3 790h4.4M466.3 791.9h4.4" stroke="#111" stroke-width="0.9" fill="none"/>
<path d="M466.3 791.5h0M468.5 790.5h0M470.7 789.6h0" stroke="#000" stroke-width="1.8" stroke-linecap="round"/>
<rect x="480" y="787.4" width="8.7" height="21.6" fill="#e0483c" stroke="#000" stroke-width="1.3"/>
<path d="M484.4 779.6V792.9M482.2 779.6h4.4M482.2 792.9h4.4" stroke="#111" stroke-width="0.9" fill="none"/>
<path d="M482.2 791.9h0M484.4 785.3h0M486.6 780.6h0" stroke="#000" stroke-width="1.8" stroke-linecap="round"/>
<path d="M384.1 714.2V809.6" stroke="#555" stroke-width="1.3" fill="none"/>
<path d="M383.5 809.3H493" stroke="#000" stroke-width="1.3" fill="none"/>
<line x1="410.5" y1="809" x2="410.5" y2="812.5" stroke="#222" stroke-width="1.1"/>
<line x1="468.5" y1="809" x2="468.5" y2="812.5" stroke="#222" stroke-width="1.1"/>
<line x1="380.7" y1="809" x2="384.1" y2="809" stroke="#444" stroke-width="1.2"/>
<text x="380.5" y="812" font-size="8.5" font-weight="bold" text-anchor="end" fill="#000">0</text>
<line x1="380.7" y1="761.6" x2="384.1" y2="761.6" stroke="#444" stroke-width="1.2"/>
<text x="380.5" y="764.6" font-size="8.5" font-weight="bold" text-anchor="end" fill="#000">1</text>
<line x1="380.7" y1="714.2" x2="384.1" y2="714.2" stroke="#444" stroke-width="1.2"/>
<text x="380.5" y="717.2" font-size="8.5" font-weight="bold" text-anchor="end" fill="#000">2</text>
<path d="M393.5 750.6V720.5H426.5V757" stroke="#1e1e1e" stroke-width="1" fill="none"/>
<text x="411.5" y="716.9" font-size="11" font-weight="normal" text-anchor="middle" fill="#111">ns</text>
<path d="M393.5 750.6V746.5H410.5V775.2" stroke="#1e1e1e" stroke-width="1" fill="none"/>
<path d="M399.8 737.5L399.8 744.5M396.8 739.2L402.8 742.8M402.8 739.2L396.8 742.8M408.8 737.5L408.8 744.5M405.8 739.2L411.8 742.8M411.8 739.2L405.8 742.8M417.8 737.5L417.8 744.5M414.8 739.2L420.8 742.8M420.8 739.2L414.8 742.8" stroke="#000" stroke-width="1.4" fill="none"/>
<path d="M399.8 741h0M408.8 741h0M417.8 741h0" stroke="#000" stroke-width="2.6" stroke-linecap="round"/>
<path d="M451.5 748.2V720.5H483.5V773.1" stroke="#1e1e1e" stroke-width="1" fill="none"/>
<path d="M462.5 711.8L462.5 718.8M459.5 713.5L465.5 717M465.5 713.5L459.5 717M471.5 711.8L471.5 718.8M468.5 713.5L474.5 717M474.5 713.5L468.5 717" stroke="#000" stroke-width="1.4" fill="none"/>
<path d="M462.5 715.3h0M471.5 715.3h0" stroke="#000" stroke-width="2.6" stroke-linecap="round"/>
<path d="M451.5 748.2V746.5H467.5V780.3" stroke="#1e1e1e" stroke-width="1" fill="none"/>
<path d="M457.3 737.5L457.3 744.5M454.3 739.2L460.3 742.8M460.3 739.2L454.3 742.8M466.3 737.5L466.3 744.5M463.3 739.2L469.3 742.8M469.3 739.2L463.3 742.8M475.3 737.5L475.3 744.5M472.3 739.2L478.3 742.8M478.3 739.2L472.3 742.8" stroke="#000" stroke-width="1.4" fill="none"/>
<path d="M457.3 741h0M466.3 741h0M475.3 741h0" stroke="#000" stroke-width="2.6" stroke-linecap="round"/>
<text x="423.6" y="701.2" font-size="10" font-weight="bold" text-anchor="start" fill="#000" textLength="27.3" lengthAdjust="spacingAndGlyphs">pERK</text>
<text transform="translate(369.3 817.3) rotate(-90)" font-size="11" font-weight="normal" text-anchor="start" fill="#000" textLength="108.9" lengthAdjust="spacingAndGlyphs" stroke="#000" stroke-width="0.3">Protein expression (fc)</text>
<text x="389.7" y="822.6" font-size="10" font-weight="bold" text-anchor="start" fill="#000" textLength="38.5" lengthAdjust="spacingAndGlyphs">SNU308</text>
<text x="443.4" y="822.6" font-size="10" font-weight="bold" text-anchor="start" fill="#000" textLength="46" lengthAdjust="spacingAndGlyphs">Mz-ChA-1</text>
<rect x="541.2" y="763.1" width="8.4" height="45.7" fill="#fff" stroke="#000" stroke-width="1.3"/>
<path d="M543.1 762.3h0M545.5 762.3h0M547.9 762.3h0" stroke="#000" stroke-width="1.7" stroke-linecap="round"/>
<rect x="556.2" y="765.5" width="8.6" height="43.4" fill="#e88b2c" stroke="#000" stroke-width="1.3"/>
<path d="M560.5 755.1V773.6M558.3 755.1h4.4M558.3 773.6h4.4" stroke="#111" stroke-width="0.9" fill="none"/>
<path d="M558.3 785.7h0M560.5 763.4h0M562.8 741.6h0" stroke="#000" stroke-width="1.8" stroke-linecap="round"/>
<rect x="571.8" y="768.3" width="8.9" height="40.6" fill="#e0483c" stroke="#000" stroke-width="1.3"/>
<path d="M576.2 757.9V776.4M574 757.9h4.4M574 776.4h4.4" stroke="#111" stroke-width="0.9" fill="none"/>
<path d="M574 792.7h0M576.2 762.5h0M578.4 750.9h0" stroke="#000" stroke-width="1.8" stroke-linecap="round"/>
<rect x="597.4" y="763.1" width="8.4" height="45.7" fill="#fff" stroke="#000" stroke-width="1.3"/>
<path d="M599.2 762.3h0M601.6 762.3h0M604 762.3h0" stroke="#000" stroke-width="1.7" stroke-linecap="round"/>
<rect x="613" y="765.5" width="8.8" height="43.4" fill="#e88b2c" stroke="#000" stroke-width="1.3"/>
<path d="M617.5 762.5V765.7M615.2 762.5h4.4M615.2 765.7h4.4" stroke="#111" stroke-width="0.9" fill="none"/>
<path d="M615.2 765.3h0M617.5 763.9h0M619.7 761.6h0" stroke="#000" stroke-width="1.8" stroke-linecap="round"/>
<rect x="628.4" y="761.3" width="8.7" height="47.6" fill="#e0483c" stroke="#000" stroke-width="1.3"/>
<path d="M632.8 753.2V767.1M630.6 753.2h4.4M630.6 767.1h4.4" stroke="#111" stroke-width="0.9" fill="none"/>
<path d="M630.6 776.4h0M632.8 760.2h0M635 752.3h0" stroke="#000" stroke-width="1.8" stroke-linecap="round"/>
<path d="M533.6 716.1V809.5" stroke="#555" stroke-width="1.3" fill="none"/>
<path d="M533 809.2H643.7" stroke="#000" stroke-width="1.3" fill="none"/>
<line x1="560.5" y1="808.9" x2="560.5" y2="812.4" stroke="#222" stroke-width="1.1"/>
<line x1="617.5" y1="808.9" x2="617.5" y2="812.4" stroke="#222" stroke-width="1.1"/>
<line x1="530.2" y1="808.9" x2="533.6" y2="808.9" stroke="#444" stroke-width="1.2"/>
<text x="530" y="811.9" font-size="8.5" font-weight="bold" text-anchor="end" fill="#000">0</text>
<line x1="530.2" y1="762.5" x2="533.6" y2="762.5" stroke="#444" stroke-width="1.2"/>
<text x="530" y="765.5" font-size="8.5" font-weight="bold" text-anchor="end" fill="#000">1</text>
<line x1="530.2" y1="716.1" x2="533.6" y2="716.1" stroke="#444" stroke-width="1.2"/>
<text x="530" y="719.1" font-size="8.5" font-weight="bold" text-anchor="end" fill="#000">2</text>
<path d="M544.5 756.2V716.5H575.5V743.7" stroke="#1e1e1e" stroke-width="1" fill="none"/>
<text x="559.1" y="714.5" font-size="11" font-weight="normal" text-anchor="middle" fill="#111">ns</text>
<path d="M544.5 756.2V728.5H560.5V734.5" stroke="#1e1e1e" stroke-width="1" fill="none"/>
<text x="553" y="727.6" font-size="11" font-weight="normal" text-anchor="middle" fill="#111">ns</text>
<path d="M601.5 756.2V716.5H632.5V743.4" stroke="#1e1e1e" stroke-width="1" fill="none"/>
<text x="616.1" y="714.5" font-size="11" font-weight="normal" text-anchor="middle" fill="#111">ns</text>
<path d="M601.5 756.2V728.5H617.5V756.2" stroke="#1e1e1e" stroke-width="1" fill="none"/>
<text x="610.2" y="727.6" font-size="11" font-weight="normal" text-anchor="middle" fill="#111">ns</text>
<text x="577.7" y="701.6" font-size="10" font-weight="bold" text-anchor="start" fill="#000" textLength="21.3" lengthAdjust="spacingAndGlyphs">ERK</text>
<text transform="translate(520.4 817.7) rotate(-90)" font-size="11" font-weight="normal" text-anchor="start" fill="#000" textLength="110.7" lengthAdjust="spacingAndGlyphs" stroke="#000" stroke-width="0.3">Protein expression (fc)</text>
<text x="541" y="822.6" font-size="10" font-weight="bold" text-anchor="start" fill="#000" textLength="38" lengthAdjust="spacingAndGlyphs">SNU308</text>
<text x="594" y="822.6" font-size="10" font-weight="bold" text-anchor="start" fill="#000" textLength="46" lengthAdjust="spacingAndGlyphs">Mz-ChA-1</text>
<rect x="648.5" y="728.4" width="7.4" height="2.7" fill="#fff" stroke="#111" stroke-width="1.4"/>
<text x="661.6" y="731.7" font-size="10.2" font-weight="normal" text-anchor="start" fill="#1a1a1a">NTC</text>
<rect x="648.5" y="739" width="7.4" height="2.7" fill="#e88b2c" stroke="#111" stroke-width="1.4"/>
<text x="661.6" y="742.4" font-size="10.2" font-weight="normal" text-anchor="start" fill="#1a1a1a">si#2</text>
<rect x="648.5" y="748.9" width="7.4" height="2.7" fill="#e0483c" stroke="#111" stroke-width="1.4"/>
<text x="661.6" y="752.3" font-size="10.2" font-weight="normal" text-anchor="start" fill="#1a1a1a">si#3</text>
<text x="424.6" y="471.8" font-size="10" font-weight="bold" text-anchor="start" fill="#000" textLength="37.6" lengthAdjust="spacingAndGlyphs">SNU308</text>
<text x="517.4" y="472" font-size="10" font-weight="bold" text-anchor="start" fill="#000" textLength="45.8" lengthAdjust="spacingAndGlyphs">Mz-ChA-1</text>
<line x1="394.7" y1="480.5" x2="484.5" y2="480.5" stroke="#222" stroke-width="1"/>
<line x1="492" y1="480.5" x2="583.3" y2="480.5" stroke="#222" stroke-width="1"/>
<text transform="translate(400.7 516.7) rotate(-90)" font-size="10" font-weight="normal" text-anchor="start" fill="#000" font-style="italic" textLength="32.8" lengthAdjust="spacingAndGlyphs">Marker</text>
<text transform="translate(428.2 516.7) rotate(-90)" font-size="10" font-weight="bold" text-anchor="start" fill="#000" textLength="19" lengthAdjust="spacingAndGlyphs">NTC</text>
<text transform="translate(451.3 516.7) rotate(-90)" font-size="10" font-weight="bold" text-anchor="start" fill="#000" textLength="19" lengthAdjust="spacingAndGlyphs">si#2</text>
<text transform="translate(472.3 516.7) rotate(-90)" font-size="10" font-weight="bold" text-anchor="start" fill="#000" textLength="19" lengthAdjust="spacingAndGlyphs">si#3</text>
<text transform="translate(502 516.7) rotate(-90)" font-size="10" font-weight="normal" text-anchor="start" fill="#000" font-style="italic" textLength="32.8" lengthAdjust="spacingAndGlyphs">Marker</text>
<text transform="translate(526.1 516.7) rotate(-90)" font-size="10" font-weight="bold" text-anchor="start" fill="#000" textLength="19" lengthAdjust="spacingAndGlyphs">NTC</text>
<text transform="translate(547.4 516.7) rotate(-90)" font-size="10" font-weight="bold" text-anchor="start" fill="#000" textLength="19" lengthAdjust="spacingAndGlyphs">si#2</text>
<text transform="translate(568.9 516.7) rotate(-90)" font-size="10" font-weight="bold" text-anchor="start" fill="#000" textLength="19" lengthAdjust="spacingAndGlyphs">si#3</text>
<defs><filter id="bl" x="-20%" y="-80%" width="140%" height="260%"><feGaussianBlur stdDeviation="0.95"/></filter><filter id="bl2" x="-20%" y="-80%" width="140%" height="260%"><feGaussianBlur stdDeviation="1.4"/></filter><linearGradient id="gA" x1="0" x2="1" y1="0" y2="0"><stop offset="0" stop-color="#c4c4c4"/><stop offset="0.2" stop-color="#c9c9c9"/><stop offset="0.25" stop-color="#d6d6d6"/><stop offset="1" stop-color="#cdcdcd"/></linearGradient><linearGradient id="gB" x1="0" x2="1" y1="0" y2="0"><stop offset="0" stop-color="#bdbdbd"/><stop offset="0.2" stop-color="#c2c2c2"/><stop offset="0.25" stop-color="#d2d2d2"/><stop offset="1" stop-color="#c9c9c9"/></linearGradient></defs>
<rect x="393.3" y="519.3" width="94.4" height="23" fill="#f8f8f8" stroke="#3c3c3c" stroke-width="1.2"/>
<rect x="491.4" y="519.3" width="94.1" height="23" fill="#f8f8f8" stroke="#3c3c3c" stroke-width="1.2"/>
<rect x="393.3" y="546.6" width="94.4" height="23" fill="#ededed" stroke="#3c3c3c" stroke-width="1.2"/>
<rect x="491.4" y="546.6" width="94.1" height="23" fill="url(#gA)" stroke="#3c3c3c" stroke-width="1.2"/>
<rect x="393.3" y="574.4" width="94.4" height="23" fill="#f0f0f0" stroke="#3c3c3c" stroke-width="1.2"/>
<rect x="491.4" y="574.4" width="94.1" height="23" fill="url(#gB)" stroke="#3c3c3c" stroke-width="1.2"/>
<rect x="393.3" y="602.4" width="94.4" height="22.9" fill="#f6f6f6" stroke="#3c3c3c" stroke-width="1.2"/>
<rect x="491.4" y="602.4" width="94.1" height="22.9" fill="#f6f6f6" stroke="#3c3c3c" stroke-width="1.2"/>
<rect x="393.3" y="630.2" width="94.4" height="23.3" fill="#f7f7f7" stroke="#3c3c3c" stroke-width="1.2"/>
<rect x="491.4" y="630.2" width="94.1" height="23.3" fill="#f7f7f7" stroke="#3c3c3c" stroke-width="1.2"/>
<rect x="417.7" y="529.7" width="16.1" height="5" rx="2" fill="#444" filter="url(#bl)"/>
<rect x="418.7" y="534.2" width="14.1" height="2.5" rx="2" fill="#bbb" filter="url(#bl)"/>
<rect x="440.4" y="529.7" width="14.6" height="5" rx="2" fill="#5e5e5e" filter="url(#bl)"/>
<rect x="441.4" y="534.2" width="12.6" height="2.5" rx="2" fill="#bbb" filter="url(#bl)"/>
<rect x="460.8" y="529.7" width="16.8" height="5" rx="2" fill="#505050" filter="url(#bl)"/>
<rect x="461.8" y="534.2" width="14.8" height="2.5" rx="2" fill="#bbb" filter="url(#bl)"/>
<rect x="511.4" y="528.3" width="16.5" height="4.4" rx="2" fill="#050505" filter="url(#bl)"/>
<rect x="533.3" y="528.3" width="17" height="4.4" rx="2" fill="#6e6e6e" filter="url(#bl)"/>
<rect x="557.8" y="528.3" width="19.5" height="4.4" rx="2" fill="#606060" filter="url(#bl)"/>
<rect x="395.5" y="549" width="17.5" height="12" rx="2" fill="#d6d6d6" filter="url(#bl2)"/>
<rect x="417" y="555.9" width="16.8" height="4.4" rx="2" fill="#4a4a4a" filter="url(#bl)"/>
<rect x="417" y="562.6" width="16.8" height="2.6" rx="2" fill="#b0b0b0" filter="url(#bl)"/>
<rect x="439.6" y="555.9" width="17.6" height="4.4" rx="2" fill="#444" filter="url(#bl)"/>
<rect x="439.6" y="562.6" width="17.6" height="2.6" rx="2" fill="#b0b0b0" filter="url(#bl)"/>
<rect x="463" y="555.9" width="15.3" height="4.4" rx="2" fill="#0c0c0c" filter="url(#bl)"/>
<rect x="463" y="562.6" width="15.3" height="2.6" rx="2" fill="#b0b0b0" filter="url(#bl)"/>
<path d="M394.4 569.4L394.4 563.5Q396 561.8 399 561.6L409 561.8Q412.5 562.5 414.3 565.5L414.3 569.4Z" fill="#000" filter="url(#bl)"/>
<rect x="491.9" y="547.1" width="17" height="22" fill="#bdbdbd" filter="url(#bl)" opacity="0.7"/>
<rect x="515.5" y="556.3" width="16.4" height="4.6" rx="2" fill="#6a6a6a" filter="url(#bl)"/>
<rect x="515.5" y="562.5" width="16.4" height="2.6" rx="2" fill="#a8a8a8" filter="url(#bl)"/>
<rect x="537.1" y="556.3" width="17.9" height="4.6" rx="2" fill="#737373" filter="url(#bl)"/>
<rect x="537.1" y="562.5" width="17.9" height="2.6" rx="2" fill="#a8a8a8" filter="url(#bl)"/>
<rect x="561.7" y="556.3" width="18.6" height="4.6" rx="2" fill="#777" filter="url(#bl)"/>
<rect x="561.7" y="562.5" width="18.6" height="2.6" rx="2" fill="#a8a8a8" filter="url(#bl)"/>
<path d="M491.8 569.4L491.8 565.5Q493 564.3 497 564.3L505 564.5Q508 565 509.2 566.5L509.2 569.4Z" fill="#000" filter="url(#bl)"/>
<rect x="417.7" y="580.2" width="16.8" height="3.4" rx="2" fill="#686868" filter="url(#bl)"/>
<rect x="417.7" y="586.5" width="16.8" height="4.4" rx="2" fill="#0a0a0a" filter="url(#bl)"/>
<rect x="440.5" y="580.2" width="16" height="3.4" rx="2" fill="#777" filter="url(#bl)"/>
<rect x="440.5" y="586.5" width="16" height="4.4" rx="2" fill="#555" filter="url(#bl)"/>
<rect x="462" y="580.2" width="19" height="3.4" rx="2" fill="#666" filter="url(#bl)"/>
<rect x="462" y="586.5" width="19" height="4.4" rx="2" fill="#1c1c1c" filter="url(#bl)"/>
<path d="M465 577L470 585L472 596" stroke="#444" stroke-width="1.6" fill="none" filter="url(#bl)"/>
<rect x="491.9" y="574.9" width="17" height="22" fill="#b5b5b5" filter="url(#bl)" opacity="0.7"/>
<rect x="512.6" y="578.8" width="18.6" height="3.4" rx="2" fill="#6a6a6a" filter="url(#bl)"/>
<rect x="512.6" y="586.1" width="18.6" height="4.6" rx="2" fill="#000" filter="url(#bl)"/>
<rect x="537" y="578.8" width="18.7" height="3.4" rx="2" fill="#a5a5a5" filter="url(#bl)"/>
<rect x="537" y="586.1" width="18.7" height="4.6" rx="2" fill="#9a9a9a" filter="url(#bl)"/>
<rect x="561.7" y="578.8" width="18.6" height="3.4" rx="2" fill="#a0a0a0" filter="url(#bl)"/>
<rect x="561.7" y="586.1" width="18.6" height="4.6" rx="2" fill="#8e8e8e" filter="url(#bl)"/>
<rect x="414.6" y="606.3" width="18.6" height="3.6" rx="2" fill="#1a1a1a" filter="url(#bl)"/>
<rect x="414.6" y="611.9" width="18.6" height="3.4" rx="2" fill="#222" filter="url(#bl)"/>
<rect x="440.6" y="606.9" width="17.9" height="3.4" rx="2" fill="#262626" filter="url(#bl)"/>
<rect x="440.6" y="612.4" width="17.9" height="3" rx="2" fill="#3a3a3a" filter="url(#bl)"/>
<rect x="440.6" y="616.8" width="17.9" height="2.8" rx="2" fill="#444" filter="url(#bl)"/>
<rect x="464.4" y="606.6" width="17.2" height="3.8" rx="2" fill="#111" filter="url(#bl)"/>
<rect x="464.4" y="613.1" width="17.2" height="3" rx="2" fill="#333" filter="url(#bl)"/>
<rect x="464.4" y="618.2" width="17.2" height="2.8" rx="2" fill="#3a3a3a" filter="url(#bl)"/>
<rect x="512.6" y="607.5" width="15.6" height="3.5" rx="2" fill="#181818" filter="url(#bl)"/>
<rect x="512.6" y="615.1" width="15.6" height="4" rx="2" fill="#080808" filter="url(#bl)"/>
<rect x="535.4" y="607.5" width="13.6" height="3.5" rx="2" fill="#181818" filter="url(#bl)"/>
<rect x="535.4" y="615.1" width="13.6" height="4" rx="2" fill="#080808" filter="url(#bl)"/>
<rect x="556.8" y="607.5" width="17.6" height="3.5" rx="2" fill="#181818" filter="url(#bl)"/>
<rect x="556.8" y="615.1" width="17.6" height="4" rx="2" fill="#080808" filter="url(#bl)"/>
<rect x="413.8" y="635.6" width="21.6" height="8.2" rx="4" fill="#000" filter="url(#bl)"/>
<rect x="437.3" y="635.6" width="21.9" height="8.2" rx="4" fill="#000" filter="url(#bl)"/>
<rect x="462.2" y="635.6" width="20.9" height="8.2" rx="4" fill="#000" filter="url(#bl)"/>
<rect x="466" y="644" width="14" height="8" rx="2" fill="#ccc" filter="url(#bl2)"/>
<rect x="511" y="637.8" width="21.7" height="8.2" rx="4" fill="#000" filter="url(#bl)"/>
<rect x="534.2" y="637.8" width="22.3" height="8.2" rx="4" fill="#000" filter="url(#bl)"/>
<rect x="558" y="637.8" width="21.6" height="8.2" rx="4" fill="#000" filter="url(#bl)"/>
<text x="356.2" y="541.6" font-size="10.5" font-weight="normal" text-anchor="start" fill="#000" font-style="italic" textLength="32" lengthAdjust="spacingAndGlyphs">55 kDa</text>
<text x="356.2" y="570.6" font-size="10.5" font-weight="normal" text-anchor="start" fill="#000" font-style="italic" textLength="32" lengthAdjust="spacingAndGlyphs">55 kDa</text>
<text x="356.2" y="581" font-size="10.5" font-weight="normal" text-anchor="start" fill="#000" font-style="italic" textLength="32" lengthAdjust="spacingAndGlyphs">55 kDa</text>
<text x="356.2" y="608.6" font-size="10.5" font-weight="normal" text-anchor="start" fill="#000" font-style="italic" textLength="32" lengthAdjust="spacingAndGlyphs">55 kDa</text>
<text x="357.3" y="654.6" font-size="10.5" font-weight="normal" text-anchor="start" fill="#000" font-style="italic" textLength="31" lengthAdjust="spacingAndGlyphs">35 kDa</text>
<text x="590.9" y="534.8" font-size="10" font-weight="bold" text-anchor="start" fill="#111" textLength="59.5" lengthAdjust="spacingAndGlyphs">pAKT (S473)</text>
<text x="590.9" y="560.6" font-size="10" font-weight="bold" text-anchor="start" fill="#111" textLength="20.1" lengthAdjust="spacingAndGlyphs">AKT</text>
<text x="590.9" y="589.3" font-size="10" font-weight="bold" text-anchor="start" fill="#111" textLength="85.9" lengthAdjust="spacingAndGlyphs">pERK (T202/Y204)</text>
<text x="590.9" y="616.5" font-size="10" font-weight="bold" text-anchor="start" fill="#111" textLength="19.6" lengthAdjust="spacingAndGlyphs">ERK</text>
<text x="590.9" y="645" font-size="10" font-weight="bold" text-anchor="start" fill="#111" textLength="35.6" lengthAdjust="spacingAndGlyphs">β-Actin</text>
</svg>
</body></html>
